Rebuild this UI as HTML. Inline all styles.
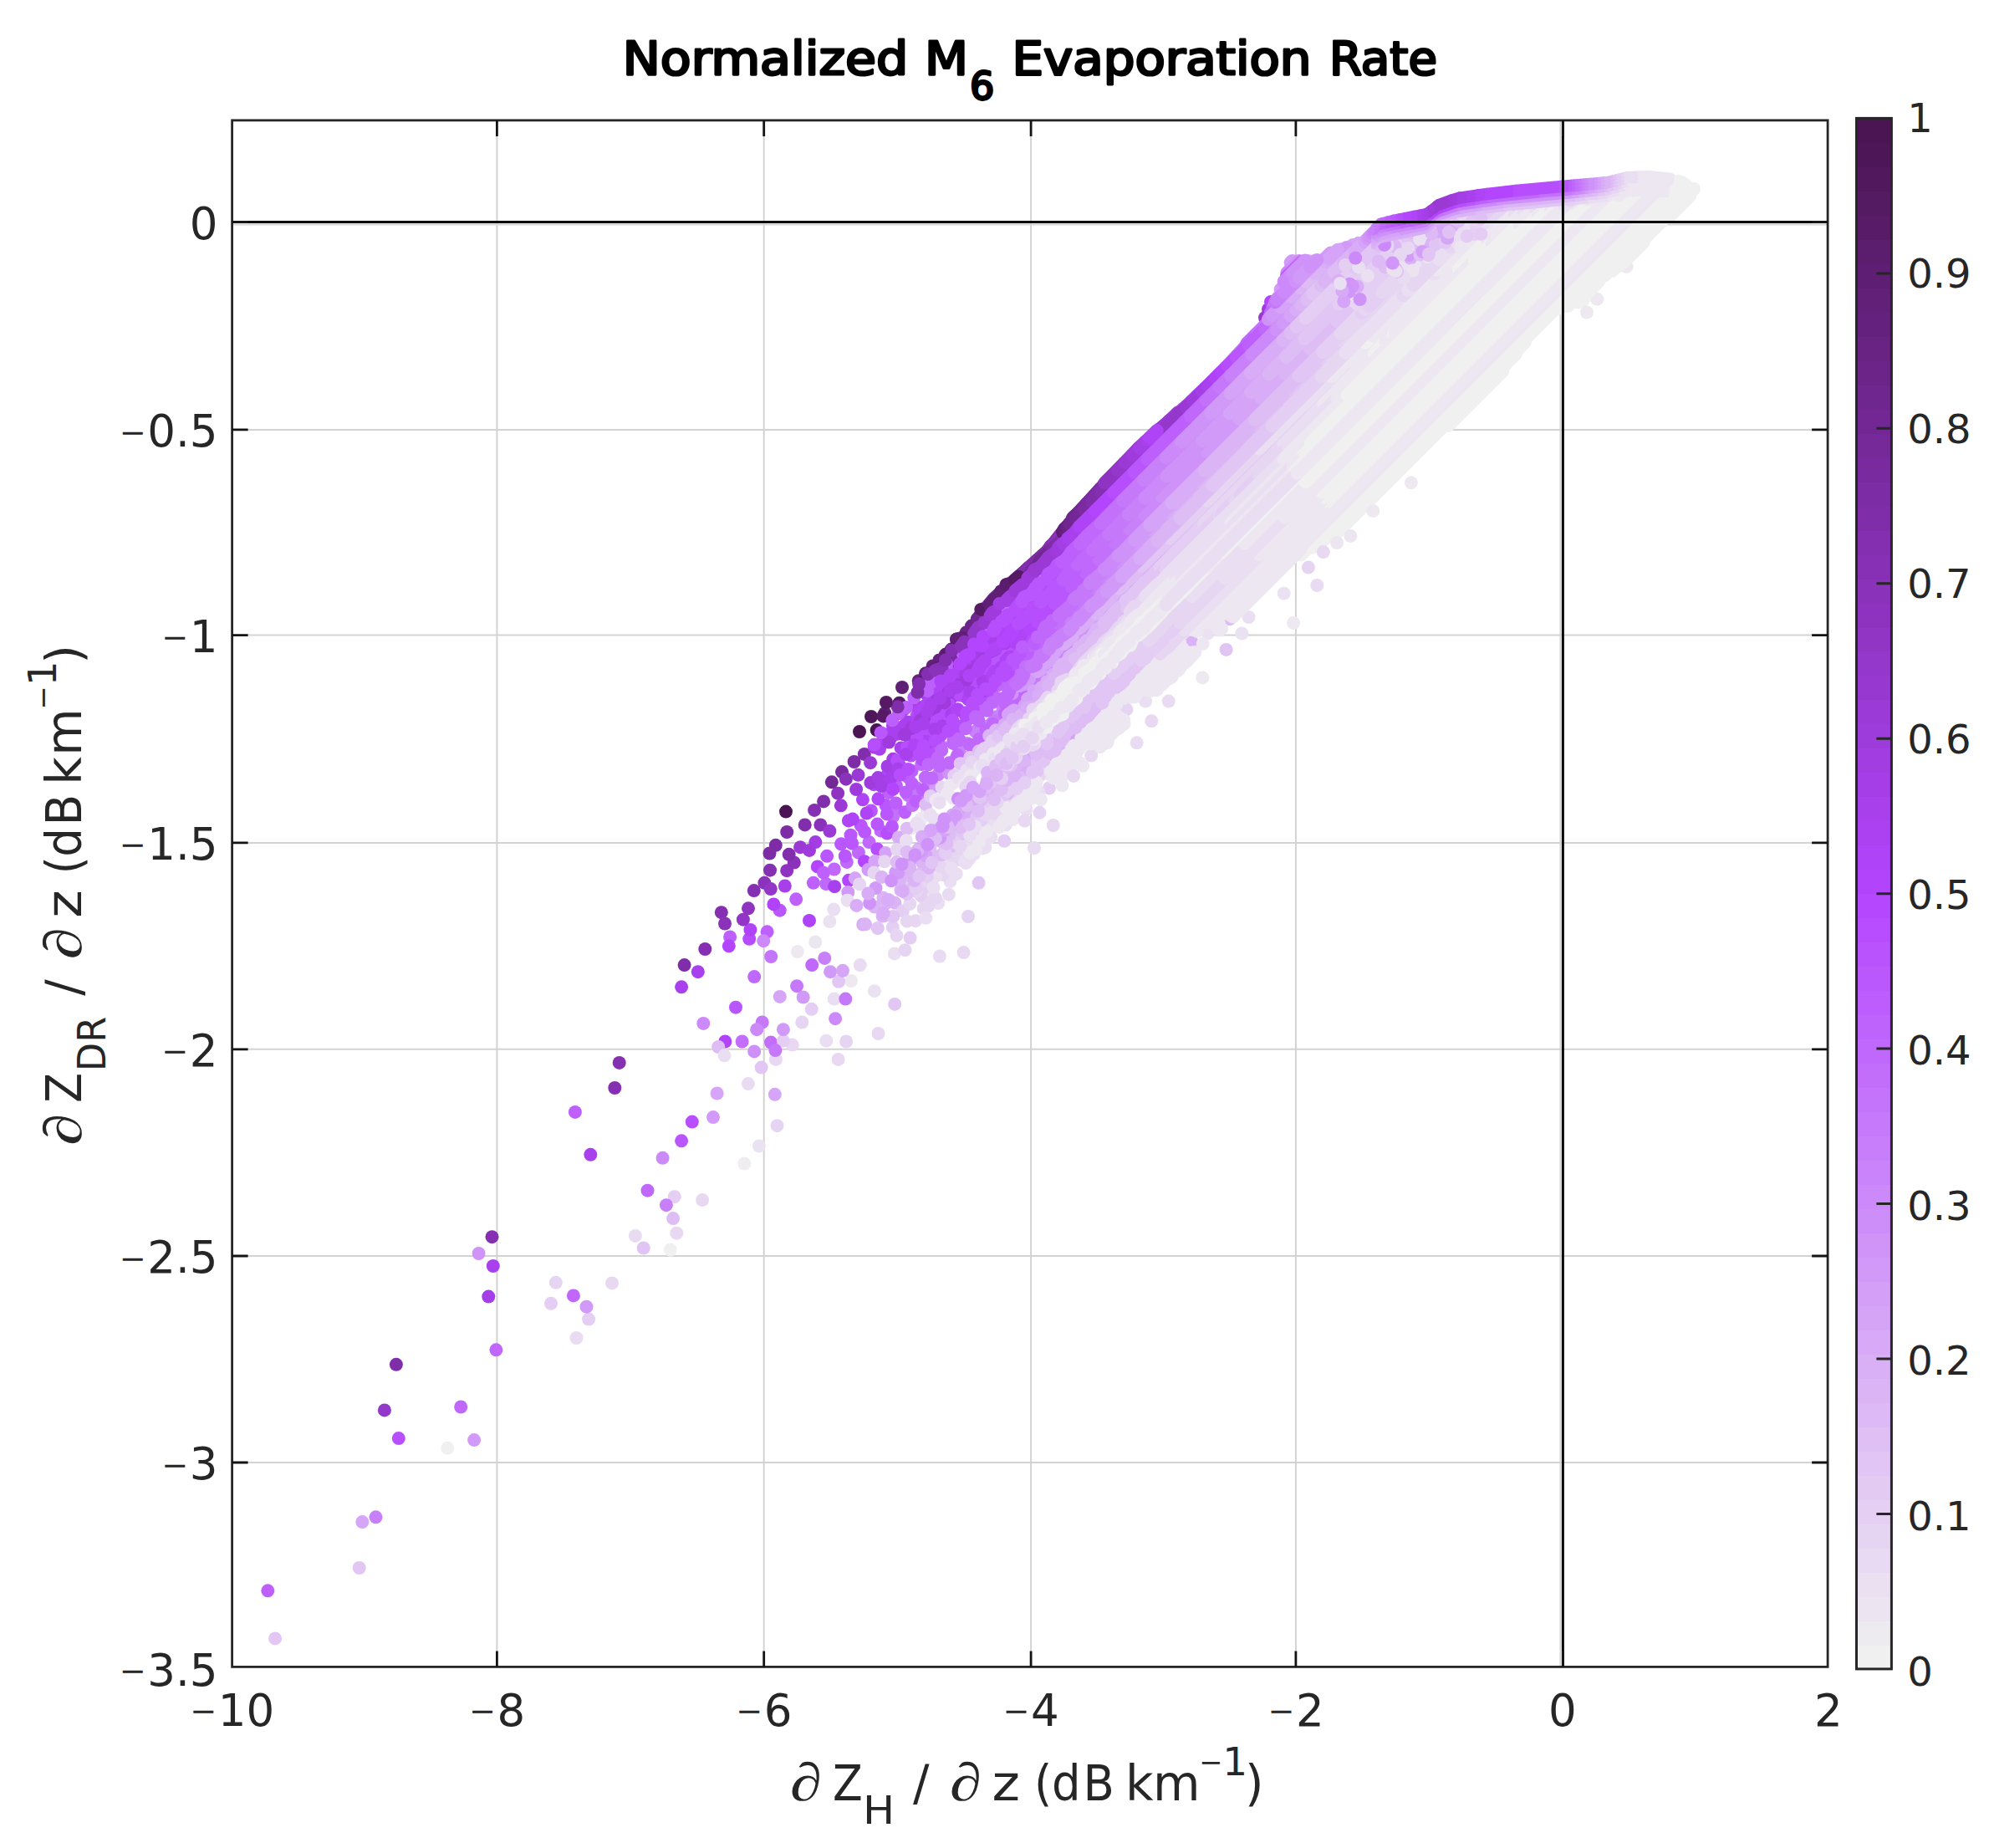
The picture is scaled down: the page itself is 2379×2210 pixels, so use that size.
<!DOCTYPE html>
<html lang="en"><head><meta charset="utf-8"><title>Normalized M6 Evaporation Rate</title>
<style>
html,body{margin:0;padding:0;background:#fff;overflow:hidden;width:2379px;height:2210px}
svg{display:block}
#pts circle{r:8px;stroke:none}
text{font-family:"DejaVu Sans","Liberation Sans",sans-serif;fill:#262626}
.tk{font-size:53px}
.ck{font-size:48px}
.tt{font-size:55px;fill:#000;stroke:#000;stroke-width:2.8px;stroke-linejoin:round}
.lb{font-size:58px}
.sb{font-size:47px}
.sbm{font-size:47px}
.pd{font-family:"Liberation Serif","DejaVu Serif",serif;font-style:italic;font-size:64px}
</style></head>
<body>
<svg width="2379" height="2210" viewBox="0 0 2379 2210">
<rect width="2379" height="2210" fill="#fff"/>
<path d="M594.4 143.9V1993.4M913.7 143.9V1993.4M1233.1 143.9V1993.4M1549.9 143.9V1993.4M1866.5 143.9V1993.4M277.6 268.4H2186.1M277.6 513.9H2186.1M277.6 759.6H2186.1M277.6 1007.9H2186.1M277.6 1254.8H2186.1M277.6 1502H2186.1M277.6 1749H2186.1" stroke="#d3d3d3" stroke-width="2" fill="none"/>
<g id="pts" fill="none" stroke-width="16" stroke-linecap="round" stroke-linejoin="round">
<circle r="8" cx="1517" cy="370" fill="#9f3bdc"/><circle r="8" cx="1513" cy="380" fill="#9b39d5"/><circle r="8" cx="1520" cy="361" fill="#b445ff"/><path stroke="#5f1f75" d="M1058.3 853h0"/><path stroke="#64217d" d="M1098.7 814.2h0M1107 805.3h0M1115.6 796.4h0M1123.4 789.4h0"/><path stroke="#6a2386" d="M1130.8 782.8h0M1137.8 776.6h0M1144.3 770.1h0M1150.1 763h0M1155.6 756.3h0M1162 748.6h0"/><path stroke="#6f268f" d="M1168.6 740.6L1173.6 734.4M1179.2 727.6L1188.5 716.3L1240.5 669.9"/><path stroke="#742897" d="M1240.5 669.9L1253.8 657.9L1285 618.6L1316.1 584.4"/><path stroke="#7a2ba0" d="M1316.1 584.4L1344.6 554.1"/><path stroke="#7f2da8" d="M1344.6 554.1L1354.1 544.2"/><path stroke="#842fb1" d="M1354.1 544.2L1361.7 536.2"/><path stroke="#8a32ba" d="M1361.7 536.2L1369.4 529"/><path stroke="#8f34c2" d="M1369.4 529L1379.4 520.1"/><path stroke="#9437cb" d="M1379.4 520.1L1387.3 513.1"/><path stroke="#9a39d4" d="M1387.3 513.1L1398.1 503.7"/><path stroke="#9f3bdc" d="M1398.1 503.7L1405.3 497.6"/><path stroke="#a43ee5" d="M1405.3 497.6L1415.8 488.6"/><path stroke="#a940ee" d="M1415.8 488.6L1425.6 479.5"/><path stroke="#af43f6" d="M1425.6 479.5L1432.6 472.7"/><path stroke="#b445ff" d="M1432.6 472.7L1441.5 464.1"/><path stroke="#b74efe" d="M1441.5 464.1L1449.9 455.9"/><path stroke="#ba56fe" d="M1449.9 455.9L1458.3 447.5"/><path stroke="#bd5ffd" d="M1458.3 447.5L1466.8 439"/><path stroke="#c067fc" d="M1466.8 439L1483.2 421.4"/><path stroke="#c370fb" d="M1483.2 421.4L1504.2 398.5"/><path stroke="#c678fa" d="M1504.2 398.5L1516 386L1521.9 370.7"/><path stroke="#c981fa" d="M1521.9 370.7L1524.4 364.7"/><circle r="8" cx="971.2" cy="1154.1" fill="#c067fc"/><circle r="8" cx="977.8" cy="1036.4" fill="#b445ff"/><circle r="8" cx="992.4" cy="1102.1" fill="#ebe2f1"/><circle r="8" cx="896.2" cy="1122.8" fill="#b64cfe"/><circle r="8" cx="1370.1" cy="838.6" fill="#eadff2"/><circle r="8" cx="986.3" cy="1145.9" fill="#c87ffa"/><circle r="8" cx="941.2" cy="995" fill="#7d2ca5"/><circle r="8" cx="927.8" cy="1010.8" fill="#7d2ca5"/><circle r="8" cx="740.7" cy="1270.9" fill="#8530b3"/><circle r="8" cx="1079" cy="822" fill="#5f1f75"/><circle r="8" cx="1359.7" cy="888.3" fill="#e9dbf2"/><circle r="8" cx="972.9" cy="1055.8" fill="#be60fd"/><circle r="8" cx="1493.5" cy="738" fill="#eadff2"/><circle r="8" cx="922" cy="1246.6" fill="#c26efb"/><circle r="8" cx="1012.1" cy="1245.5" fill="#e6d5f2"/><circle r="8" cx="867.3" cy="1245.5" fill="#b043f8"/><circle r="8" cx="981.4" cy="986.4" fill="#8a32ba"/><circle r="8" cx="1945.5" cy="318.9" fill="#eee9f1"/><circle r="8" cx="1237" cy="1014" fill="#e9dbf2"/><circle r="8" cx="459.9" cy="1686.4" fill="#9437cb"/><circle r="8" cx="567.1" cy="1722.1" fill="#d29af8"/><circle r="8" cx="947.7" cy="1249.6" fill="#e8d8f2"/><circle r="8" cx="815.1" cy="1364.3" fill="#ba56fe"/><circle r="8" cx="902.2" cy="1168.1" fill="#c067fc"/><circle r="8" cx="917.6" cy="1114.3" fill="#be60fd"/><circle r="8" cx="1045.9" cy="1185.2" fill="#ebe2f1"/><circle r="8" cx="1018" cy="1173" fill="#eee9f1"/><circle r="8" cx="1444.8" cy="757.3" fill="#ebe2f1"/><circle r="8" cx="732" cy="1534.4" fill="#e8d8f2"/><circle r="8" cx="1521.1" cy="686" fill="#debdf4"/><circle r="8" cx="1026.5" cy="926.8" fill="#9b39d5"/><circle r="8" cx="938.8" cy="1059.5" fill="#a73fea"/><circle r="8" cx="1397.7" cy="838.6" fill="#e9dbf2"/><circle r="8" cx="827.8" cy="1341.6" fill="#b84ffe"/><circle r="8" cx="880" cy="1204.7" fill="#ba56fe"/><circle r="8" cx="1158" cy="1096" fill="#e6d5f2"/><circle r="8" cx="320.3" cy="1902.3" fill="#be60fd"/><circle r="8" cx="897.4" cy="1111.9" fill="#b043f8"/><circle r="8" cx="932.7" cy="1088.7" fill="#ba56fe"/><circle r="8" cx="1002.6" cy="1266.9" fill="#e8d8f2"/><circle r="8" cx="914.4" cy="1055.8" fill="#8a32ba"/><circle r="8" cx="975.3" cy="1007.1" fill="#a33de3"/><circle r="8" cx="1033.8" cy="901.9" fill="#812eac"/><circle r="8" cx="774.5" cy="1423.7" fill="#c067fc"/><circle r="8" cx="887.6" cy="1245.5" fill="#c26efb"/><circle r="8" cx="894.9" cy="1296.1" fill="#e9dbf2"/><circle r="8" cx="1028.8" cy="1154.1" fill="#e9dbf2"/><circle r="8" cx="985.1" cy="958.4" fill="#812eac"/><circle r="8" cx="929.5" cy="1346.2" fill="#e6d5f2"/><circle r="8" cx="1607.1" cy="608.4" fill="#ece6f1"/><circle r="8" cx="921.8" cy="1063.1" fill="#9236c8"/><circle r="8" cx="809.3" cy="1474.7" fill="#e8d8f2"/><circle r="8" cx="1347.4" cy="848.4" fill="#e6d5f2"/><circle r="8" cx="1425.3" cy="767.2" fill="#dab2f5"/><circle r="8" cx="962.7" cy="986.4" fill="#812eac"/><circle r="8" cx="968" cy="1100.9" fill="#b043f8"/><circle r="8" cx="1547.1" cy="745.1" fill="#eee9f1"/><circle r="8" cx="1910.3" cy="357.6" fill="#eee9f1"/><circle r="8" cx="1259.7" cy="987" fill="#e8d8f2"/><circle r="8" cx="901.8" cy="1065.1" fill="#8530b3"/><circle r="8" cx="862.8" cy="1091.2" fill="#8530b3"/><circle r="8" cx="769.7" cy="1492.5" fill="#e0c4f4"/><circle r="8" cx="888.9" cy="1099.7" fill="#9236c8"/><circle r="8" cx="584.3" cy="1550.6" fill="#a53ee7"/><circle r="8" cx="704.1" cy="1577.6" fill="#e4cef3"/><circle r="8" cx="957.1" cy="1013.2" fill="#9b39d5"/><circle r="8" cx="433.3" cy="1820.1" fill="#d6a5f7"/><circle r="8" cx="895" cy="1086.3" fill="#8e34c1"/><circle r="8" cx="535.3" cy="1731.8" fill="#f0f0f0"/><circle r="8" cx="907.9" cy="1370.5" fill="#ebe2f1"/><circle r="8" cx="818.6" cy="1154.1" fill="#7f2da8"/><circle r="8" cx="1123.9" cy="1143.5" fill="#e9dbf2"/><circle r="8" cx="806.7" cy="1431.2" fill="#e4cef3"/><circle r="8" cx="1007" cy="923.1" fill="#792a9e"/><circle r="8" cx="873.1" cy="1120.4" fill="#be60fd"/><circle r="8" cx="913.2" cy="1125.2" fill="#cc89f9"/><circle r="8" cx="689.5" cy="1600" fill="#e9dbf2"/><circle r="8" cx="970.7" cy="1206.8" fill="#e4cef3"/><circle r="8" cx="1470.8" cy="740.3" fill="#debdf4"/><circle r="8" cx="551.2" cy="1682.5" fill="#c067fc"/><circle r="8" cx="988.3" cy="1244.7" fill="#eadff2"/><circle r="8" cx="1438.3" cy="810.4" fill="#eee9f1"/><circle r="8" cx="1305.2" cy="903.6" fill="#e8d8f2"/><circle r="8" cx="659" cy="1558.8" fill="#e4cef3"/><circle r="8" cx="926.8" cy="1308.8" fill="#d6a5f7"/><circle r="8" cx="911.7" cy="1222.5" fill="#c678fa"/><circle r="8" cx="1042" cy="857" fill="#4e1759"/><circle r="8" cx="589.8" cy="1514" fill="#a940ee"/><circle r="8" cx="941.2" cy="1041.2" fill="#8e34c1"/><circle r="8" cx="329.1" cy="1959.4" fill="#e2c7f4"/><circle r="8" cx="949.8" cy="1031.5" fill="#8a32ba"/><circle r="8" cx="1254.9" cy="942.5" fill="#e4cef3"/>
<path stroke="#d29af8" d="M1543.6 314.1L1545.7 312"/>
<path stroke="#eadff2" d="M1122.2 1080h0"/><path stroke="#ede7f1" d="M1270.5 939.3h0M1269.2 926h0M1290.8 911.8h0M1317.8 883.9L1322.4 876.2M1337.5 871.2L1340 865.1M1377.2 824.7L1379 822L1388.8 814.6L1396.4 806.6L1405.8 799.7L1421.7 780.6M1455.9 746.9h0M1471.1 731.9L1596.1 606.9"/><path stroke="#f0f0f0" d="M1596.1 606.9L1987.5 215.5"/>
<path stroke="#e7d6f2" d="M1103.8 1072.9h0M1118.1 1046.6h0"/><path stroke="#eadff2" d="M1132.5 1040.9h0M1153.7 1019h0M1162.3 1012.9h0M1183.6 992.7h0M1194.5 980.1h0M1203.7 970.8h0M1214.8 959.7h0M1225.4 946.5h0M1238.8 938.5h0M1243.4 924h0"/><path stroke="#e7d6f2" d="M1257.2 912.8L1261.3 914.1"/><path stroke="#e4cef3" d="M1270.2 898.7h0M1281.6 888.8h0M1289.9 881.8h0M1296.9 869.8L1302 864.1M1312 857h0M1323.5 849.5h0"/><path stroke="#e7d6f2" d="M1331.4 843.2L1336.7 837.3M1343.3 829.1L1346.1 825.3M1353.4 818.7h0M1358.9 811.6L1367.4 802L1374.4 798.2L1382.3 788.3M1388.5 782.2L1392.1 779.2M1398.7 772.9L1402.2 769.7"/><path stroke="#eadff2" d="M1402.2 769.7L1501.1 670.4"/><path stroke="#ede7f1" d="M1501.1 670.4L1506.9 664.5"/><path stroke="#eadff2" d="M1506.9 664.5L1510 661.4"/><path stroke="#ede7f1" d="M1510 661.4L1579.4 592.1"/><path stroke="#f0f0f0" d="M1579.4 592.1L1950.9 220.5"/><path stroke="#ede7f1" d="M1950.9 220.5L1955.5 216"/><path stroke="#f0f0f0" d="M1955.5 216L1957.2 214.2"/>
<path stroke="#ba56fe" d="M1223.1 796.8L1229.8 793.3"/><path stroke="#bd5ffd" d="M1235.8 786.1h0M1243.7 779.1h0"/><path stroke="#c067fc" d="M1254.1 771.6L1253.9 765.1M1264.1 760.3h0"/><path stroke="#c370fb" d="M1271 751.8L1274.7 746.6M1281 740.2h0M1289.7 735.7h0"/><path stroke="#c678fa" d="M1289.7 735.7L1291.3 731L1298.1 727.9L1302.5 720.8L1310.8 712.4"/><path stroke="#c981fa" d="M1310.8 712.4L1325.4 697"/><path stroke="#cc89f9" d="M1325.4 697L1339.1 683.9"/><path stroke="#cf92f8" d="M1339.1 683.9L1359.2 663.5"/><path stroke="#d29af8" d="M1359.2 663.5L1375.8 647.1"/><path stroke="#d5a3f7" d="M1375.8 647.1L1395.9 627"/><path stroke="#d8acf6" d="M1395.9 627L1426.1 596.8"/><path stroke="#dbb4f5" d="M1426.1 596.8L1434.5 588.4"/><path stroke="#d8acf6" d="M1434.5 588.4L1437.1 585.7"/><path stroke="#dbb4f5" d="M1437.1 585.7L1503.2 519.6"/><path stroke="#debdf4" d="M1503.2 519.6L1539.3 483.5"/><path stroke="#e1c5f4" d="M1539.3 483.5L1583.6 439.3"/><path stroke="#e4cef3" d="M1583.6 439.3L1602.9 419.9"/><path stroke="#e7d6f2" d="M1602.9 419.9L1622.2 400.6"/><path stroke="#eadff2" d="M1622.2 400.6L1632.9 390"/><path stroke="#e7d6f2" d="M1632.9 390L1760.4 262.4"/><path stroke="#e4cef3" d="M1760.4 262.4L1771.8 251"/><path stroke="#e1c5f4" d="M1771.8 251L1776.3 246.6"/><path stroke="#debdf4" d="M1776.3 246.6L1778.1 244.8"/><path stroke="#d8acf6" d="M1778.1 244.8L1779.8 243"/><path stroke="#d5a3f7" d="M1779.8 243L1781.9 241"/><path stroke="#cf92f8" d="M1781.9 241L1783.7 239.2"/><path stroke="#c981fa" d="M1783.7 239.2L1785.7 237.1"/><path stroke="#c067fc" d="M1785.7 237.1L1788 234.8"/><path stroke="#b74efe" d="M1788 234.8L1790.1 232.8"/>
<path stroke="#b445ff" d="M1210.9 822.7h0"/><path stroke="#b74efe" d="M1221.1 814.7L1227.2 810.4"/><path stroke="#ba56fe" d="M1231.9 801.8L1238.3 797.9M1241.7 789.8h0"/><path stroke="#bd5ffd" d="M1249.9 784.5L1256.2 779.8"/><path stroke="#c067fc" d="M1264.2 770.7L1268.8 765.3M1274.2 758.3L1280.2 756L1285.6 751.8"/><path stroke="#c370fb" d="M1285.6 751.8L1289.4 745.5L1294.7 742.6L1296.7 735.2L1301.4 731"/><path stroke="#c678fa" d="M1301.4 731L1320.1 715.8"/><path stroke="#c981fa" d="M1320.1 715.8L1323.5 710.9L1336.6 698.3"/><path stroke="#cc89f9" d="M1336.6 698.3L1338.9 695L1343.5 692.8L1345.7 687.5L1348.8 685.5"/><path stroke="#cf92f8" d="M1348.8 685.5L1366.5 668.6"/><path stroke="#d29af8" d="M1366.5 668.6L1384.1 650.5"/><path stroke="#d5a3f7" d="M1384.1 650.5L1403.1 631.4"/><path stroke="#d8acf6" d="M1403.1 631.4L1432.6 602"/><path stroke="#dbb4f5" d="M1432.6 602L1440.8 593.8"/><path stroke="#d8acf6" d="M1440.8 593.8L1457.6 576.9"/><path stroke="#dbb4f5" d="M1457.6 576.9L1514.8 519.8"/><path stroke="#debdf4" d="M1514.8 519.8L1548.9 485.7"/><path stroke="#e1c5f4" d="M1548.9 485.7L1588.7 445.8"/><path stroke="#e4cef3" d="M1588.7 445.8L1608.6 426"/><path stroke="#e7d6f2" d="M1608.6 426L1625.4 409.2"/><path stroke="#eadff2" d="M1625.4 409.2L1641.7 392.9"/><path stroke="#e7d6f2" d="M1641.7 392.9L1652.4 382.1"/><path stroke="#eadff2" d="M1652.4 382.1L1672.4 362.2"/><path stroke="#e7d6f2" d="M1672.4 362.2L1728.4 306.1"/><path stroke="#eadff2" d="M1728.4 306.1L1732.4 302.2"/><path stroke="#e7d6f2" d="M1732.4 302.2L1747.6 287"/><path stroke="#eadff2" d="M1747.6 287L1764.2 270.4"/><path stroke="#e7d6f2" d="M1764.2 270.4L1774 260.6"/><path stroke="#e4cef3" d="M1774 260.6L1785 249.5"/><path stroke="#e1c5f4" d="M1785 249.5L1789.1 245.4"/><path stroke="#debdf4" d="M1789.1 245.4L1791.1 243.5"/><path stroke="#dbb4f5" d="M1791.1 243.5L1793.2 241.4"/><path stroke="#d5a3f7" d="M1793.2 241.4L1795.1 239.4"/><path stroke="#cf92f8" d="M1795.1 239.4L1797 237.6"/><path stroke="#c981fa" d="M1797 237.6L1799 235.6"/><path stroke="#c067fc" d="M1799 235.6L1800.8 233.8"/><path stroke="#b74efe" d="M1800.8 233.8L1802.8 231.7"/>
<path stroke="#af43f6" d="M1248.7 704.6L1253.4 699.5L1258.8 696L1268.2 684.4L1274.4 679.5"/><path stroke="#b445ff" d="M1274.4 679.5L1280.9 674.3L1288.4 665.3"/><path stroke="#b74efe" d="M1288.4 665.3L1293.5 659.8L1299.6 655.7L1307.6 646.2"/><path stroke="#ba56fe" d="M1307.6 646.2L1327.7 626.3"/><path stroke="#bd5ffd" d="M1327.7 626.3L1347.3 606.7"/><path stroke="#c067fc" d="M1347.3 606.7L1366.9 587.1"/><path stroke="#c370fb" d="M1366.9 587.1L1389.2 564.8"/><path stroke="#c678fa" d="M1389.2 564.8L1398.1 555.9"/><path stroke="#c370fb" d="M1398.1 555.9L1412.1 541.9"/><path stroke="#c678fa" d="M1412.1 541.9L1446.2 507.8"/><path stroke="#c981fa" d="M1446.2 507.8L1468.4 485.6"/><path stroke="#cc89f9" d="M1468.4 485.6L1488.5 465.5"/><path stroke="#cf92f8" d="M1488.5 465.5L1507.1 447"/><path stroke="#d29af8" d="M1507.1 447L1525.6 428.4"/><path stroke="#d5a3f7" d="M1525.6 428.4L1541.9 412.1"/><path stroke="#d8acf6" d="M1541.9 412.1L1548.2 405.8"/><path stroke="#dbb4f5" d="M1548.2 405.8L1565.5 388.5"/><path stroke="#debdf4" d="M1565.5 388.5L1597.8 356.3"/><path stroke="#e1c5f4" d="M1597.8 356.3L1669.4 284.6"/><path stroke="#debdf4" d="M1669.4 284.6L1673.7 280.4"/><path stroke="#dbb4f5" d="M1673.7 280.4L1678 276"/><path stroke="#d5a3f7" d="M1678 276L1680.4 273.6"/><path stroke="#d29af8" d="M1680.4 273.6L1682.7 271.3"/><path stroke="#cc89f9" d="M1682.7 271.3L1684.9 269.1"/><path stroke="#c981fa" d="M1684.9 269.1L1686.7 267.3"/><path stroke="#c067fc" d="M1686.7 267.3L1688.9 265.1"/><path stroke="#ba56fe" d="M1688.9 265.1L1690.8 263.2"/><path stroke="#af43f6" d="M1690.8 263.2L1693.3 260.7"/>
<path stroke="#e7d6f2" d="M1087.6 1059.9h0M1099.4 1053.4h0M1111.1 1043.6h0M1129.4 1026.8h0"/><path stroke="#eadff2" d="M1139.5 1016.6h0M1151.3 1002.9h0M1169.4 987.3h0M1179.3 980.9h0"/><path stroke="#e7d6f2" d="M1192.7 963.9h0M1203.4 951.2L1205.6 945.1"/><path stroke="#e4cef3" d="M1220.5 932.9h0M1228.1 923.3h0M1235.1 913.5h0M1243.8 914.4h0"/><path stroke="#e1c5f4" d="M1244.6 898.9h0M1257.3 893.2h0M1269.4 884.9L1269.7 878.7M1279.8 870.5h0M1287.8 863.8h0M1294.9 855.8h0M1303.2 849L1303.3 844.4M1311.6 840.8h0"/><path stroke="#e4cef3" d="M1311.6 840.8L1317.8 838.7L1319.9 831.6L1326.8 827.6M1334.2 821h0M1339.4 814L1343.6 805.2M1351 798.3L1359.8 793.4L1364.5 787.6L1371.5 784.3"/><path stroke="#e7d6f2" d="M1371.5 784.3L1373.3 778.1L1376.3 773.7L1393.9 759.1L1404.3 746.9L1428.9 723"/><path stroke="#eadff2" d="M1428.9 723L1499.4 652.4"/><path stroke="#ede7f1" d="M1499.4 652.4L1569.4 582.4"/><path stroke="#f0f0f0" d="M1569.4 582.4L1915.4 236.5"/><path stroke="#ede7f1" d="M1915.4 236.5L1919.8 232.1"/><path stroke="#eadff2" d="M1919.8 232.1L1924.5 227.4"/><path stroke="#e7d6f2" d="M1924.5 227.4L1926.8 225.1"/><path stroke="#e4cef3" d="M1926.8 225.1L1929 222.9"/><path stroke="#e1c5f4" d="M1929 222.9L1933.9 218"/>
<path stroke="#b74efe" d="M1249.9 748.4h0M1255.5 740.6h0M1264.5 736h0"/><path stroke="#ba56fe" d="M1264.5 736L1267 728.2M1274.5 723.1L1279.2 718.6"/><path stroke="#bd5ffd" d="M1279.2 718.6L1283.7 714.4M1290.3 707.9L1301.7 699.8"/><path stroke="#c067fc" d="M1306.8 692.2L1313.9 684.4"/><path stroke="#c370fb" d="M1313.9 684.4L1326.3 671.5"/><path stroke="#c678fa" d="M1326.3 671.5L1331.3 668L1340 658.3"/><path stroke="#c981fa" d="M1340 658.3L1356.5 641.9"/><path stroke="#cc89f9" d="M1356.5 641.9L1373.4 624.9"/><path stroke="#cf92f8" d="M1373.4 624.9L1394 604.2"/><path stroke="#d29af8" d="M1394 604.2L1461.9 536.3"/><path stroke="#d5a3f7" d="M1461.9 536.3L1497.1 501.2"/><path stroke="#d8acf6" d="M1497.1 501.2L1528.2 470"/><path stroke="#dbb4f5" d="M1528.2 470L1571.9 426.3"/><path stroke="#debdf4" d="M1571.9 426.3L1587.9 410.3"/><path stroke="#e1c5f4" d="M1587.9 410.3L1605.7 392.5"/><path stroke="#e4cef3" d="M1605.7 392.5L1624.9 373.3"/><path stroke="#e1c5f4" d="M1624.9 373.3L1633.7 364.6"/><path stroke="#e4cef3" d="M1633.7 364.6L1667.9 330.3"/><path stroke="#e7d6f2" d="M1667.9 330.3L1674.2 324.1"/><path stroke="#e4cef3" d="M1674.2 324.1L1737.2 261"/><path stroke="#e1c5f4" d="M1737.2 261L1743.3 254.9"/><path stroke="#debdf4" d="M1743.3 254.9L1745.2 253"/><path stroke="#dbb4f5" d="M1745.2 253L1747 251.3"/><path stroke="#d8acf6" d="M1747 251.3L1749.4 248.8"/><path stroke="#d5a3f7" d="M1749.4 248.8L1751.3 246.9"/><path stroke="#d29af8" d="M1751.3 246.9L1753.1 245.2"/><path stroke="#c981fa" d="M1753.1 245.2L1755.5 242.7"/><path stroke="#c370fb" d="M1755.5 242.7L1757.3 240.9"/><path stroke="#ba56fe" d="M1757.3 240.9L1759.1 239.1"/><path stroke="#af43f6" d="M1759.1 239.1L1761.1 237.1"/>
<path stroke="#6f268f" d="M1283 619.3L1290.8 612"/><path stroke="#742897" d="M1290.8 612L1299.9 602.5"/><path stroke="#7a2ba0" d="M1299.9 602.5L1310.2 592.2"/><path stroke="#7f2da8" d="M1310.2 592.2L1323 579.3"/><path stroke="#842fb1" d="M1323 579.3L1338.1 564.2"/><path stroke="#8a32ba" d="M1338.1 564.2L1347.4 554.9"/><path stroke="#8f34c2" d="M1347.4 554.9L1357.2 545.1"/><path stroke="#9437cb" d="M1357.2 545.1L1362.6 539.7"/><path stroke="#9a39d4" d="M1362.6 539.7L1408.9 493.5"/><path stroke="#c067fc" d="M1491.3 411L1502.9 399.4"/><path stroke="#c370fb" d="M1502.9 399.4L1516.4 386"/><path stroke="#c678fa" d="M1516.4 386L1524.9 377.5"/><path stroke="#c981fa" d="M1524.9 377.5L1533.7 368.6"/><path stroke="#cc89f9" d="M1533.7 368.6L1543.3 359"/><path stroke="#cf92f8" d="M1543.3 359L1551.6 350.8"/><path stroke="#d29af8" d="M1551.6 350.8L1559.3 343"/><path stroke="#d5a3f7" d="M1559.3 343L1563.9 338.5"/><path stroke="#d8acf6" d="M1563.9 338.5L1570.1 332.3"/><path stroke="#d5a3f7" d="M1570.1 332.3L1577 325.4"/><path stroke="#d29af8" d="M1577 325.4L1585.3 317.1"/><path stroke="#d5a3f7" d="M1585.3 317.1L1593.9 308.4"/><path stroke="#d29af8" d="M1593.9 308.4L1604 298.3"/>
<path stroke="#dbb4f5" d="M1060.7 1079.6h0M1077.4 1064.5h0"/><path stroke="#debdf4" d="M1089.1 1048.2h0M1103.3 1032h0M1117.5 1024.5h0"/><path stroke="#e1c5f4" d="M1130.6 1013.1h0M1140.9 1000.3h0M1152.2 986.3h0M1169.5 975.8L1172.5 967.9M1183.5 958.6h0M1190.4 947.4h0"/><path stroke="#debdf4" d="M1205.3 935.1h0M1213.1 925.3h0M1226.9 917.3h0M1230 908.6h0M1240.3 899.3h0"/><path stroke="#e1c5f4" d="M1248.6 894.1h0M1255.8 885.2L1257.4 877M1269.3 873.5h0M1273.4 864.4L1278.7 859.6M1284.8 849.8L1290.4 849.1M1296.8 841.4L1300.1 834.8M1310.8 829.5L1315.5 823.8"/><path stroke="#e4cef3" d="M1315.5 823.8L1319.4 817.2L1325.7 815.7M1332.9 808.3L1337.8 802.7M1344.2 795.9L1345.8 792.3L1351.4 786.4L1354.6 784.7L1358.5 779.8"/><path stroke="#e7d6f2" d="M1358.5 779.8L1362.7 775.8L1365.9 774.5L1372.3 765.8L1376.6 763.1L1380.2 758.5L1384.2 756.2L1390.9 747.2L1423.6 715.4"/><path stroke="#eadff2" d="M1423.6 715.4L1493.1 645.7"/><path stroke="#ede7f1" d="M1493.1 645.7L1562.1 576.7"/><path stroke="#f0f0f0" d="M1562.1 576.7L1893.5 245.3"/><path stroke="#ede7f1" d="M1893.5 245.3L1902.8 236"/><path stroke="#eadff2" d="M1902.8 236L1906.4 232.4"/><path stroke="#e7d6f2" d="M1906.4 232.4L1908.7 230.1"/><path stroke="#e4cef3" d="M1908.7 230.1L1911 227.8"/><path stroke="#e1c5f4" d="M1911 227.8L1913.2 225.6"/><path stroke="#dbb4f5" d="M1913.2 225.6L1915.4 223.4"/><path stroke="#d8acf6" d="M1915.4 223.4L1917.7 221.1"/>
<path stroke="#e7d6f2" d="M1095.1 1101.2h0M1110.3 1083.5h0"/><path stroke="#eadff2" d="M1115.1 1066h0M1136.4 1054.1h0M1153.9 1030.2h0M1164.8 1021.4h0M1178.5 1013.3h0M1202.8 986.5h0M1227.4 968.2h0M1230.8 955.7h0M1242.6 947.7h0M1260.8 921.2h0M1275.3 918.2h0M1284.4 909.7h0M1287.6 899.6h0"/><path stroke="#ede7f1" d="M1287.6 899.6L1290.9 895.7M1300 886.4L1305.6 883.1L1311.3 881.7M1320.2 872.3h0M1327 865.6L1326 860.4M1357 833.4L1361.1 826.1L1366.4 821.2L1372.9 818.2L1378.7 813.5L1386.3 802.5L1395.4 795.8L1397.3 791.6L1402.3 789L1409.3 780.6L1412.8 778.5"/><path stroke="#eadff2" d="M1446.3 743.3L1506.9 682.7"/><path stroke="#ede7f1" d="M1506.9 682.7L1976.2 213.5"/>
<path stroke="#bd5ffd" d="M1519.8 374.3h0"/><path stroke="#c067fc" d="M1519.8 374.3L1526.1 368"/><path stroke="#c370fb" d="M1526.1 368L1533.2 360.9"/><path stroke="#c678fa" d="M1533.2 360.9L1542 352.1"/><path stroke="#c981fa" d="M1542 352.1L1550 344.1"/><path stroke="#cc89f9" d="M1550 344.1L1556 338.1"/><path stroke="#cf92f8" d="M1556 338.1L1559.7 334.4"/><path stroke="#d29af8" d="M1559.7 334.4L1569.9 324.2"/><path stroke="#cf92f8" d="M1569.9 324.2L1574.1 320"/><path stroke="#cc89f9" d="M1574.1 320L1583.4 310.7"/><path stroke="#d29af8" d="M1583.4 310.7L1591.6 302.6"/>
<path stroke="#c067fc" d="M988.1 1057h0M997.8 1039.5h0M1012.8 1030.9h0M1026.9 1019.5h0M1039.5 1007.1h0M1053.5 993.4h0"/><path stroke="#c370fb" d="M1068.1 976.4h0M1071.9 967h0"/><path stroke="#c678fa" d="M1086.2 951.2h0M1096.8 942.6h0"/><path stroke="#c981fa" d="M1114.2 937.6h0M1121.8 926.6h0M1132.5 915.7h0M1143.8 906.3h0M1147.3 898.1h0M1157.2 889.1h0M1166.6 874.8h0M1174.1 867.8h0M1185.7 865.4h0M1192.8 857h0M1199.6 848.2h0M1204.4 839.9L1215.2 827.7M1222 820.2h0"/><path stroke="#cc89f9" d="M1222 820.2L1225.1 812.6M1235.9 809.9h0M1242.2 803.3h0"/><path stroke="#cf92f8" d="M1242.2 803.3L1246.4 798L1251.8 795M1258.3 787.4h0M1264.2 779.9h0"/><path stroke="#d29af8" d="M1264.2 779.9L1268.6 777.5M1275.4 769.9L1275.6 769.4M1282.3 763.3L1293.9 752.2L1297.3 745.8"/><path stroke="#d5a3f7" d="M1297.3 745.8L1302.7 740.4L1308.4 739.2L1318.8 725.8L1329.4 715.9"/><path stroke="#d8acf6" d="M1329.4 715.9L1342.3 702.7L1345.1 697.6L1348.7 695"/><path stroke="#dbb4f5" d="M1348.7 695L1376.9 668"/><path stroke="#debdf4" d="M1376.9 668L1406.5 638.3"/><path stroke="#e1c5f4" d="M1406.5 638.3L1444.4 600.3"/><path stroke="#e4cef3" d="M1444.4 600.3L1524.9 519.8"/><path stroke="#e7d6f2" d="M1524.9 519.8L1595.1 449.6"/><path stroke="#eadff2" d="M1595.1 449.6L1624 420.7"/><path stroke="#ede7f1" d="M1624 420.7L1657.8 386.9"/><path stroke="#eadff2" d="M1657.8 386.9L1757.1 287.6"/><path stroke="#ede7f1" d="M1757.1 287.6L1763.5 281.2"/><path stroke="#eadff2" d="M1763.5 281.2L1783.6 261.2"/><path stroke="#e7d6f2" d="M1783.6 261.2L1792.7 252"/><path stroke="#e4cef3" d="M1792.7 252L1801.6 243.1"/><path stroke="#e1c5f4" d="M1801.6 243.1L1803.5 241.2"/><path stroke="#dbb4f5" d="M1803.5 241.2L1805.7 239.1"/><path stroke="#d5a3f7" d="M1805.7 239.1L1807.7 237"/><path stroke="#cf92f8" d="M1807.7 237L1809.9 234.9"/><path stroke="#c678fa" d="M1809.9 234.9L1812.1 232.6"/><path stroke="#bd5ffd" d="M1812.1 232.6L1814 230.7"/><path stroke="#b74efe" d="M1814 230.7L1815.8 229"/>
<path stroke="#a940ee" d="M998.2 1060.2h0"/><path stroke="#b445ff" d="M1015.1 1052.8h0M1033.9 1030.2h0"/><path stroke="#b74efe" d="M1049.3 1015.4h0M1061.1 996.6h0"/><path stroke="#ba56fe" d="M1066.9 988.4h0"/><path stroke="#bd5ffd" d="M1082.3 971.3h0"/><path stroke="#c370fb" d="M1091.5 963h0"/><path stroke="#c981fa" d="M1106.9 950.8h0"/><path stroke="#d29af8" d="M1119.1 942.8h0"/><path stroke="#cf92f8" d="M1134.9 924.5h0M1144.5 919.6h0"/><path stroke="#cc89f9" d="M1150.5 910.5h0M1160.7 904.4h0"/><path stroke="#c981fa" d="M1172.3 888.1h0M1179.1 882.9h0M1186.6 869.2h0"/><path stroke="#c678fa" d="M1186.6 869.2L1189.1 862.5M1201.1 857.5h0"/><path stroke="#c370fb" d="M1212.7 849.4h0M1218.2 840h0"/><path stroke="#c678fa" d="M1218.2 840L1221.8 834.5M1230.7 830.6h0M1238.6 821.4h0"/><path stroke="#c981fa" d="M1238.6 821.4L1243.2 815"/><path stroke="#cc89f9" d="M1253.6 806.3L1257.9 803.5M1264.7 798.1h0"/><path stroke="#cf92f8" d="M1270.6 789.9h0M1279 784.6L1284.7 775.6M1292 768.4L1296 762.1L1304 756.3"/><path stroke="#d29af8" d="M1311.9 748.1L1315.3 748L1318.1 741L1325 736.5L1332.1 727.9"/><path stroke="#d5a3f7" d="M1332.1 727.9L1346.4 712.6"/><path stroke="#d8acf6" d="M1346.4 712.6L1351 709.8L1357.7 701.5L1367 692.9"/><path stroke="#dbb4f5" d="M1367 692.9L1395.2 665.3"/><path stroke="#debdf4" d="M1395.2 665.3L1423 637.5"/><path stroke="#e1c5f4" d="M1423 637.5L1524.3 536.1"/><path stroke="#e4cef3" d="M1524.3 536.1L1553.8 506.6"/><path stroke="#e7d6f2" d="M1553.8 506.6L1594.8 465.6"/><path stroke="#eadff2" d="M1594.8 465.6L1615.1 445.4"/><path stroke="#ede7f1" d="M1615.1 445.4L1739.4 321"/><path stroke="#f0f0f0" d="M1739.4 321L1750.8 309.7"/><path stroke="#ede7f1" d="M1750.8 309.7L1759.2 301.2"/><path stroke="#f0f0f0" d="M1759.2 301.2L1777.1 283.3"/><path stroke="#ede7f1" d="M1777.1 283.3L1803.7 256.8"/><path stroke="#eadff2" d="M1803.7 256.8L1808.3 252.1"/><path stroke="#e7d6f2" d="M1808.3 252.1L1813.8 246.6"/><path stroke="#e4cef3" d="M1813.8 246.6L1818.3 242.1"/><path stroke="#e1c5f4" d="M1818.3 242.1L1820.3 240.1"/><path stroke="#debdf4" d="M1820.3 240.1L1822.2 238.3"/><path stroke="#dbb4f5" d="M1822.2 238.3L1824 236.5"/><path stroke="#d29af8" d="M1824 236.5L1826.4 234.1"/><path stroke="#c678fa" d="M1826.4 234.1L1828.7 231.8"/><path stroke="#bd5ffd" d="M1828.7 231.8L1830.9 229.5"/><path stroke="#b445ff" d="M1830.9 229.5L1832.8 227.6"/>
<path stroke="#af43f6" d="M1225.1 802.3L1230.9 796.3"/><path stroke="#b445ff" d="M1235.3 788.4L1241.8 784.4M1247 777.7h0"/><path stroke="#b74efe" d="M1255.4 770.8L1260.1 764.6L1268.1 763.4"/><path stroke="#ba56fe" d="M1268.1 763.4L1270.2 755.3M1276.9 749.5L1279.4 745.2L1285.4 742"/><path stroke="#bd5ffd" d="M1285.4 742L1289 737.4M1294.8 731L1303.7 723.6"/><path stroke="#c067fc" d="M1303.7 723.6L1312.2 712.6L1316.5 708.9"/><path stroke="#c370fb" d="M1316.5 708.9L1320.5 706L1326.8 697.8L1331.4 694.5"/><path stroke="#c678fa" d="M1331.4 694.5L1342.8 683.3"/><path stroke="#c981fa" d="M1342.8 683.3L1359.4 666.7"/><path stroke="#cc89f9" d="M1359.4 666.7L1375 650.8"/><path stroke="#cf92f8" d="M1375 650.8L1390.3 635.4"/><path stroke="#d29af8" d="M1390.3 635.4L1407 618.8"/><path stroke="#d5a3f7" d="M1407 618.8L1434.7 591.1"/><path stroke="#d29af8" d="M1434.7 591.1L1437.3 588.5"/><path stroke="#d5a3f7" d="M1437.3 588.5L1496.4 529.4"/><path stroke="#d8acf6" d="M1496.4 529.4L1522.6 503.2"/><path stroke="#dbb4f5" d="M1522.6 503.2L1559 466.8"/><path stroke="#debdf4" d="M1559 466.8L1584.6 441.2"/><path stroke="#e1c5f4" d="M1584.6 441.2L1602 423.7"/><path stroke="#e4cef3" d="M1602 423.7L1618.6 407.2"/><path stroke="#e7d6f2" d="M1618.6 407.2L1637.9 387.8"/><path stroke="#e4cef3" d="M1637.9 387.8L1648.3 377.4"/><path stroke="#e7d6f2" d="M1648.3 377.4L1762.4 263.4"/><path stroke="#e4cef3" d="M1762.4 263.4L1772.7 253"/><path stroke="#e1c5f4" d="M1772.7 253L1778.7 247"/><path stroke="#debdf4" d="M1778.7 247L1781 244.7"/><path stroke="#d8acf6" d="M1781 244.7L1783.5 242.2"/><path stroke="#d29af8" d="M1783.5 242.2L1785.7 240.1"/><path stroke="#cc89f9" d="M1785.7 240.1L1787.6 238.1"/><path stroke="#c370fb" d="M1787.6 238.1L1789.7 236"/><path stroke="#ba56fe" d="M1789.7 236L1792.2 233.6"/><path stroke="#af43f6" d="M1792.2 233.6L1794.1 231.6"/>
<path stroke="#cf92f8" d="M1527.7 357.1L1530.4 354.3"/><path stroke="#d29af8" d="M1530.4 354.3L1545.3 339.5"/><path stroke="#d5a3f7" d="M1545.3 339.5L1554.4 330.3"/><path stroke="#d8acf6" d="M1554.4 330.3L1568.2 316.6"/><path stroke="#d5a3f7" d="M1568.2 316.6L1572.7 312.1"/>
<path stroke="#e1c5f4" d="M1058.6 1095h0M1063.5 1076.2h0M1081.7 1066.5h0M1100.8 1057.3h0M1114.7 1034.7h0"/><path stroke="#e4cef3" d="M1126.6 1024.7h0M1142.2 1010.5h0"/><path stroke="#e7d6f2" d="M1150.8 1002.8h0M1162.8 991.3h0M1168.6 978.1h0"/><path stroke="#e4cef3" d="M1188.7 965.8L1193.1 959.8M1199.8 950.6h0"/><path stroke="#e1c5f4" d="M1213.1 941h0M1221.1 932.6h0"/><path stroke="#debdf4" d="M1228.8 927.8h0M1234.3 912.5h0M1243.7 905.2h0"/><path stroke="#dbb4f5" d="M1243.7 905.2L1250.7 900.6L1253.3 894.2M1263.4 881.5L1269.2 881.1L1275.1 878.7M1280.6 869.4L1285.8 865.9M1295.3 852.3L1307 849.3L1311 843.5"/><path stroke="#debdf4" d="M1316.1 834.1L1320.8 828M1328.5 824.2h0M1333.4 816.6h0M1341.6 812.5L1346.8 805.9L1351.1 802.9L1352.6 798.5"/><path stroke="#e1c5f4" d="M1352.6 798.5L1361.8 790.3L1364.5 786L1369.9 783.3L1373.2 777.8L1384.8 768.4L1393.3 758.1"/><path stroke="#e4cef3" d="M1393.3 758.1L1398 754.3L1400.8 750.3L1404.4 748.7L1407.6 744.1L1411.2 742.3L1419.7 732.1L1438.1 714"/><path stroke="#e7d6f2" d="M1438.1 714L1486.1 665.9"/><path stroke="#eadff2" d="M1486.1 665.9L1538.2 613.8"/><path stroke="#ede7f1" d="M1538.2 613.8L1569.6 582.5"/><path stroke="#f0f0f0" d="M1569.6 582.5L1909.9 242.1"/><path stroke="#ede7f1" d="M1909.9 242.1L1919 233"/><path stroke="#eadff2" d="M1919 233L1923.8 228.3"/><path stroke="#e7d6f2" d="M1923.8 228.3L1925.7 226.3"/><path stroke="#e4cef3" d="M1925.7 226.3L1928.2 223.8"/><path stroke="#e1c5f4" d="M1928.2 223.8L1934.4 217.7"/>
<path stroke="#debdf4" d="M1358 795.8L1364.4 793.9L1366.7 787.3L1372.6 784.3"/><path stroke="#e1c5f4" d="M1372.6 784.3L1392.2 763.7L1396 762.7L1399.7 755.7L1403.8 753.4L1407.1 749.6"/><path stroke="#e4cef3" d="M1407.1 749.6L1447.8 709"/><path stroke="#e7d6f2" d="M1447.8 709L1506.8 650"/><path stroke="#eadff2" d="M1506.8 650L1561 595.8"/><path stroke="#ede7f1" d="M1561 595.8L1595 561.7"/><path stroke="#f0f0f0" d="M1595 561.7L1914.4 242.4"/><path stroke="#ede7f1" d="M1914.4 242.4L1926.1 230.7"/><path stroke="#eadff2" d="M1926.1 230.7L1927.9 228.9"/><path stroke="#e7d6f2" d="M1927.9 228.9L1932.5 224.3"/><path stroke="#e4cef3" d="M1932.5 224.3L1941.2 215.6"/>
<path stroke="#ede7f1" d="M1276.1 917.2h0M1283.8 907.9h0M1308.1 885.3h0M1316.9 880.1h0M1322.7 870.8h0M1330.4 863.9h0M1338.7 858.1h0M1370.2 824L1373.9 820.8M1381.2 815.3L1385.6 809.1L1396 800L1400.2 794.3L1415.1 781.2M1449.7 744.8L1457.6 737.5M1465.3 729.7L1592.4 602.6"/><path stroke="#f0f0f0" d="M1592.4 602.6L1980.3 214.8"/>
<path stroke="#b445ff" d="M1054.2 888.4h0M1066.1 879.3h0"/><path stroke="#b74efe" d="M1066.1 879.3L1070.8 874.3M1084 865.5h0M1096.6 856.1h0M1105.9 844.5h0M1111.6 836.3h0M1122 821.6L1127.8 816.3L1134.8 814.5M1141.5 803.4h0"/><path stroke="#ba56fe" d="M1150 798.4h0M1154.6 789h0M1163.3 785.7h0M1168.5 777.6L1168.3 775.9M1176.9 772.7h0M1181.5 764.4L1184.6 758.9"/><path stroke="#bd5ffd" d="M1191.5 752L1197.5 748.6M1205.6 741.5L1208.6 736.9L1213.5 735.5M1218.5 725.7L1221.5 722.7M1227.8 716.7h0"/><path stroke="#c067fc" d="M1227.8 716.7L1231.8 715.7L1234.1 709.7L1239.2 704.7M1247.8 700.7L1251.8 694.9L1256.3 691.3L1258.2 686.8L1266.9 681.1L1268.3 676.9L1273 671.1"/><path stroke="#c370fb" d="M1273 671.1L1297.1 649"/><path stroke="#c678fa" d="M1297.1 649L1320.7 625.7"/><path stroke="#c981fa" d="M1320.7 625.7L1349.3 596.7"/><path stroke="#cc89f9" d="M1349.3 596.7L1376.6 569.4"/><path stroke="#cf92f8" d="M1376.6 569.4L1396.3 549.7"/><path stroke="#d29af8" d="M1396.3 549.7L1413.2 532.8"/><path stroke="#d5a3f7" d="M1413.2 532.8L1454.5 491.5"/><path stroke="#d8acf6" d="M1454.5 491.5L1482.1 463.9"/><path stroke="#dbb4f5" d="M1482.1 463.9L1515.8 430.2"/><path stroke="#debdf4" d="M1515.8 430.2L1540.3 405.7"/><path stroke="#e1c5f4" d="M1540.3 405.7L1550.7 395.3"/><path stroke="#e4cef3" d="M1550.7 395.3L1571 375"/><path stroke="#e7d6f2" d="M1571 375L1609.1 336.9"/><path stroke="#e4cef3" d="M1609.1 336.9L1645.8 300.2"/><path stroke="#e1c5f4" d="M1645.8 300.2L1664.7 281.3"/><path stroke="#debdf4" d="M1664.7 281.3L1666.9 279.1"/><path stroke="#dbb4f5" d="M1666.9 279.1L1669.2 276.8"/><path stroke="#d8acf6" d="M1669.2 276.8L1671.5 274.5"/><path stroke="#d5a3f7" d="M1671.5 274.5L1673.3 272.7"/><path stroke="#cf92f8" d="M1673.3 272.7L1675.7 270.3"/><path stroke="#c981fa" d="M1675.7 270.3L1678.2 267.8"/><path stroke="#c678fa" d="M1678.2 267.8L1680.3 265.7"/><path stroke="#c067fc" d="M1680.3 265.7L1682.2 263.8"/><path stroke="#ba56fe" d="M1682.2 263.8L1684.3 261.7"/>
<path stroke="#8a32ba" d="M1177 728h0"/><path stroke="#8f34c2" d="M1188.2 722.6h0M1197 715.3L1202.1 709.8M1207.1 702.4h0"/><path stroke="#8a32ba" d="M1214.5 694.8L1218.1 691.9"/><path stroke="#842fb1" d="M1224.5 684.9L1229.9 679.2L1236.5 674.8"/><path stroke="#7f2da8" d="M1236.5 674.8L1246.5 665.4"/><path stroke="#7a2ba0" d="M1246.5 665.4L1252.2 660.1"/><path stroke="#7f2da8" d="M1252.2 660.1L1256.6 653.2"/><path stroke="#842fb1" d="M1256.6 653.2L1261 650.6"/><path stroke="#8a32ba" d="M1261 650.6L1268.6 641.1"/><path stroke="#8f34c2" d="M1268.6 641.1L1273.2 638.9"/><path stroke="#9437cb" d="M1273.2 638.9L1277.8 633.8"/><path stroke="#9a39d4" d="M1277.8 633.8L1284.8 626.4"/><path stroke="#9f3bdc" d="M1284.8 626.4L1300.5 610"/><path stroke="#a43ee5" d="M1300.5 610L1308.7 603.1L1318.8 592.3"/><path stroke="#a940ee" d="M1318.8 592.3L1340.3 570.9"/><path stroke="#af43f6" d="M1340.3 570.9L1356.5 554.7"/><path stroke="#b445ff" d="M1356.5 554.7L1366.1 545.1"/><path stroke="#b74efe" d="M1366.1 545.1L1391.4 519.8"/><path stroke="#ba56fe" d="M1391.4 519.8L1425.4 485.8"/><path stroke="#bd5ffd" d="M1425.4 485.8L1439.9 471.3"/><path stroke="#c067fc" d="M1439.9 471.3L1452.5 458.7"/><path stroke="#c370fb" d="M1452.5 458.7L1462.6 448.6"/><path stroke="#c678fa" d="M1462.6 448.6L1474.3 436.9"/><path stroke="#c981fa" d="M1474.3 436.9L1497.2 414"/><path stroke="#cc89f9" d="M1497.2 414L1522.4 388.8"/><path stroke="#cf92f8" d="M1522.4 388.8L1530.5 380.7"/><path stroke="#d29af8" d="M1530.5 380.7L1539.5 371.7"/><path stroke="#d5a3f7" d="M1539.5 371.7L1548.6 362.6"/><path stroke="#d8acf6" d="M1548.6 362.6L1555.6 355.5"/><path stroke="#dbb4f5" d="M1555.6 355.5L1563.3 347.9"/><path stroke="#debdf4" d="M1563.3 347.9L1567.5 343.7"/><path stroke="#e1c5f4" d="M1567.5 343.7L1574.1 337"/><path stroke="#debdf4" d="M1574.1 337L1581.2 330"/><path stroke="#dbb4f5" d="M1581.2 330L1607.4 303.8"/><path stroke="#d8acf6" d="M1607.4 303.8L1616.3 294.9"/><path stroke="#d5a3f7" d="M1616.3 294.9L1618.2 293"/>
<path stroke="#e4cef3" d="M1101.5 1057.7h0M1118.9 1043.2h0"/><path stroke="#e7d6f2" d="M1130.1 1031.1h0M1146.9 1011.5h0M1163.8 1000.5h0M1175.3 986.3h0M1192.2 973.5h0M1195.9 959.1h0"/><path stroke="#e4cef3" d="M1215.3 946.3h0M1223.3 934.4h0"/><path stroke="#e1c5f4" d="M1240.2 925.8h0M1247.4 914.6h0"/><path stroke="#debdf4" d="M1247.4 914.6L1250.4 909.7M1260.3 896.1h0"/><path stroke="#dbb4f5" d="M1271.9 889.3h0M1277.1 882.1h0M1284.5 871.7L1291.8 867.6M1299.9 859.9h0"/><path stroke="#debdf4" d="M1307.6 855L1312.2 847.9M1321.3 842.3h0M1329.5 832.6h0M1335 825.2L1339.5 820"/><path stroke="#e1c5f4" d="M1339.5 820L1344.6 815.7M1352 809.6L1361.9 801.1M1366.9 793.5L1371.2 789M1378.7 782.9L1381.4 779.2L1388.4 775"/><path stroke="#e4cef3" d="M1388.4 775L1390.8 769.9M1396.2 763.1L1399.7 761.8L1433.2 727.6"/><path stroke="#e7d6f2" d="M1433.2 727.6L1490.3 670.9"/><path stroke="#eadff2" d="M1490.3 670.9L1575.3 585.9"/><path stroke="#ede7f1" d="M1575.3 585.9L1932 229.3"/><path stroke="#eadff2" d="M1932 229.3L1936.1 225.1"/><path stroke="#e7d6f2" d="M1936.1 225.1L1942.5 218.7"/><path stroke="#e4cef3" d="M1942.5 218.7L1944.7 216.5"/><path stroke="#e7d6f2" d="M1944.7 216.5L1947.1 214.1"/>
<path stroke="#f0f0f0" d="M1599.9 636.2L1813.1 423M1869.2 366.9L2015.4 220.7"/>
<path stroke="#f0f0f0" d="M1892.5 359.6L1894.8 357.2M1928 324L2022.3 229.7M2026 226h0"/>
<path stroke="#cc89f9" d="M1539.3 326.4L1545.9 319.8"/><path stroke="#cf92f8" d="M1545.9 319.8L1553.7 312"/>
<path stroke="#f0f0f0" d="M1591.2 641.7L1824 409M1864.2 368.7L2013 220"/>
<path stroke="#a43ee5" d="M1045.8 893.7h0"/><path stroke="#a940ee" d="M1058.7 878.5h0M1068 868h0M1085.8 863.5h0M1081.1 848.4h0M1095.7 844.5h0M1107.8 829.7h0"/><path stroke="#af43f6" d="M1120 822.2h0M1125.7 812.6h0M1130.5 804.2h0M1143.9 798L1149.7 791.9M1154.7 781h0M1161.3 774L1167.7 771.4"/><path stroke="#b445ff" d="M1174.1 763.2L1175.7 758.5M1185 752.7L1189.2 746.7M1197.6 737.9L1202.7 735.5"/><path stroke="#b74efe" d="M1202.7 735.5L1206.1 729.3M1215.4 722.4L1222.8 714.1L1227.6 711.1M1232.7 703.5L1239.1 700.8M1245.4 693.3L1252.8 683.9"/><path stroke="#ba56fe" d="M1252.8 683.9L1259 680L1270.6 665.9L1275.1 663.2L1283.5 654.6"/><path stroke="#bd5ffd" d="M1283.5 654.6L1307.1 631"/><path stroke="#c067fc" d="M1307.1 631L1333.1 604.8"/><path stroke="#c370fb" d="M1333.1 604.8L1361.4 576.5"/><path stroke="#c678fa" d="M1361.4 576.5L1382.4 555.5"/><path stroke="#c981fa" d="M1382.4 555.5L1404.5 533.3"/><path stroke="#cc89f9" d="M1404.5 533.3L1435.3 502.5"/><path stroke="#cf92f8" d="M1435.3 502.5L1459.4 478.5"/><path stroke="#d29af8" d="M1459.4 478.5L1479 458.8"/><path stroke="#d5a3f7" d="M1479 458.8L1512.9 425"/><path stroke="#d8acf6" d="M1512.9 425L1538.2 399.6"/><path stroke="#dbb4f5" d="M1538.2 399.6L1544.6 393.3"/><path stroke="#debdf4" d="M1544.6 393.3L1553.4 384.5"/><path stroke="#e1c5f4" d="M1553.4 384.5L1561.7 376.2"/><path stroke="#e4cef3" d="M1561.7 376.2L1588.7 349.2"/><path stroke="#e7d6f2" d="M1588.7 349.2L1593.1 344.7"/><path stroke="#e4cef3" d="M1593.1 344.7L1626.1 311.7"/><path stroke="#e1c5f4" d="M1626.1 311.7L1644.1 293.8"/><path stroke="#debdf4" d="M1644.1 293.8L1652.1 285.8"/><path stroke="#dbb4f5" d="M1652.1 285.8L1658.3 279.6"/><path stroke="#d8acf6" d="M1658.3 279.6L1660.8 277.1"/><path stroke="#d5a3f7" d="M1660.8 277.1L1662.8 275.1"/><path stroke="#d29af8" d="M1662.8 275.1L1664.7 273.2"/><path stroke="#cc89f9" d="M1664.7 273.2L1666.9 270.9"/><path stroke="#c981fa" d="M1666.9 270.9L1669.5 268.4"/><path stroke="#c370fb" d="M1669.5 268.4L1671.7 266.2"/><path stroke="#bd5ffd" d="M1671.7 266.2L1674 263.9"/>
<path stroke="#c678fa" d="M1303.9 706L1313.7 697.9"/><path stroke="#c981fa" d="M1313.7 697.9L1316.1 694.4M1322.1 688.3L1324.2 685.5"/><path stroke="#cc89f9" d="M1324.2 685.5L1338.6 672.8L1342.3 668.1"/><path stroke="#cf92f8" d="M1342.3 668.1L1361.9 648.8"/><path stroke="#d29af8" d="M1361.9 648.8L1379.5 631.1"/><path stroke="#d5a3f7" d="M1379.5 631.1L1403.3 607.4"/><path stroke="#d8acf6" d="M1403.3 607.4L1457.4 553.3"/><path stroke="#dbb4f5" d="M1457.4 553.3L1510.8 499.9"/><path stroke="#debdf4" d="M1510.8 499.9L1559.6 451.1"/><path stroke="#e1c5f4" d="M1559.6 451.1L1584.5 426.2"/><path stroke="#e4cef3" d="M1584.5 426.2L1604.2 406.5"/><path stroke="#e7d6f2" d="M1604.2 406.5L1728.2 282.5"/><path stroke="#e4cef3" d="M1728.2 282.5L1739 271.6"/><path stroke="#e7d6f2" d="M1739 271.6L1743.2 267.5"/><path stroke="#e4cef3" d="M1743.2 267.5L1759.8 250.8"/><path stroke="#e1c5f4" d="M1759.8 250.8L1761.6 249.1"/><path stroke="#debdf4" d="M1761.6 249.1L1763.9 246.7"/><path stroke="#d8acf6" d="M1763.9 246.7L1765.9 244.8"/><path stroke="#d29af8" d="M1765.9 244.8L1767.7 243"/><path stroke="#cc89f9" d="M1767.7 243L1770.2 240.5"/><path stroke="#c370fb" d="M1770.2 240.5L1772.4 238.3"/><path stroke="#ba56fe" d="M1772.4 238.3L1774.8 235.9"/><path stroke="#af43f6" d="M1774.8 235.9L1777.2 233.5"/>
<path stroke="#a940ee" d="M1052 895.8h0M1065.9 881.8h0M1073.6 877.7h0M1080.9 868.5h0"/><path stroke="#af43f6" d="M1097.9 860.9h0M1100.2 850.3h0M1108.6 842.3h0M1118.6 836.8L1123.8 835.7M1127.7 819.6h0M1138 819.3h0M1146.4 804.6L1151.9 800.9M1159.8 792.7L1165.6 791.6"/><path stroke="#b445ff" d="M1170.4 783.2L1175 777.3L1181.3 773.1M1191 767.4h0M1189.5 758.5h0M1199.4 755.3h0"/><path stroke="#b74efe" d="M1199.4 755.3L1203.3 748.9L1205.3 747.7M1211.7 737.2L1216.8 739.9L1217.9 732M1224.7 724.8h0"/><path stroke="#ba56fe" d="M1224.7 724.8L1229.5 723.9L1231.9 718L1242.9 711.2L1245.7 708L1247.7 701.4L1254.8 696.8M1261.5 690.5L1263.4 689.4"/><path stroke="#bd5ffd" d="M1263.4 689.4L1272.5 677.4L1277.7 676.1L1280.4 672L1284.4 670L1285.6 665.7"/><path stroke="#c067fc" d="M1285.6 665.7L1290.1 663L1299.4 651.7L1306.1 646.6"/><path stroke="#c370fb" d="M1306.1 646.6L1329.4 622.5"/><path stroke="#c678fa" d="M1329.4 622.5L1355.2 597"/><path stroke="#c981fa" d="M1355.2 597L1379.7 572.5"/><path stroke="#cc89f9" d="M1379.7 572.5L1399.9 552.3"/><path stroke="#cf92f8" d="M1399.9 552.3L1441.7 510.5"/><path stroke="#d29af8" d="M1441.7 510.5L1470.3 481.9"/><path stroke="#d5a3f7" d="M1470.3 481.9L1494.7 457.5"/><path stroke="#d8acf6" d="M1494.7 457.5L1520.2 432"/><path stroke="#dbb4f5" d="M1520.2 432L1540.6 411.6"/><path stroke="#debdf4" d="M1540.6 411.6L1549.4 402.7"/><path stroke="#e1c5f4" d="M1549.4 402.7L1576.5 375.7"/><path stroke="#e4cef3" d="M1576.5 375.7L1656.2 296"/><path stroke="#e1c5f4" d="M1656.2 296L1670.3 281.9"/><path stroke="#debdf4" d="M1670.3 281.9L1674.3 277.9"/><path stroke="#dbb4f5" d="M1674.3 277.9L1676.4 275.8"/><path stroke="#d8acf6" d="M1676.4 275.8L1678.2 274"/><path stroke="#d5a3f7" d="M1678.2 274L1680.1 272.1"/><path stroke="#d29af8" d="M1680.1 272.1L1682 270.2"/><path stroke="#cc89f9" d="M1682 270.2L1684.2 268"/><path stroke="#c678fa" d="M1684.2 268L1686.4 265.8"/><path stroke="#c067fc" d="M1686.4 265.8L1688.3 263.8"/><path stroke="#b74efe" d="M1688.3 263.8L1690.8 261.4"/>
<path stroke="#ba56fe" d="M1538.7 331.3L1540.6 329.4"/><path stroke="#bd5ffd" d="M1540.6 329.4L1549.1 321"/><path stroke="#c067fc" d="M1549.1 321L1557.1 313"/>
<path stroke="#f0f0f0" d="M1556 663.6L1571 648.6"/><path stroke="#ede7f1" d="M1571 648.6L1601.8 617.8"/><path stroke="#f0f0f0" d="M1601.8 617.8L2002.2 217.4"/>
<path stroke="#ede7f1" d="M1270.9 928.1h0M1291.7 912.7h0M1310.1 888.8L1318.1 889.9M1322.4 879.6h0M1327.3 870.4L1331.7 868.3M1337.6 862L1344.3 861.1M1376.5 826L1383.4 817.8L1388.4 813.8L1389.1 811L1395.3 808.4L1400.6 801.2L1405.3 798.4L1406 794L1418.3 785.9L1419.8 781.6M1454.5 747.9L1457.4 744.8M1470.7 731.6L1595.9 606.4"/><path stroke="#f0f0f0" d="M1595.9 606.4L1985.8 216.4"/><path stroke="#ede7f1" d="M1985.8 216.4L1988.3 213.9"/>
<path stroke="#7a2ba0" d="M1115.5 805.7L1120.2 799.3M1133.7 793.9h0"/><path stroke="#742897" d="M1144.7 783.6h0"/><path stroke="#7a2ba0" d="M1144.7 783.6L1149.3 777.5"/><path stroke="#7f2da8" d="M1159.7 769.1h0"/><path stroke="#842fb1" d="M1168.5 757h0M1174.6 749.9h0"/><path stroke="#8a32ba" d="M1174.6 749.9L1181.4 745.3M1188.8 737.8h0"/><path stroke="#8f34c2" d="M1188.8 737.8L1194.9 733.7M1200.4 722.4L1207 721.6L1211.5 714.8M1217.5 707.3h0M1224.3 701.6L1229 695.6M1238 689.8L1240.5 687.4M1247.2 681.2h0"/><path stroke="#8a32ba" d="M1247.2 681.2L1249.7 676.7L1263.4 663.9"/><path stroke="#8f34c2" d="M1263.4 663.9L1272.7 653.3"/><path stroke="#9437cb" d="M1272.7 653.3L1281.1 644.7"/><path stroke="#9a39d4" d="M1281.1 644.7L1286.6 640.1L1288.9 636"/><path stroke="#9f3bdc" d="M1288.9 636L1295.1 631.9L1314.7 612"/><path stroke="#a43ee5" d="M1314.7 612L1339.6 586.8"/><path stroke="#a940ee" d="M1339.6 586.8L1358.3 568.1"/><path stroke="#af43f6" d="M1358.3 568.1L1374.6 551.8"/><path stroke="#b445ff" d="M1374.6 551.8L1385.4 541"/><path stroke="#a940ee" d="M1385.4 541L1388.4 538"/><path stroke="#af43f6" d="M1388.4 538L1410.4 516"/><path stroke="#b445ff" d="M1410.4 516L1437.6 488.8"/><path stroke="#b74efe" d="M1437.6 488.8L1453.2 473.2"/><path stroke="#ba56fe" d="M1453.2 473.2L1465.1 461.3"/><path stroke="#bd5ffd" d="M1465.1 461.3L1479.1 447.3"/><path stroke="#c067fc" d="M1479.1 447.3L1503.5 422.9"/><path stroke="#c370fb" d="M1503.5 422.9L1529 397.4"/><path stroke="#c678fa" d="M1529 397.4L1535.3 391.1"/><path stroke="#c981fa" d="M1535.3 391.1L1542.3 384.1"/><path stroke="#cc89f9" d="M1542.3 384.1L1546.8 379.6"/><path stroke="#cf92f8" d="M1546.8 379.6L1552.5 373.9"/><path stroke="#d29af8" d="M1552.5 373.9L1556.9 369.5"/><path stroke="#d5a3f7" d="M1556.9 369.5L1562.9 363.5"/><path stroke="#d8acf6" d="M1562.9 363.5L1567.4 359"/><path stroke="#dbb4f5" d="M1567.4 359L1573.1 353.3"/><path stroke="#debdf4" d="M1573.1 353.3L1581.9 344.5"/><path stroke="#dbb4f5" d="M1581.9 344.5L1586.6 339.8"/><path stroke="#d8acf6" d="M1586.6 339.8L1591 335.4"/><path stroke="#d5a3f7" d="M1591 335.4L1593.5 332.9"/><path stroke="#d8acf6" d="M1593.5 332.9L1597.9 328.6"/><path stroke="#debdf4" d="M1597.9 328.6L1607.8 318.6"/><path stroke="#dbb4f5" d="M1607.8 318.6L1621.4 305"/><path stroke="#d8acf6" d="M1621.4 305L1634.8 291.7"/><path stroke="#d5a3f7" d="M1634.8 291.7L1638.4 288"/><path stroke="#d29af8" d="M1638.4 288L1642.5 283.9"/><path stroke="#cf92f8" d="M1642.5 283.9L1645 281.4"/><path stroke="#cc89f9" d="M1645 281.4L1649 277.4"/><path stroke="#c981fa" d="M1649 277.4L1653.2 273.2"/><path stroke="#c678fa" d="M1653.2 273.2L1655.1 271.3"/><path stroke="#c067fc" d="M1655.1 271.3L1657 269.4"/><path stroke="#bd5ffd" d="M1657 269.4L1658.8 267.7"/>
<path stroke="#af43f6" d="M1014.9 981.4h0M1031.9 956.3h0M1045.2 938.2h0"/><path stroke="#b445ff" d="M1061.8 926h0M1075.4 914.2h0"/><path stroke="#b74efe" d="M1089.8 903.6h0M1097.9 892.7h0M1109.4 878h0M1125.1 867.5h0M1133.8 858.8h0M1145.6 848.2h0M1152.9 832.4h0M1163 823.6h0M1174.4 816.3h0M1182.5 811.6h0M1192.4 798.2h0M1196.8 790.5h0M1203.5 785h0"/><path stroke="#ba56fe" d="M1214.4 777.9L1218.5 771.4L1225.2 767.7"/><path stroke="#bd5ffd" d="M1234.4 756.1L1236.4 752.8L1243.5 749.3M1248.5 740.6h0"/><path stroke="#c067fc" d="M1248.5 740.6L1256.2 737.5M1261.3 729.7L1270.2 720.2"/><path stroke="#c370fb" d="M1270.2 720.2L1275.4 714.6M1280.5 706.4L1287.3 704.2L1291.7 699.4"/><path stroke="#c678fa" d="M1291.7 699.4L1295 694.1L1300.8 690.5L1307.5 681.7"/><path stroke="#c981fa" d="M1307.5 681.7L1313.9 678.4L1317.5 673.3L1327.4 664.6L1329.2 660"/><path stroke="#cc89f9" d="M1329.2 660L1333.8 657.3L1344.5 645.3"/><path stroke="#cf92f8" d="M1344.5 645.3L1366 624.2"/><path stroke="#d29af8" d="M1366 624.2L1389.1 601.1"/><path stroke="#d5a3f7" d="M1389.1 601.1L1417.4 572.9"/><path stroke="#d8acf6" d="M1417.4 572.9L1475.5 514.7"/><path stroke="#dbb4f5" d="M1475.5 514.7L1509.7 480.5"/><path stroke="#debdf4" d="M1509.7 480.5L1551.5 438.7"/><path stroke="#e1c5f4" d="M1551.5 438.7L1589.8 400.4"/><path stroke="#e4cef3" d="M1589.8 400.4L1717.8 272.4"/><path stroke="#e1c5f4" d="M1717.8 272.4L1727.3 262.9"/><path stroke="#debdf4" d="M1727.3 262.9L1734 256.2"/><path stroke="#dbb4f5" d="M1734 256.2L1736.4 253.8"/><path stroke="#d8acf6" d="M1736.4 253.8L1738.6 251.6"/><path stroke="#d5a3f7" d="M1738.6 251.6L1740.6 249.6"/><path stroke="#cf92f8" d="M1740.6 249.6L1742.8 247.4"/><path stroke="#cc89f9" d="M1742.8 247.4L1744.5 245.7"/><path stroke="#c678fa" d="M1744.5 245.7L1746.2 244"/><path stroke="#c067fc" d="M1746.2 244L1748.2 242"/><path stroke="#ba56fe" d="M1748.2 242L1750 240.2"/><path stroke="#af43f6" d="M1750 240.2L1752 238.2"/>
<path stroke="#e4cef3" d="M1108.7 1059.9h0"/><path stroke="#e7d6f2" d="M1126.8 1042.9h0M1139.2 1030.1h0M1147.1 1021.1h0M1158.9 1010.5h0"/><path stroke="#eadff2" d="M1168.1 1005.7h0M1180.9 989.2h0M1189.5 980h0M1200.3 976.9h0M1204.9 962.3h0M1216.2 956.6h0"/><path stroke="#e7d6f2" d="M1225.8 944.2h0M1236.5 938.8L1239.1 934.5"/><path stroke="#e4cef3" d="M1245.1 926.4h0M1250.4 916.2h0M1259.2 911.1h0"/><path stroke="#e1c5f4" d="M1259.2 911.1L1261.9 906.1M1270.8 896.4h0M1279.7 895h0"/><path stroke="#debdf4" d="M1288 888.8h0"/><path stroke="#e1c5f4" d="M1288 888.8L1292 883.5M1293.8 874.3h0M1303.3 869L1306 861.8L1310.3 856.6M1318.8 853.8L1322.7 847L1327.2 843.6L1331.3 837.4"/><path stroke="#e4cef3" d="M1331.3 837.4L1337.2 832.5L1339.1 828.1L1343.9 825.4L1348.2 819.4L1354.6 815.9L1365 804L1368.8 802.5L1373.1 796.8L1384.7 786.5L1387.5 782.3L1388.4 777.7L1393.8 775.4L1397.2 771.6"/><path stroke="#e7d6f2" d="M1397.2 771.6L1410.1 760.3L1412.6 756.7L1470.1 699.2"/><path stroke="#eadff2" d="M1470.1 699.2L1579.6 589.7"/><path stroke="#ede7f1" d="M1579.6 589.7L1954.6 214.6"/>
<path stroke="#bd5ffd" d="M1095.7 957.9h0M1103.8 944.5h0"/><path stroke="#c067fc" d="M1114.3 930.5h0M1123.6 916.3h0M1135.4 912.3h0M1145.3 903.1h0M1159.8 890.6h0M1171.2 884.1h0M1179.4 873.2h0M1187.6 866.1h0M1201.8 853.7h0M1203 843.2h0M1211.7 840.7h0M1217.2 829.6h0M1227.1 823.8h0"/><path stroke="#c370fb" d="M1234.1 814.1L1240.3 811.2"/><path stroke="#c678fa" d="M1240.3 811.2L1246.7 806.8M1251.5 796.5h0"/><path stroke="#c981fa" d="M1251.5 796.5L1256.2 791M1265.8 784.5L1268.3 777.9L1274.8 774"/><path stroke="#cc89f9" d="M1274.8 774L1281.4 769.1L1285.6 761.8M1291.6 755.4h0M1300 751.1L1302.7 748.4"/><path stroke="#cf92f8" d="M1302.7 748.4L1305.3 742.3L1317.5 733.5L1324.2 724.8"/><path stroke="#d29af8" d="M1324.2 724.8L1329.9 720.6L1338.3 712"/><path stroke="#d5a3f7" d="M1338.3 712L1346.6 705L1349.4 699.2L1354.6 695.9L1358.2 691.4"/><path stroke="#d8acf6" d="M1358.2 691.4L1377.1 672.3"/><path stroke="#dbb4f5" d="M1377.1 672.3L1400.9 649.1"/><path stroke="#debdf4" d="M1400.9 649.1L1426.6 623.3"/><path stroke="#e1c5f4" d="M1426.6 623.3L1448.6 601.3"/><path stroke="#debdf4" d="M1448.6 601.3L1451.6 598.3"/><path stroke="#e1c5f4" d="M1451.6 598.3L1520.7 529.2"/><path stroke="#e4cef3" d="M1520.7 529.2L1553.9 496"/><path stroke="#e7d6f2" d="M1553.9 496L1596 454"/><path stroke="#eadff2" d="M1596 454L1611.8 438.1"/><path stroke="#ede7f1" d="M1611.8 438.1L1632.9 417"/><path stroke="#f0f0f0" d="M1632.9 417L1649.5 400.4"/><path stroke="#ede7f1" d="M1649.5 400.4L1659.5 390.4"/><path stroke="#f0f0f0" d="M1659.5 390.4L1680.4 369.5"/><path stroke="#ede7f1" d="M1680.4 369.5L1727.1 322.8"/><path stroke="#f0f0f0" d="M1727.1 322.8L1777.6 272.3"/><path stroke="#ede7f1" d="M1777.6 272.3L1790.8 259.1"/><path stroke="#eadff2" d="M1790.8 259.1L1799.6 250.4"/><path stroke="#e7d6f2" d="M1799.6 250.4L1805.9 244"/><path stroke="#e4cef3" d="M1805.9 244L1807.8 242.1"/><path stroke="#e1c5f4" d="M1807.8 242.1L1810.2 239.7"/><path stroke="#dbb4f5" d="M1810.2 239.7L1812.6 237.3"/><path stroke="#d29af8" d="M1812.6 237.3L1814.8 235.1"/><path stroke="#c981fa" d="M1814.8 235.1L1816.8 233.1"/><path stroke="#bd5ffd" d="M1816.8 233.1L1819.3 230.6"/><path stroke="#b445ff" d="M1819.3 230.6L1821.5 228.5"/>
<path stroke="#ba56fe" d="M989.1 1023.8h0M1006 1009.3h0M1017.5 998.7h0M1029.8 987.3h0M1041.9 969.5h0M1059.6 963.1h0"/><path stroke="#bd5ffd" d="M1063 947.9h0M1072 939.9h0M1086.4 929.6h0M1090.6 921.9h0"/><path stroke="#c067fc" d="M1102.3 914h0M1109 903h0M1124 897.5L1125.3 892.2M1140.5 883.9L1144.5 877.5M1150.2 869.5h0M1156.3 861.3L1160.8 857.7M1170.8 845.4L1177.2 841.5M1182.3 834.3L1186.4 827.3M1193.9 819.2L1205.5 814.2M1209.6 804.4h0M1218.1 797.8h0"/><path stroke="#c370fb" d="M1218.1 797.8L1224.6 794.1L1226.4 788.8M1234.7 783.9L1237.9 777.4"/><path stroke="#c678fa" d="M1237.9 777.4L1242.3 774.3L1246.1 768L1255.6 759.4M1261.1 752.5h0"/><path stroke="#c981fa" d="M1261.1 752.5L1264.4 752.3L1270.2 747.8M1276.6 740.9L1286.1 729.7"/><path stroke="#cc89f9" d="M1286.1 729.7L1294.7 722.2L1311.3 703.8"/><path stroke="#cf92f8" d="M1311.3 703.8L1327.6 688.8"/><path stroke="#d29af8" d="M1327.6 688.8L1347.2 669.2"/><path stroke="#d5a3f7" d="M1347.2 669.2L1371.5 644.7"/><path stroke="#d8acf6" d="M1371.5 644.7L1393.5 622.6"/><path stroke="#dbb4f5" d="M1393.5 622.6L1431.2 584.9"/><path stroke="#debdf4" d="M1431.2 584.9L1487.7 528.4"/><path stroke="#e1c5f4" d="M1487.7 528.4L1538.6 477.5"/><path stroke="#e4cef3" d="M1538.6 477.5L1585.9 430.2"/><path stroke="#e7d6f2" d="M1585.9 430.2L1611.4 404.8"/><path stroke="#eadff2" d="M1611.4 404.8L1631.8 384.3"/><path stroke="#e7d6f2" d="M1631.8 384.3L1751.7 264.4"/><path stroke="#e4cef3" d="M1751.7 264.4L1764.9 251.2"/><path stroke="#e1c5f4" d="M1764.9 251.2L1767.3 248.9"/><path stroke="#debdf4" d="M1767.3 248.9L1769.4 246.8"/><path stroke="#dbb4f5" d="M1769.4 246.8L1771.9 244.2"/><path stroke="#d5a3f7" d="M1771.9 244.2L1773.7 242.4"/><path stroke="#cf92f8" d="M1773.7 242.4L1775.9 240.2"/><path stroke="#c981fa" d="M1775.9 240.2L1777.9 238.2"/><path stroke="#c370fb" d="M1777.9 238.2L1779.8 236.4"/><path stroke="#ba56fe" d="M1779.8 236.4L1781.7 234.5"/><path stroke="#b74efe" d="M1781.7 234.5L1783.5 232.7"/>
<path stroke="#b74efe" d="M1103.5 908.4h0M1112.5 901.4h0M1117 886.5h0M1125.2 879.3h0M1138.8 870h0M1148.8 868.5h0M1154.6 855.2h0M1163.7 847.7h0M1170 835.8h0M1180.3 830.8h0M1184.9 822L1188.8 814.5M1200.5 807.8L1206.2 803"/><path stroke="#ba56fe" d="M1210.7 794.3L1216.7 791.3"/><path stroke="#bd5ffd" d="M1225.3 784.4L1229.1 780M1233.8 771.5h0"/><path stroke="#c067fc" d="M1233.8 771.5L1241.1 768.4L1244.3 765.9L1250.2 754.9L1257.1 750.4"/><path stroke="#c370fb" d="M1266.3 745.8L1264.8 741.7L1269.4 735.1M1277.1 730.4L1280.1 726.2"/><path stroke="#c678fa" d="M1280.1 726.2L1286.3 723.1L1291.1 718.4L1292.7 713.4L1301.1 707.2L1303.6 703.3"/><path stroke="#c981fa" d="M1303.6 703.3L1318 687.8"/><path stroke="#cc89f9" d="M1318 687.8L1320.9 686.3L1334.7 672.4"/><path stroke="#cf92f8" d="M1334.7 672.4L1355.3 651.6"/><path stroke="#d29af8" d="M1355.3 651.6L1373.4 633.4"/><path stroke="#d5a3f7" d="M1373.4 633.4L1393.9 612.8"/><path stroke="#d8acf6" d="M1393.9 612.8L1430.2 576.5"/><path stroke="#dbb4f5" d="M1430.2 576.5L1498 508.8"/><path stroke="#debdf4" d="M1498 508.8L1541.2 465.6"/><path stroke="#e1c5f4" d="M1541.2 465.6L1578.8 428"/><path stroke="#e4cef3" d="M1578.8 428L1600.8 406"/><path stroke="#e7d6f2" d="M1600.8 406L1721.7 285.1"/><path stroke="#e4cef3" d="M1721.7 285.1L1754.9 251.9"/><path stroke="#e1c5f4" d="M1754.9 251.9L1756.7 250"/><path stroke="#debdf4" d="M1756.7 250L1758.8 248"/><path stroke="#d8acf6" d="M1758.8 248L1761 245.8"/><path stroke="#d29af8" d="M1761 245.8L1763.2 243.6"/><path stroke="#cc89f9" d="M1763.2 243.6L1765.3 241.5"/><path stroke="#c370fb" d="M1765.3 241.5L1767.5 239.3"/><path stroke="#bd5ffd" d="M1767.5 239.3L1769.6 237.2"/><path stroke="#b445ff" d="M1769.6 237.2L1771.6 235.1"/>
<path stroke="#9f3bdc" d="M1024.1 944h0M1041.4 936.1h0"/><path stroke="#a43ee5" d="M1050.1 930.1h0M1061.5 916.4h0M1068.2 907.8h0"/><path stroke="#a940ee" d="M1077.7 894.5h0M1089.6 882.7h0M1103.9 874.8h0M1115.5 862.7L1120.6 857.1M1128 842.7h0M1136.9 835.7h0M1144.5 830.9h0M1148.8 819.7L1155.2 817.1M1162.2 811.9h0M1174.3 805.7h0M1177.1 791.9L1182.4 788.5"/><path stroke="#af43f6" d="M1182.4 788.5L1188.3 785.1M1193.3 775.9h0M1202.6 771.6h0"/><path stroke="#b445ff" d="M1207 762.4L1213.2 759.8M1220.7 755.1L1223.1 748"/><path stroke="#b74efe" d="M1223.1 748L1228.7 744.6L1233 738.6M1240.4 732.9L1243.6 728.1L1249.5 724.1"/><path stroke="#ba56fe" d="M1249.5 724.1L1253.8 721.1L1254.9 715.8L1262.4 712.6L1264 707.6L1270.8 699.7"/><path stroke="#bd5ffd" d="M1270.8 699.7L1278.3 696.6L1279.7 692.9L1284.7 688.1L1287.3 683.6L1293.3 680.5"/><path stroke="#c067fc" d="M1293.3 680.5L1294.2 677.5L1298.3 674.9L1300.7 671L1308.5 665"/><path stroke="#c370fb" d="M1308.5 665L1327.9 644.3"/><path stroke="#c678fa" d="M1327.9 644.3L1346.5 626"/><path stroke="#c981fa" d="M1346.5 626L1366.2 606.3"/><path stroke="#cc89f9" d="M1366.2 606.3L1386.7 585.7"/><path stroke="#cf92f8" d="M1386.7 585.7L1433.7 538.8"/><path stroke="#d29af8" d="M1433.7 538.8L1470 502.5"/><path stroke="#d5a3f7" d="M1470 502.5L1495.5 477"/><path stroke="#d8acf6" d="M1495.5 477L1517 455.4"/><path stroke="#dbb4f5" d="M1517 455.4L1539.7 432.8"/><path stroke="#debdf4" d="M1539.7 432.8L1563.9 408.6"/><path stroke="#e1c5f4" d="M1563.9 408.6L1607.5 365"/><path stroke="#e4cef3" d="M1607.5 365L1620.6 351.9"/><path stroke="#e7d6f2" d="M1620.6 351.9L1646.5 326"/><path stroke="#e4cef3" d="M1646.5 326L1695.7 276.8"/><path stroke="#e1c5f4" d="M1695.7 276.8L1698.2 274.3"/><path stroke="#debdf4" d="M1698.2 274.3L1700.1 272.3"/><path stroke="#dbb4f5" d="M1700.1 272.3L1702.3 270.1"/><path stroke="#d8acf6" d="M1702.3 270.1L1704.4 268.1"/><path stroke="#d29af8" d="M1704.4 268.1L1706.7 265.8"/><path stroke="#cc89f9" d="M1706.7 265.8L1709.2 263.2"/><path stroke="#c678fa" d="M1709.2 263.2L1711.1 261.4"/><path stroke="#c067fc" d="M1711.1 261.4L1715.3 257.2"/><path stroke="#bd5ffd" d="M1715.3 257.2L1717.6 254.9"/><path stroke="#ba56fe" d="M1717.6 254.9L1719.7 252.8"/><path stroke="#b74efe" d="M1719.7 252.8L1723.9 248.6"/><path stroke="#af43f6" d="M1723.9 248.6L1725.7 246.8"/><path stroke="#9f3bdc" d="M1725.7 246.8L1728 244.4"/>
<path stroke="#cf92f8" d="M1288 769.8L1292.1 768.5L1295.3 761.4L1311.4 746.6"/><path stroke="#d29af8" d="M1311.4 746.6L1314.3 742.2M1321.3 735.7L1325.6 729.8L1330 727.8L1333.6 724.6L1335.4 720"/><path stroke="#d5a3f7" d="M1335.4 720L1339.2 718.5L1347.8 709.4L1351.5 707.7L1352.2 703.3"/><path stroke="#d8acf6" d="M1352.2 703.3L1374.5 683"/><path stroke="#dbb4f5" d="M1374.5 683L1377 679.4L1400.9 656.1"/><path stroke="#debdf4" d="M1400.9 656.1L1431.6 625.5"/><path stroke="#e1c5f4" d="M1431.6 625.5L1527.5 529.5"/><path stroke="#e4cef3" d="M1527.5 529.5L1569.3 487.7"/><path stroke="#e7d6f2" d="M1569.3 487.7L1598.7 458.4"/><path stroke="#eadff2" d="M1598.7 458.4L1621.3 435.8"/><path stroke="#ede7f1" d="M1621.3 435.8L1790.5 266.6"/><path stroke="#eadff2" d="M1790.5 266.6L1802.9 254.2"/><path stroke="#e7d6f2" d="M1802.9 254.2L1809.7 247.4"/><path stroke="#e4cef3" d="M1809.7 247.4L1814.7 242.4"/><path stroke="#e1c5f4" d="M1814.7 242.4L1816.9 240.2"/><path stroke="#debdf4" d="M1816.9 240.2L1818.7 238.4"/><path stroke="#d8acf6" d="M1818.7 238.4L1821 236"/><path stroke="#cf92f8" d="M1821 236L1823.1 234"/><path stroke="#c678fa" d="M1823.1 234L1825.2 231.9"/><path stroke="#bd5ffd" d="M1825.2 231.9L1827.5 229.6"/><path stroke="#b445ff" d="M1827.5 229.6L1829.4 227.7"/>
<path stroke="#d29af8" d="M1531.6 346.2L1542.7 335.1"/><path stroke="#d5a3f7" d="M1542.7 335.1L1554.5 323.3"/><path stroke="#d8acf6" d="M1554.5 323.3L1558.8 319"/><path stroke="#d5a3f7" d="M1558.8 319L1565.5 312.3"/>
<path stroke="#d8acf6" d="M1032.2 1105.5h0"/><path stroke="#dbb4f5" d="M1046 1084.5h0M1056.5 1073.7h0M1076 1053.2h0M1090 1045.1h0M1102.4 1029.8h0"/><path stroke="#debdf4" d="M1112.5 1014.5h0M1124.1 1005.5h0M1133.7 998.3h0M1142.6 985.8h0M1156.7 976.7h0M1163.4 966.1h0M1177.1 963.7h0M1181 951.8h0M1185.7 941.7h0M1200.3 932.6h0"/><path stroke="#e1c5f4" d="M1212.4 928.1h0M1220.1 915.5L1221.7 908.4"/><path stroke="#e4cef3" d="M1231.3 896.8h0M1239.7 893.4h0"/><path stroke="#e7d6f2" d="M1249.6 881.6L1254.1 876"/><path stroke="#eadff2" d="M1254.1 876L1256.4 874.1M1269.7 862.3h0"/><path stroke="#e7d6f2" d="M1269.7 862.3L1275.7 859M1278.8 849.7h0M1285.9 842.6L1296.9 832L1303.5 828.1L1306.8 822.4L1324 810.2"/><path stroke="#eadff2" d="M1324 810.2L1329 806L1331.7 799L1336.6 795.7L1343.8 788.4L1346.3 781.7L1351.3 779.8L1354.4 776.1L1363.9 768.6L1374.3 757.1L1382.1 751.1L1385.4 746.2L1388.9 743.6L1390.5 739.9L1400.7 731.8L1409.2 721.7L1412.3 719.7L1489.8 641.9"/><path stroke="#ede7f1" d="M1489.8 641.9L1892.8 238.9"/><path stroke="#eadff2" d="M1892.8 238.9L1895.3 236.4"/><path stroke="#e7d6f2" d="M1895.3 236.4L1899.4 232.4"/><path stroke="#e4cef3" d="M1899.4 232.4L1901.4 230.3"/><path stroke="#e1c5f4" d="M1901.4 230.3L1903.5 228.2"/><path stroke="#dbb4f5" d="M1903.5 228.2L1906 225.7"/><path stroke="#d8acf6" d="M1906 225.7L1908 223.7"/><path stroke="#d29af8" d="M1908 223.7L1910 221.7"/>
<path stroke="#4a1552" d="M1048.6 873.1h0"/><path stroke="#551a63" d="M1056.4 856.4h0M1075.6 840.7h0M1104.3 815.3h0"/><path stroke="#5a1c6c" d="M1110.8 804.8h0"/><path stroke="#5f1f75" d="M1118.5 798.6h0"/><path stroke="#5a1c6c" d="M1129.6 791.5h0M1132.3 782.2h0"/><path stroke="#551a63" d="M1142.9 776.4h0"/><path stroke="#5a1c6c" d="M1144.1 764.5h0"/><path stroke="#5f1f75" d="M1144.1 764.5L1152.1 762.9"/><path stroke="#6a2386" d="M1165 752h0"/><path stroke="#6f268f" d="M1172.6 745.3h0"/><path stroke="#742897" d="M1178 734.9h0"/><path stroke="#7a2ba0" d="M1178 734.9L1181.7 731.1"/><path stroke="#7f2da8" d="M1190.8 723.4h0"/><path stroke="#842fb1" d="M1190.8 723.4L1195.2 718.2"/><path stroke="#7f2da8" d="M1205.1 713.4h0M1212.3 706.7L1212.5 702.1"/><path stroke="#7a2ba0" d="M1212.5 702.1L1219.2 698.7M1225 692.1L1236 681.1"/><path stroke="#742897" d="M1236 681.1L1240.9 676.2L1243.5 671.4"/><path stroke="#6f268f" d="M1243.5 671.4L1249 666.9L1254 661.1"/><path stroke="#742897" d="M1254 661.1L1258.7 656.7"/><path stroke="#7a2ba0" d="M1258.7 656.7L1262.9 652.5"/><path stroke="#7f2da8" d="M1262.9 652.5L1272.1 643.6"/><path stroke="#842fb1" d="M1272.1 643.6L1280.3 635.7"/><path stroke="#8a32ba" d="M1280.3 635.7L1283.9 631.4"/><path stroke="#8f34c2" d="M1283.9 631.4L1295.4 621"/><path stroke="#9437cb" d="M1295.4 621L1309.9 605.7"/><path stroke="#9a39d4" d="M1309.9 605.7L1334.4 581.5"/><path stroke="#9f3bdc" d="M1334.4 581.5L1352.9 563"/><path stroke="#a43ee5" d="M1352.9 563L1361.4 554.5"/><path stroke="#a940ee" d="M1361.4 554.5L1378.4 537.5"/><path stroke="#af43f6" d="M1378.4 537.5L1381.3 534.6"/><path stroke="#a43ee5" d="M1381.3 534.6L1397 518.9"/><path stroke="#a940ee" d="M1397 518.9L1427.3 488.6"/><path stroke="#af43f6" d="M1427.3 488.6L1441 474.9"/><path stroke="#b445ff" d="M1441 474.9L1450.7 465.2"/><path stroke="#b74efe" d="M1450.7 465.2L1460.4 455.5"/><path stroke="#ba56fe" d="M1460.4 455.5L1471.5 444.4"/><path stroke="#bd5ffd" d="M1471.5 444.4L1485.6 430.3"/><path stroke="#c067fc" d="M1485.6 430.3L1513.3 402.6"/><path stroke="#c370fb" d="M1513.3 402.6L1526.5 389.3"/><path stroke="#c678fa" d="M1526.5 389.3L1532.5 383.4"/><path stroke="#c981fa" d="M1532.5 383.4L1540.6 375.3"/><path stroke="#cc89f9" d="M1540.6 375.3L1547 368.9"/><path stroke="#cf92f8" d="M1547 368.9L1553.5 362.4"/><path stroke="#d29af8" d="M1553.5 362.4L1557.4 358.5"/><path stroke="#d5a3f7" d="M1557.4 358.5L1562.1 353.8"/><path stroke="#d8acf6" d="M1562.1 353.8L1566.2 349.6"/><path stroke="#dbb4f5" d="M1566.2 349.6L1570 345.8"/><path stroke="#debdf4" d="M1570 345.8L1574.7 341.2"/><path stroke="#dbb4f5" d="M1574.7 341.2L1579 336.9"/><path stroke="#d8acf6" d="M1579 336.9L1583.1 332.8"/><path stroke="#d5a3f7" d="M1583.1 332.8L1593.4 322.5"/><path stroke="#dbb4f5" d="M1593.4 322.5L1609.7 306.2"/><path stroke="#d8acf6" d="M1609.7 306.2L1618.8 297.1"/><path stroke="#d5a3f7" d="M1618.8 297.1L1625 290.8"/>
<path stroke="#dbb4f5" d="M1035.1 1105.3h0M1055.6 1095.6h0M1070.4 1079.8h0"/><path stroke="#debdf4" d="M1086.6 1064.5h0M1099.7 1045.7h0M1116.3 1037.5h0"/><path stroke="#e1c5f4" d="M1126.7 1022.4h0M1139.6 1003.9h0"/><path stroke="#e4cef3" d="M1153.5 997.1h0M1163.7 982.5h0"/><path stroke="#e1c5f4" d="M1173.6 975.2h0M1186 962.1h0"/><path stroke="#debdf4" d="M1196.6 950.2h0M1208.7 941L1212.1 934.1"/><path stroke="#dbb4f5" d="M1218.6 922h0M1228.3 914.2h0M1241.4 909.6h0"/><path stroke="#d8acf6" d="M1246.6 899h0M1256.8 893.8h0M1265.6 879.8L1272.6 875M1280.9 867.1h0M1288.8 858L1295.5 854.9"/><path stroke="#dbb4f5" d="M1299.1 847h0M1304.9 838.4L1311.1 836.5M1316.1 827L1322.7 823.8L1327.6 818.5"/><path stroke="#debdf4" d="M1327.6 818.5L1332.5 816.7M1335.7 808.4L1341.9 803.5M1350.7 797.1L1352.2 792.4L1358.4 789.7L1363.8 784.8"/><path stroke="#e1c5f4" d="M1363.8 784.8L1369.2 779.3L1372.8 771.6L1377.1 770.7L1384.4 761.9L1406.3 739.8"/><path stroke="#e4cef3" d="M1406.3 739.8L1414.6 732.7L1440.8 706.1"/><path stroke="#e7d6f2" d="M1440.8 706.1L1485.4 661.5"/><path stroke="#eadff2" d="M1485.4 661.5L1541.2 605.8"/><path stroke="#ede7f1" d="M1541.2 605.8L1581.9 565"/><path stroke="#f0f0f0" d="M1581.9 565L1849.3 297.6"/><path stroke="#ede7f1" d="M1849.3 297.6L1851.8 295.1"/><path stroke="#f0f0f0" d="M1851.8 295.1L1901.4 245.5"/><path stroke="#ede7f1" d="M1901.4 245.5L1913.8 233.1"/><path stroke="#eadff2" d="M1913.8 233.1L1916.1 230.8"/><path stroke="#e7d6f2" d="M1916.1 230.8L1918.5 228.4"/><path stroke="#e4cef3" d="M1918.5 228.4L1920.3 226.6"/><path stroke="#e1c5f4" d="M1920.3 226.6L1922.7 224.3"/><path stroke="#debdf4" d="M1922.7 224.3L1925.2 221.8"/><path stroke="#dbb4f5" d="M1925.2 221.8L1927.7 219.3"/>
<path stroke="#551a63" d="M1173.3 728.9h0"/><path stroke="#5a1c6c" d="M1184 723.7h0"/><path stroke="#5f1f75" d="M1184 723.7L1188.4 718.1L1195 712.8L1197.2 707.2"/><path stroke="#5a1c6c" d="M1203.5 699.1L1210.1 697.6L1214.5 693.2"/><path stroke="#551a63" d="M1214.5 693.2L1218.4 689.8"/><path stroke="#5f1f75" d="M1271.1 636.4L1273.2 632.5"/><path stroke="#64217d" d="M1273.2 632.5L1276.7 629.3"/><path stroke="#6a2386" d="M1276.7 629.3L1279.5 626.5"/><path stroke="#6f268f" d="M1279.5 626.5L1286.8 619.7"/><path stroke="#742897" d="M1286.8 619.7L1296.9 609.6"/><path stroke="#7a2ba0" d="M1296.9 609.6L1306 600.5"/><path stroke="#7f2da8" d="M1306 600.5L1317 589.4"/><path stroke="#842fb1" d="M1317 589.4L1332.4 574"/><path stroke="#8a32ba" d="M1332.4 574L1346.3 560.2"/><path stroke="#8f34c2" d="M1346.3 560.2L1355.8 550.7"/><path stroke="#9437cb" d="M1355.8 550.7L1364.8 541.7"/><path stroke="#9a39d4" d="M1364.8 541.7L1376.5 530"/><path stroke="#9437cb" d="M1376.5 530L1419.1 487.4"/><path stroke="#9a39d4" d="M1419.1 487.4L1427.4 479.1"/><path stroke="#9f3bdc" d="M1427.4 479.1L1437.9 468.6"/><path stroke="#a43ee5" d="M1437.9 468.6L1445.1 461.4"/><path stroke="#a940ee" d="M1445.1 461.4L1453.8 452.7"/><path stroke="#af43f6" d="M1453.8 452.7L1461 445.5"/><path stroke="#b445ff" d="M1461 445.5L1468.6 437.9"/><path stroke="#b74efe" d="M1468.6 437.9L1478.9 427.6"/><path stroke="#ba56fe" d="M1478.9 427.6L1493.8 412.7"/><path stroke="#bd5ffd" d="M1493.8 412.7L1513.1 393.4"/><path stroke="#c067fc" d="M1513.1 393.4L1521.7 384.8"/><path stroke="#c370fb" d="M1521.7 384.8L1529.3 377.2"/><path stroke="#c678fa" d="M1529.3 377.2L1535.8 370.7"/><path stroke="#c981fa" d="M1535.8 370.7L1544.4 362.1"/><path stroke="#cc89f9" d="M1544.4 362.1L1550.4 356.1"/><path stroke="#cf92f8" d="M1550.4 356.1L1558.3 348.2"/><path stroke="#d29af8" d="M1558.3 348.2L1562.9 343.6"/><path stroke="#d5a3f7" d="M1562.9 343.6L1565.3 341.2"/><path stroke="#d8acf6" d="M1565.3 341.2L1569.9 336.6"/><path stroke="#d5a3f7" d="M1569.9 336.6L1576.7 329.8"/><path stroke="#d29af8" d="M1576.7 329.8L1587.9 318.6"/><path stroke="#d5a3f7" d="M1587.9 318.6L1590.3 316.2"/><path stroke="#d8acf6" d="M1590.3 316.2L1592.5 314"/><path stroke="#d5a3f7" d="M1592.5 314L1606 300.5"/><path stroke="#d29af8" d="M1606 300.5L1610.6 295.9"/>
<path stroke="#b74efe" d="M1073.1 909.3h0M1084.8 893.6h0M1096.8 881.6h0M1108.2 871.6h0M1118.7 860.8h0M1128.2 852.3h0M1134.9 842.5h0M1148.5 831.3h0M1161.9 820.2h0M1168.2 811.9h0M1176.7 802.6h0M1183.9 794.2h0"/><path stroke="#ba56fe" d="M1191.2 788.5h0M1196.5 778.9h0M1204.3 774.6h0M1209.6 766.7h0"/><path stroke="#bd5ffd" d="M1209.6 766.7L1215.9 764.5M1223.6 756.6L1233.2 743.9"/><path stroke="#c067fc" d="M1233.2 743.9L1240.5 740.4M1246.4 732.4L1251.7 729.3L1256.4 723.9"/><path stroke="#c370fb" d="M1263.9 718.3L1266.8 712.2L1275.6 704.3L1282.2 695.1L1286.7 692.6"/><path stroke="#c678fa" d="M1286.7 692.6L1306 674.4"/><path stroke="#c981fa" d="M1306 674.4L1326.2 652.7"/><path stroke="#cc89f9" d="M1326.2 652.7L1348.4 630.5"/><path stroke="#cf92f8" d="M1348.4 630.5L1373 606.1"/><path stroke="#d29af8" d="M1373 606.1L1401.5 577.6"/><path stroke="#d5a3f7" d="M1401.5 577.6L1420.3 558.8"/><path stroke="#d8acf6" d="M1420.3 558.8L1476.4 502.6"/><path stroke="#dbb4f5" d="M1476.4 502.6L1510 469.1"/><path stroke="#debdf4" d="M1510 469.1L1544.5 434.6"/><path stroke="#e1c5f4" d="M1544.5 434.6L1596.9 382.2"/><path stroke="#e4cef3" d="M1596.9 382.2L1692.8 286.3"/><path stroke="#e1c5f4" d="M1692.8 286.3L1705.3 273.8"/><path stroke="#debdf4" d="M1705.3 273.8L1709.2 269.9"/><path stroke="#d8acf6" d="M1709.2 269.9L1711.4 267.7"/><path stroke="#d5a3f7" d="M1711.4 267.7L1713.8 265.3"/><path stroke="#d29af8" d="M1713.8 265.3L1718.1 261"/><path stroke="#cf92f8" d="M1718.1 261L1722 257.1"/><path stroke="#cc89f9" d="M1722 257.1L1726.2 252.9"/><path stroke="#c981fa" d="M1726.2 252.9L1727.9 251.1"/><path stroke="#c067fc" d="M1727.9 251.1L1730.3 248.8"/><path stroke="#ba56fe" d="M1730.3 248.8L1732.8 246.3"/><path stroke="#b445ff" d="M1732.8 246.3L1734.7 244.4"/><path stroke="#a940ee" d="M1734.7 244.4L1737.1 242"/><path stroke="#a43ee5" d="M1737.1 242L1738.8 240.3"/>
<path stroke="#e4cef3" d="M1067.8 1108.9h0M1079.8 1089.4h0M1101 1070.3h0"/><path stroke="#e7d6f2" d="M1114.1 1057.1h0M1127.7 1046.1h0M1148.4 1028.1h0"/><path stroke="#eadff2" d="M1157.7 1015.6h0M1173.7 997.1h0M1182.1 990.2h0M1193.8 976.4h0M1214.1 966.2h0M1221.2 956.7h0M1231.7 946.1h0M1237 935.5h0M1248.4 924.7L1255.5 921"/><path stroke="#e7d6f2" d="M1263.8 912.1h0M1274.4 903.2h0"/><path stroke="#e4cef3" d="M1282.9 897.6h0M1288 885.9h0"/><path stroke="#e7d6f2" d="M1288 885.9L1292.2 881.1M1299.9 875.1h0M1308.5 865.6h0M1313.9 859h0M1320.6 853.2h0M1326.8 847.2h0M1334.8 839.6h0M1344.2 829L1350 826.2M1354.9 818.9L1360 816.2M1366.1 807.6L1370.4 802.8L1375.6 800.2L1379.7 793.5L1383.6 789.6L1397.4 779L1399.9 772.6L1408.9 767.7M1419.6 753.9L1424.5 751L1427.6 746.5L1440.8 733.9"/><path stroke="#eadff2" d="M1440.8 733.9L1581.4 593.4"/><path stroke="#ede7f1" d="M1581.4 593.4L1960.5 214.4"/>
<path stroke="#9f3bdc" d="M1063.2 887.6h0M1081.7 878.5h0M1090.2 870.9h0M1100.8 861.6h0M1112.5 849h0M1120.7 837.7h0"/><path stroke="#a43ee5" d="M1134.5 828.1h0M1142 818.6h0M1154.8 806.5h0M1161.9 801.2h0M1168 787.3h0M1178.2 782.6h0"/><path stroke="#a940ee" d="M1185.9 770.5h0M1195.1 765.8L1198.5 759.3"/><path stroke="#af43f6" d="M1198.5 759.3L1205.6 754.8M1212.5 742.1L1216.7 741.4M1224 732.6h0"/><path stroke="#b445ff" d="M1224 732.6L1230.4 728.5L1234 724.5M1242.6 716.4L1245.5 708.8M1254.1 708.4h0"/><path stroke="#b74efe" d="M1254.1 708.4L1257.4 701.9L1266.9 692.5L1270.5 685.6L1275 681.2M1282.9 675.7h0"/><path stroke="#ba56fe" d="M1282.9 675.7L1290.3 667.4L1298.2 661.4"/><path stroke="#bd5ffd" d="M1298.2 661.4L1314.3 643.9"/><path stroke="#c067fc" d="M1314.3 643.9L1321 638.2L1336.5 622"/><path stroke="#c370fb" d="M1336.5 622L1357.4 601.2"/><path stroke="#c678fa" d="M1357.4 601.2L1379.1 579.5"/><path stroke="#c981fa" d="M1379.1 579.5L1421.4 537.2"/><path stroke="#cc89f9" d="M1421.4 537.2L1454.7 503.9"/><path stroke="#cf92f8" d="M1454.7 503.9L1478.3 480.3"/><path stroke="#d29af8" d="M1478.3 480.3L1500.7 457.8"/><path stroke="#d5a3f7" d="M1500.7 457.8L1518.7 439.9"/><path stroke="#d8acf6" d="M1518.7 439.9L1534.4 424.2"/><path stroke="#dbb4f5" d="M1534.4 424.2L1549.8 408.8"/><path stroke="#debdf4" d="M1549.8 408.8L1573.4 385.2"/><path stroke="#e1c5f4" d="M1573.4 385.2L1606.2 352.4"/><path stroke="#e4cef3" d="M1606.2 352.4L1670.1 288.5"/><path stroke="#e1c5f4" d="M1670.1 288.5L1679.9 278.7"/><path stroke="#debdf4" d="M1679.9 278.7L1682.3 276.3"/><path stroke="#dbb4f5" d="M1682.3 276.3L1684.2 274.4"/><path stroke="#d8acf6" d="M1684.2 274.4L1686.1 272.5"/><path stroke="#d5a3f7" d="M1686.1 272.5L1688.2 270.4"/><path stroke="#d29af8" d="M1688.2 270.4L1690 268.6"/><path stroke="#c981fa" d="M1690 268.6L1692.5 266.1"/><path stroke="#c370fb" d="M1692.5 266.1L1694.7 263.9"/><path stroke="#bd5ffd" d="M1694.7 263.9L1696.5 262.1"/><path stroke="#b445ff" d="M1696.5 262.1L1698.5 260"/>
<path stroke="#e7d6f2" d="M1088.3 1080.9h0M1095.9 1066.1h0M1106.2 1052.5h0"/><path stroke="#eadff2" d="M1119.4 1047.7h0M1133.5 1035.2h0M1140.4 1019.5h0M1152.5 1011h0M1162.7 1003.2h0M1173.7 991L1178.8 986.5M1185.6 980.4h0M1195.8 971.5h0M1203 960.1h0M1212.8 949.4h0M1222.1 950.1h0"/><path stroke="#e7d6f2" d="M1236.2 930.3L1241.9 928.5M1240 919.7h0"/><path stroke="#e4cef3" d="M1255 913.8L1251.3 909.4"/><path stroke="#e1c5f4" d="M1259.7 903.6L1264.6 902.4M1273.9 897.9h0"/><path stroke="#debdf4" d="M1273.9 897.9L1275.5 891.4M1285.2 883.3h0"/><path stroke="#e1c5f4" d="M1288.6 874.8L1294.4 869.5L1298.2 868.9L1303.3 862.7M1307.7 853h0M1317.6 850.5L1320.7 844.7L1325.3 841.9"/><path stroke="#e4cef3" d="M1325.3 841.9L1331.8 838.8L1332.6 834.4L1336.7 827.3L1343.6 819.4M1349.9 812.9L1362.9 802.9L1378.1 785.9"/><path stroke="#e7d6f2" d="M1378.1 785.9L1397.2 769.6L1398.9 766.1L1405.4 760.5L1414.2 749.3L1418.4 747.6L1429.6 736.3"/><path stroke="#eadff2" d="M1429.6 736.3L1485.2 680.3"/><path stroke="#ede7f1" d="M1485.2 680.3L1576.5 588.9"/><path stroke="#f0f0f0" d="M1576.5 588.9L1938 227.5"/><path stroke="#ede7f1" d="M1938 227.5L1952.3 213.2"/>
<path stroke="#cf92f8" d="M1210.5 829.4h0M1219 820h0"/><path stroke="#d29af8" d="M1219 820L1224.3 818.4M1231.2 811.8h0M1240.4 803.1h0"/><path stroke="#d5a3f7" d="M1240.4 803.1L1244.7 800.6M1251.9 792.4L1257 788.4L1259.9 782L1264.4 776.5M1272 770h0"/><path stroke="#d8acf6" d="M1272 770L1282.9 760.3M1287.7 752.8L1292.1 750.3L1307.3 735.6L1311.3 733.8"/><path stroke="#dbb4f5" d="M1311.3 733.8L1315.6 726.7L1327.8 715.6L1331.5 709.6L1338.4 703.5"/><path stroke="#debdf4" d="M1338.4 703.5L1342.8 700.6L1344.6 697.2L1359.1 684L1365.2 676.7"/><path stroke="#e1c5f4" d="M1365.2 676.7L1398.8 643.7"/><path stroke="#e4cef3" d="M1398.8 643.7L1443.8 598.7"/><path stroke="#e7d6f2" d="M1443.8 598.7L1506.2 536.3"/><path stroke="#eadff2" d="M1506.2 536.3L1592.4 450.1"/><path stroke="#ede7f1" d="M1592.4 450.1L1632.9 409.6"/><path stroke="#f0f0f0" d="M1632.9 409.6L1641.1 401.4"/><path stroke="#ede7f1" d="M1641.1 401.4L1715 327.5"/><path stroke="#eadff2" d="M1715 327.5L1719.5 323"/><path stroke="#ede7f1" d="M1719.5 323L1776.1 266.4"/><path stroke="#eadff2" d="M1776.1 266.4L1784.8 257.7"/><path stroke="#e7d6f2" d="M1784.8 257.7L1798.9 243.6"/><path stroke="#e4cef3" d="M1798.9 243.6L1800.7 241.8"/><path stroke="#debdf4" d="M1800.7 241.8L1802.9 239.6"/><path stroke="#d8acf6" d="M1802.9 239.6L1805.3 237.2"/><path stroke="#d29af8" d="M1805.3 237.2L1807.2 235.3"/><path stroke="#c981fa" d="M1807.2 235.3L1809.5 233"/><path stroke="#c370fb" d="M1809.5 233L1811.4 231.1"/><path stroke="#ba56fe" d="M1811.4 231.1L1813.4 229.1"/>
<path stroke="#f0f0f0" d="M1887.1 361.6L1912.5 336.1M1919.4 329.3L2020.9 227.7"/>
<path stroke="#ede7f1" d="M1245 956.3h0M1268.6 926.8h0M1273.1 919.3h0M1280.3 913.6L1288.4 911.4M1305.2 889.6h0M1312.9 882.9L1319.7 881.2M1321.9 871.8h0M1328.1 865.8h0M1337.2 863.6h0M1371.5 825.4L1383.3 817L1385.1 812.4L1388.2 811.8L1392 805.7L1398.1 803.4L1399.3 798.9L1402.2 794.4L1419.2 780.6M1452.9 746L1457.4 741.1M1469.3 729.1L1983.6 214.8"/>
<path stroke="#e1c5f4" d="M1049.8 1110h0M1068.3 1096h0M1084.9 1068.8h0"/><path stroke="#e4cef3" d="M1095.7 1062.1h0M1109.1 1048.2h0"/><path stroke="#e7d6f2" d="M1124.7 1036.1h0M1138.3 1023.4h0M1144.2 1015.1h0M1160 1000.3h0M1170.2 990h0M1176.4 974.7h0M1189.3 972.5h0M1201 955.4h0"/><path stroke="#e4cef3" d="M1215.1 952.8h0M1221 939.5h0"/><path stroke="#e1c5f4" d="M1229.3 934.1h0M1240.5 922.6h0"/><path stroke="#debdf4" d="M1248.6 908.9h0M1256.2 903.8h0"/><path stroke="#dbb4f5" d="M1267.5 896.4L1269.6 888.9L1273.5 883.6M1285.5 876.8L1287.5 869.3M1299.9 861.9L1303.9 858.1L1308.1 851"/><path stroke="#debdf4" d="M1315.4 843.9L1320.9 842.4M1328.7 833L1341.1 818.4L1352.6 808.2"/><path stroke="#e1c5f4" d="M1357.4 801L1364.9 795.6M1373.1 788.4L1380.8 778L1388.6 770.5"/><path stroke="#e4cef3" d="M1388.6 770.5L1391.7 766.7L1397.7 763.8L1400.2 758.5L1417.1 741.6L1423.5 736.9L1432.5 726.7"/><path stroke="#e7d6f2" d="M1432.5 726.7L1484.7 674.8"/><path stroke="#eadff2" d="M1484.7 674.8L1559.6 600"/><path stroke="#ede7f1" d="M1559.6 600L1597.1 562.4"/><path stroke="#f0f0f0" d="M1597.1 562.4L1851.8 307.7"/><path stroke="#ede7f1" d="M1851.8 307.7L1869.6 290"/><path stroke="#f0f0f0" d="M1869.6 290L1915.4 244.2"/><path stroke="#ede7f1" d="M1915.4 244.2L1930 229.6"/><path stroke="#eadff2" d="M1930 229.6L1934.7 224.9"/><path stroke="#e7d6f2" d="M1934.7 224.9L1939.1 220.4"/><path stroke="#e4cef3" d="M1939.1 220.4L1945.5 214.1"/>
<path stroke="#e1c5f4" d="M1358.3 712.9h0"/><path stroke="#e4cef3" d="M1358.3 712.9L1373.9 696L1381.1 690L1411.9 658.6"/><path stroke="#e7d6f2" d="M1411.9 658.6L1475.7 594.8"/><path stroke="#eadff2" d="M1475.7 594.8L1553 517.5"/><path stroke="#ede7f1" d="M1553 517.5L1765.2 305.3"/><path stroke="#f0f0f0" d="M1765.2 305.3L1777.5 293"/><path stroke="#ede7f1" d="M1777.5 293L1815.4 255.1"/><path stroke="#eadff2" d="M1815.4 255.1L1822.2 248.3"/><path stroke="#e7d6f2" d="M1822.2 248.3L1827.7 242.8"/><path stroke="#e4cef3" d="M1827.7 242.8L1831.8 238.7"/><path stroke="#debdf4" d="M1831.8 238.7L1834.1 236.4"/><path stroke="#d8acf6" d="M1834.1 236.4L1836.3 234.2"/><path stroke="#cf92f8" d="M1836.3 234.2L1838.8 231.7"/><path stroke="#c981fa" d="M1838.8 231.7L1840.7 229.8"/><path stroke="#c067fc" d="M1840.7 229.8L1842.8 227.7"/>
<path stroke="#a43ee5" d="M1054.3 940h0"/><path stroke="#a940ee" d="M1065.3 931h0M1073.9 919.8h0M1084.1 902h0"/><path stroke="#af43f6" d="M1093.7 891.3h0M1110.5 887.7h0"/><path stroke="#a940ee" d="M1118.1 872.2h0M1127.2 868.4h0M1138.3 854.5h0"/><path stroke="#af43f6" d="M1145.1 848.9L1145.3 849.4M1158.2 836.4h0"/><path stroke="#a940ee" d="M1160.4 827.7h0M1176.3 826.1h0M1175.7 814.7h0M1187.4 807.9h0"/><path stroke="#af43f6" d="M1187.4 807.9L1190.4 803.1M1197.8 797.9h0M1203.6 789.7L1208.1 785.4"/><path stroke="#b445ff" d="M1219.4 779.3L1220.3 773M1228.4 765.3h0"/><path stroke="#b74efe" d="M1228.4 765.3L1238.6 754.1M1246.5 749L1246.2 744.3"/><path stroke="#ba56fe" d="M1254 739.6L1257 733.7L1262.9 729L1267 729.9"/><path stroke="#bd5ffd" d="M1267 729.9L1270.7 724.2M1277.6 717.8L1288.9 704.9"/><path stroke="#c067fc" d="M1288.9 704.9L1292.1 700.4L1296.6 698.7L1302.6 690.2L1305.9 688.1"/><path stroke="#c370fb" d="M1305.9 688.1L1308.5 683.9L1312.2 682.4L1316.2 676.3L1320.3 674"/><path stroke="#c678fa" d="M1320.3 674L1340.1 652.9"/><path stroke="#c981fa" d="M1340.1 652.9L1355 638.6"/><path stroke="#cc89f9" d="M1355 638.6L1375.8 618.1"/><path stroke="#cf92f8" d="M1375.8 618.1L1396.9 597"/><path stroke="#d29af8" d="M1396.9 597L1449.9 544"/><path stroke="#d5a3f7" d="M1449.9 544L1494 499.9"/><path stroke="#d8acf6" d="M1494 499.9L1526.4 467.5"/><path stroke="#dbb4f5" d="M1526.4 467.5L1570.9 423"/><path stroke="#debdf4" d="M1570.9 423L1592.9 400.9"/><path stroke="#e1c5f4" d="M1592.9 400.9L1609.5 384.4"/><path stroke="#e4cef3" d="M1609.5 384.4L1613.4 380.5"/><path stroke="#e1c5f4" d="M1613.4 380.5L1636.4 357.5"/><path stroke="#e4cef3" d="M1636.4 357.5L1704.7 289.2"/><path stroke="#e1c5f4" d="M1704.7 289.2L1734.4 259.4"/><path stroke="#debdf4" d="M1734.4 259.4L1736.9 257"/><path stroke="#dbb4f5" d="M1736.9 257L1740.6 253.3"/><path stroke="#d8acf6" d="M1740.6 253.3L1742.7 251.2"/><path stroke="#d5a3f7" d="M1742.7 251.2L1744.6 249.3"/><path stroke="#cf92f8" d="M1744.6 249.3L1747.1 246.8"/><path stroke="#cc89f9" d="M1747.1 246.8L1749.5 244.4"/><path stroke="#c370fb" d="M1749.5 244.4L1751.3 242.6"/><path stroke="#ba56fe" d="M1751.3 242.6L1753.7 240.2"/><path stroke="#af43f6" d="M1753.7 240.2L1756.1 237.8"/>
<path stroke="#e7d6f2" d="M1072.5 1118.8h0M1084.9 1101.7h0M1104.7 1086.7h0M1118.9 1074h0"/><path stroke="#eadff2" d="M1143.8 1045.2h0M1155 1032.1L1159.8 1026.2M1175.4 1014.5h0M1185.4 1001.1h0"/><path stroke="#ede7f1" d="M1195.1 988.9h0M1211.7 980h0M1224.6 962.6h0M1234.1 954.7h0M1259.6 930.4h0M1268.6 922.5L1271.3 914.5M1280.9 911h0M1286.2 902.8h0M1295.2 890.7h0M1307.2 885.8L1311.4 878.9L1317.1 872.8M1320.5 864.5L1324.6 862.8M1336.8 856.8h0M1359.2 829.8h0M1364.6 823.2L1374.5 816.2L1382.1 805.2L1397.1 789.6L1401.8 787.7L1408.8 779L1414.4 775.4M1444.6 743.9L1975.9 212.6"/>
<path stroke="#9f3bdc" d="M1105.4 858.2h0M1118.5 845.8h0M1129.6 840.4h0M1134.9 827.7h0M1145.3 819.8h0M1155.8 813.1h0M1162.6 803.5h0M1169.2 797.1h0M1176.5 789.1h0"/><path stroke="#a43ee5" d="M1184 779.2L1190.5 776.6M1201.9 769.1h0"/><path stroke="#a940ee" d="M1201.9 769.1L1208.4 764.3M1216.2 755.5h0M1220.4 745.9h0"/><path stroke="#af43f6" d="M1220.4 745.9L1225.4 742.5M1231.2 735h0M1237.2 728.1h0M1244.8 722.9h0"/><path stroke="#b445ff" d="M1250.5 716.1h0M1258.5 709.7L1261.1 705.6M1268.5 698.7h0"/><path stroke="#b74efe" d="M1268.5 698.7L1270.9 693.4L1277.5 691.5M1282.8 683.6L1287.8 680.8"/><path stroke="#ba56fe" d="M1287.8 680.8L1305.5 661.2"/><path stroke="#bd5ffd" d="M1305.5 661.2L1310.4 657.7L1318.6 648.4L1323.4 645"/><path stroke="#c067fc" d="M1323.4 645L1342.6 625.2"/><path stroke="#c370fb" d="M1342.6 625.2L1361.5 606.2"/><path stroke="#c678fa" d="M1361.5 606.2L1383.2 584.5"/><path stroke="#c981fa" d="M1383.2 584.5L1431.3 536.4"/><path stroke="#cc89f9" d="M1431.3 536.4L1464.8 502.9"/><path stroke="#cf92f8" d="M1464.8 502.9L1487.8 479.9"/><path stroke="#d29af8" d="M1487.8 479.9L1508.1 459.6"/><path stroke="#d5a3f7" d="M1508.1 459.6L1526.1 441.6"/><path stroke="#d8acf6" d="M1526.1 441.6L1546.6 421.1"/><path stroke="#dbb4f5" d="M1546.6 421.1L1569.4 398.3"/><path stroke="#debdf4" d="M1569.4 398.3L1606.2 361.5"/><path stroke="#e1c5f4" d="M1606.2 361.5L1619.8 347.9"/><path stroke="#e4cef3" d="M1619.8 347.9L1640.3 327.4"/><path stroke="#e1c5f4" d="M1640.3 327.4L1688.7 279"/><path stroke="#debdf4" d="M1688.7 279L1691.2 276.6"/><path stroke="#dbb4f5" d="M1691.2 276.6L1693.7 274.1"/><path stroke="#d8acf6" d="M1693.7 274.1L1696.2 271.5"/><path stroke="#d5a3f7" d="M1696.2 271.5L1698.2 269.6"/><path stroke="#d29af8" d="M1698.2 269.6L1700.1 267.6"/><path stroke="#cc89f9" d="M1700.1 267.6L1702.3 265.4"/><path stroke="#c678fa" d="M1702.3 265.4L1704.3 263.4"/><path stroke="#bd5ffd" d="M1704.3 263.4L1706.4 261.3"/><path stroke="#b74efe" d="M1706.4 261.3L1708.2 259.5"/><path stroke="#af43f6" d="M1708.2 259.5L1710.2 257.5"/><path stroke="#a940ee" d="M1710.2 257.5L1712.7 255"/><path stroke="#a43ee5" d="M1712.7 255L1714.7 253"/><path stroke="#9f3bdc" d="M1714.7 253L1718.7 249"/><path stroke="#9437cb" d="M1718.7 249L1721.2 246.5"/>
<path stroke="#ede7f1" d="M1352.6 833.8L1359.5 824.3L1365.5 824L1368 818.2L1376.1 810.5L1380.4 807.9L1385.2 799.2L1393.6 793.2L1395.6 789.4L1399.5 787.6L1412.2 773.5M1432 755.1h0M1442.8 743.7L1586.9 599.7"/><path stroke="#f0f0f0" d="M1586.9 599.7L1972.8 213.8"/>
<path stroke="#ede7f1" d="M1089.6 990.8h0M1101.7 978.8h0M1108.8 969.9h0"/><path stroke="#f0f0f0" d="M1122.8 954.9h0M1133 948.8h0"/><path stroke="#ede7f1" d="M1138.9 937.4h0M1147.3 922.8h0M1163.8 922h0"/><path stroke="#eadff2" d="M1162.6 910h0M1181 895.7L1183 892.3"/><path stroke="#e7d6f2" d="M1196.8 883.1h0M1204.8 872.4L1208.8 865.7"/><path stroke="#e4cef3" d="M1219.2 860.6h0M1224.7 851.4h0"/><path stroke="#e1c5f4" d="M1232.1 845.6h0M1239.9 838.3h0M1246.7 831h0"/><path stroke="#e4cef3" d="M1246.7 831L1257.2 821.7M1263.4 815.8h0M1270.7 808.3L1271.8 806.5M1282.2 798.5h0M1286.6 790.7L1295.5 784.9L1301.7 774.7L1308.4 769.8L1311.7 764.9L1318.8 761L1322.3 756L1327.6 752.7L1331.3 746.9L1334.6 744.3"/><path stroke="#e7d6f2" d="M1334.6 744.3L1346.9 731.2L1356 724.7L1359 719L1393.2 685"/><path stroke="#eadff2" d="M1393.2 685L1472.8 605.2"/><path stroke="#ede7f1" d="M1472.8 605.2L1578.6 499.3"/><path stroke="#f0f0f0" d="M1578.6 499.3L1814.3 263.7"/><path stroke="#ede7f1" d="M1814.3 263.7L1829.3 248.7"/><path stroke="#eadff2" d="M1829.3 248.7L1833.2 244.8"/><path stroke="#e7d6f2" d="M1833.2 244.8L1837.5 240.5"/><path stroke="#e4cef3" d="M1837.5 240.5L1839.7 238.3"/><path stroke="#e1c5f4" d="M1839.7 238.3L1841.8 236.2"/><path stroke="#dbb4f5" d="M1841.8 236.2L1844.2 233.8"/><path stroke="#d5a3f7" d="M1844.2 233.8L1845.9 232"/><path stroke="#cf92f8" d="M1845.9 232L1847.7 230.2"/><path stroke="#c678fa" d="M1847.7 230.2L1849.5 228.5"/><path stroke="#c067fc" d="M1849.5 228.5L1851.9 226.1"/>
<path stroke="#b74efe" d="M1045.7 890.6h0"/><path stroke="#ba56fe" d="M1053.6 876.2h0"/><path stroke="#bd5ffd" d="M1067.4 861.3h0M1074.9 853.3h0M1084.2 846h0M1093.2 834.3h0M1109.1 826.2h0M1112.7 816.9h0M1118.7 810.8L1122.7 807.3M1131.8 798.6L1132 793.6M1151.6 781.5L1151.9 776.6"/><path stroke="#c067fc" d="M1161.4 769.2h0M1169.7 763.2L1175.9 759.6"/><path stroke="#c370fb" d="M1181.1 749.3L1186.4 744M1196.4 734.3L1202.2 733L1204.4 725.5M1212 720.9h0M1218.1 714.5L1228.1 704.8L1236.2 694.4L1245 687.5M1249.8 680.2L1255.6 676.4L1265.8 666.9"/><path stroke="#c678fa" d="M1265.8 666.9L1267 662L1277 654.8L1294.3 635.8"/><path stroke="#c981fa" d="M1294.3 635.8L1299.4 632.4L1335.1 596.3"/><path stroke="#cc89f9" d="M1335.1 596.3L1369.2 562.2"/><path stroke="#cf92f8" d="M1369.2 562.2L1387.6 543.8"/><path stroke="#d5a3f7" d="M1387.6 543.8L1395.1 536.3"/><path stroke="#d8acf6" d="M1395.1 536.3L1446.5 484.9"/><path stroke="#dbb4f5" d="M1446.5 484.9L1481.6 449.8"/><path stroke="#debdf4" d="M1481.6 449.8L1534.6 396.7"/><path stroke="#e1c5f4" d="M1534.6 396.7L1548.5 382.9"/><path stroke="#e4cef3" d="M1548.5 382.9L1561.7 369.7"/><path stroke="#e7d6f2" d="M1561.7 369.7L1601.8 329.6"/><path stroke="#e1c5f4" d="M1601.8 329.6L1623.1 308.3"/><path stroke="#debdf4" d="M1623.1 308.3L1638.2 293.2"/><path stroke="#dbb4f5" d="M1638.2 293.2L1644.7 286.7"/><path stroke="#d8acf6" d="M1644.7 286.7L1648.8 282.6"/><path stroke="#d5a3f7" d="M1648.8 282.6L1655.4 275.9"/><path stroke="#d29af8" d="M1655.4 275.9L1657.9 273.5"/><path stroke="#cf92f8" d="M1657.9 273.5L1659.6 271.7"/><path stroke="#c981fa" d="M1659.6 271.7L1661.5 269.9"/><path stroke="#c678fa" d="M1661.5 269.9L1664 267.4"/><path stroke="#c067fc" d="M1664 267.4L1665.9 265.5"/>
<path stroke="#ede7f1" d="M1458.5 753.6L1461.1 751.8M1474.6 737.5L1997.5 214.6"/>
<path stroke="#c981fa" d="M1535.8 336.9h0"/><path stroke="#cc89f9" d="M1535.8 336.9L1546 326.7"/><path stroke="#cf92f8" d="M1546 326.7L1561.1 311.6"/>
<path stroke="#f0f0f0" d="M1583.7 645.7L2011.5 218"/>
<path stroke="#af43f6" d="M1214.2 768.6h0M1220.9 760.4h0"/><path stroke="#b445ff" d="M1231.3 752.6L1235.8 747.7L1241.6 744.1"/><path stroke="#b74efe" d="M1241.6 744.1L1242.3 735.8M1250.9 732.4L1261.4 721.2"/><path stroke="#ba56fe" d="M1261.4 721.2L1267.5 716.4L1270.1 710.3L1281.8 702.2"/><path stroke="#bd5ffd" d="M1281.8 702.2L1299.1 684.8"/><path stroke="#c067fc" d="M1299.1 684.8L1308.2 676.6L1310.1 672.9L1315 669.4"/><path stroke="#c370fb" d="M1315 669.4L1318 664.7L1327.1 657.1L1334.2 649.3"/><path stroke="#c678fa" d="M1334.2 649.3L1350.6 632.8"/><path stroke="#c981fa" d="M1350.6 632.8L1368.6 615.1"/><path stroke="#cc89f9" d="M1368.6 615.1L1390.1 593.6"/><path stroke="#cf92f8" d="M1390.1 593.6L1443.7 539.9"/><path stroke="#d29af8" d="M1443.7 539.9L1482.6 501"/><path stroke="#d5a3f7" d="M1482.6 501L1508.3 475.4"/><path stroke="#d8acf6" d="M1508.3 475.4L1537.3 446.4"/><path stroke="#dbb4f5" d="M1537.3 446.4L1566.6 417.1"/><path stroke="#debdf4" d="M1566.6 417.1L1599.4 384.3"/><path stroke="#e1c5f4" d="M1599.4 384.3L1626.6 357"/><path stroke="#e4cef3" d="M1626.6 357L1695.4 288.3"/><path stroke="#e1c5f4" d="M1695.4 288.3L1710.2 273.5"/><path stroke="#debdf4" d="M1710.2 273.5L1714.5 269.2"/><path stroke="#d8acf6" d="M1714.5 269.2L1720.9 262.7"/><path stroke="#d5a3f7" d="M1720.9 262.7L1727 256.7"/><path stroke="#d29af8" d="M1727 256.7L1729.2 254.5"/><path stroke="#cf92f8" d="M1729.2 254.5L1731.6 252.1"/><path stroke="#c981fa" d="M1731.6 252.1L1733.8 249.9"/><path stroke="#c370fb" d="M1733.8 249.9L1736.1 247.6"/><path stroke="#bd5ffd" d="M1736.1 247.6L1737.9 245.8"/><path stroke="#ba56fe" d="M1737.9 245.8L1739.7 244"/><path stroke="#b445ff" d="M1739.7 244L1741.6 242"/><path stroke="#a940ee" d="M1741.6 242L1743.7 240"/><path stroke="#9f3bdc" d="M1743.7 240L1745.6 238.1"/>
<path stroke="#f0f0f0" d="M1937.5 317.9L1965.8 289.6M1997.8 257.6L2021.2 234.2"/>
<path stroke="#debdf4" d="M1107.1 962.1h0"/><path stroke="#e4cef3" d="M1112.7 952.1h0"/><path stroke="#e7d6f2" d="M1126.6 941.7h0"/><path stroke="#e4cef3" d="M1141.3 927.7h0"/><path stroke="#e1c5f4" d="M1148.6 913.2h0M1160.2 906.1h0"/><path stroke="#debdf4" d="M1170.7 898.3h0"/><path stroke="#dbb4f5" d="M1183.2 879.8h0M1190.9 873.3h0"/><path stroke="#d8acf6" d="M1201.5 866.5h0M1206.2 854.6h0"/><path stroke="#d5a3f7" d="M1206.2 854.6L1212.7 849.4M1225.1 844.3h0M1229.1 835.8h0M1236.3 826.2h0"/><path stroke="#d8acf6" d="M1246 821.9h0M1252 815.2h0M1259.3 806.7h0"/><path stroke="#dbb4f5" d="M1266.7 799.2L1270.8 794.1M1278.5 786.4L1284.3 782.1M1290.9 774.1L1296.2 770.6L1300.3 766M1307.3 760.5L1311.4 753.3L1315.9 750.9L1320.7 745.4"/><path stroke="#debdf4" d="M1320.7 745.4L1324.1 742.9L1333.1 732.3L1344.7 721.9L1346.8 718.2"/><path stroke="#e1c5f4" d="M1346.8 718.2L1352.9 714L1368.7 696.6L1373.1 693.6L1388 678.6"/><path stroke="#e4cef3" d="M1388 678.6L1439.9 626.6"/><path stroke="#e7d6f2" d="M1439.9 626.6L1535.6 530.9"/><path stroke="#eadff2" d="M1535.6 530.9L1583.4 483.1"/><path stroke="#ede7f1" d="M1583.4 483.1L1643.9 422.6"/><path stroke="#f0f0f0" d="M1643.9 422.6L1657.9 408.6"/><path stroke="#ede7f1" d="M1657.9 408.6L1666.6 399.9"/><path stroke="#f0f0f0" d="M1666.6 399.9L1669.1 397.4"/><path stroke="#ede7f1" d="M1669.1 397.4L1744.7 321.8"/><path stroke="#f0f0f0" d="M1744.7 321.8L1779.1 287.4"/><path stroke="#ede7f1" d="M1779.1 287.4L1811.5 255.1"/><path stroke="#eadff2" d="M1811.5 255.1L1817.3 249.2"/><path stroke="#e7d6f2" d="M1817.3 249.2L1821.9 244.6"/><path stroke="#e4cef3" d="M1821.9 244.6L1826.3 240.2"/><path stroke="#e1c5f4" d="M1826.3 240.2L1828.8 237.7"/><path stroke="#dbb4f5" d="M1828.8 237.7L1830.5 236"/><path stroke="#d5a3f7" d="M1830.5 236L1833.1 233.4"/><path stroke="#c981fa" d="M1833.1 233.4L1835.5 231"/><path stroke="#c370fb" d="M1835.5 231L1837.3 229.2"/><path stroke="#ba56fe" d="M1837.3 229.2L1839.7 226.9"/>
<path stroke="#d29af8" d="M1014.3 1067h0"/><path stroke="#d5a3f7" d="M1022.7 1050.3h0"/><path stroke="#d29af8" d="M1038.4 1040.1h0"/><path stroke="#d5a3f7" d="M1046.4 1030.1h0M1059.2 1020.1h0"/><path stroke="#d8acf6" d="M1074.8 1001.4h0"/><path stroke="#debdf4" d="M1084.7 990.8h0"/><path stroke="#eadff2" d="M1096.3 984.6h0M1112.8 974.4h0"/><path stroke="#ede7f1" d="M1119.5 956.7h0M1132.5 949.3h0M1136.4 939.2h0"/><path stroke="#eadff2" d="M1146.8 930.7h0M1156.4 920.9h0"/><path stroke="#e7d6f2" d="M1162.7 911.5h0M1173.4 901.9h0"/><path stroke="#e4cef3" d="M1173.4 901.9L1177.2 895.1M1186.9 886h0"/><path stroke="#e1c5f4" d="M1194.2 880.5h0M1202 873.2h0"/><path stroke="#debdf4" d="M1202 873.2L1206.9 868.2"/><path stroke="#dbb4f5" d="M1211.7 860.2h0M1221.3 855.6h0"/><path stroke="#d8acf6" d="M1228.4 847L1235.4 845.5M1242 831.7L1245.5 827.5"/><path stroke="#dbb4f5" d="M1253.5 820L1259.6 817.5L1260.9 811.1M1270.6 806.7L1278.8 798.9L1285.8 787.9"/><path stroke="#debdf4" d="M1285.8 787.9L1292.6 787.1M1295.5 778.8L1299.5 777.3M1305.7 770.2L1313.6 760.3L1320.9 757.5L1329 744.4L1333.7 742.3L1337 738L1345.2 732.2L1348.2 726.6"/><path stroke="#e1c5f4" d="M1348.2 726.6L1354.8 721.5L1394.6 681.2"/><path stroke="#e4cef3" d="M1394.6 681.2L1458.8 616.8"/><path stroke="#e7d6f2" d="M1458.8 616.8L1461.3 614.3"/><path stroke="#e4cef3" d="M1461.3 614.3L1477.4 598.3"/><path stroke="#e7d6f2" d="M1477.4 598.3L1483.6 592.1"/><path stroke="#e4cef3" d="M1483.6 592.1L1506.2 569.5"/><path stroke="#e7d6f2" d="M1506.2 569.5L1541.3 534.4"/><path stroke="#eadff2" d="M1541.3 534.4L1599.6 476.1"/><path stroke="#ede7f1" d="M1599.6 476.1L1763.6 312.1"/><path stroke="#f0f0f0" d="M1763.6 312.1L1784.5 291.2"/><path stroke="#ede7f1" d="M1784.5 291.2L1822.5 253.2"/><path stroke="#eadff2" d="M1822.5 253.2L1826.9 248.8"/><path stroke="#e7d6f2" d="M1826.9 248.8L1831.7 244"/><path stroke="#e4cef3" d="M1831.7 244L1834.1 241.6"/><path stroke="#e1c5f4" d="M1834.1 241.6L1838.6 237.1"/><path stroke="#dbb4f5" d="M1838.6 237.1L1841 234.7"/><path stroke="#d5a3f7" d="M1841 234.7L1842.8 232.9"/><path stroke="#cc89f9" d="M1842.8 232.9L1844.5 231.2"/><path stroke="#c370fb" d="M1844.5 231.2L1846.7 229"/><path stroke="#ba56fe" d="M1846.7 229L1849.1 226.6"/>
<path stroke="#f0f0f0" d="M1570 654.8L2007.7 217.1"/>
<path stroke="#8f34c2" d="M1321.2 577.6L1336.7 562.1"/><path stroke="#9437cb" d="M1336.7 562.1L1345.4 553.4"/><path stroke="#9a39d4" d="M1345.4 553.4L1354.5 544.3"/><path stroke="#9f3bdc" d="M1354.5 544.3L1363.1 535.7"/><path stroke="#a43ee5" d="M1363.1 535.7L1372.5 526.3"/><path stroke="#a940ee" d="M1372.5 526.3L1375.3 523.5"/><path stroke="#af43f6" d="M1375.3 523.5L1383.9 515"/><path stroke="#cf92f8" d="M1517 381.8L1521.8 377"/><path stroke="#d29af8" d="M1521.8 377L1531.7 367.1"/><path stroke="#d5a3f7" d="M1531.7 367.1L1543.8 355"/><path stroke="#d8acf6" d="M1543.8 355L1554.5 344.3"/><path stroke="#dbb4f5" d="M1554.5 344.3L1562.3 336.5"/><path stroke="#debdf4" d="M1562.3 336.5L1572.4 326.4"/><path stroke="#dbb4f5" d="M1572.4 326.4L1585.4 313.4"/><path stroke="#d8acf6" d="M1585.4 313.4L1589.7 309.1"/><path stroke="#d5a3f7" d="M1589.7 309.1L1600.1 298.8"/>
<path stroke="#eadff2" d="M1116.6 1061.3h0M1137.9 1038.6h0M1153.8 1030.1h0"/><path stroke="#ede7f1" d="M1167.3 1016.1h0M1178.8 995.2h0M1199.8 982.1h0M1212.3 973.2h0M1216.2 961.1h0M1231.2 948.2h0M1239.7 935.6h0M1257.1 923h0M1263.4 913.5h0M1275.7 903.1h0M1281.3 891.5h0M1291.9 892.5h0M1296.4 878.5h0M1305.2 872.3L1309.1 868.2M1319.8 859.9L1323 853.8M1329.3 847.9L1335.5 842.3M1344.1 834.7L1350.1 830.3M1356.4 822.3L1360.9 820.3M1365 812.4h0M1372.1 806.6L1375.7 802L1382.5 797.6L1385.2 790.2L1392 787.8L1400.6 777.4L1405.6 774.2L1411.3 768.2M1426.2 753L1581.8 596.8"/><path stroke="#f0f0f0" d="M1581.8 596.8L1962.5 216.2"/><path stroke="#ede7f1" d="M1962.5 216.2L1966.4 212.2"/>
<path stroke="#eadff2" d="M1380.7 746.9L1397.6 731.9L1401.3 727L1510.5 618.1"/><path stroke="#ede7f1" d="M1510.5 618.1L1611.7 516.9"/><path stroke="#f0f0f0" d="M1611.7 516.9L1756.8 371.8"/><path stroke="#ede7f1" d="M1756.8 371.8L1766.5 362.1"/><path stroke="#f0f0f0" d="M1766.5 362.1L1834.6 294"/><path stroke="#ede7f1" d="M1834.6 294L1873.1 255.5"/><path stroke="#f0f0f0" d="M1873.1 255.5L1875.3 253.3"/><path stroke="#ede7f1" d="M1875.3 253.3L1889.6 239"/><path stroke="#eadff2" d="M1889.6 239L1891.5 237.1"/><path stroke="#e7d6f2" d="M1891.5 237.1L1894 234.6"/><path stroke="#e4cef3" d="M1894 234.6L1896.4 232.2"/><path stroke="#e1c5f4" d="M1896.4 232.2L1898.9 229.7"/><path stroke="#debdf4" d="M1898.9 229.7L1901 227.6"/><path stroke="#d8acf6" d="M1901 227.6L1903.4 225.2"/><path stroke="#d29af8" d="M1903.4 225.2L1905.4 223.2"/><path stroke="#cc89f9" d="M1905.4 223.2L1907.4 221.2"/>
<path stroke="#ede7f1" d="M1160 1019.4h0M1170.9 1006.6h0M1180.1 993.8h0M1201 981.8h0M1203.2 966.1h0M1219.8 963.3h0M1223.3 952.8h0M1236.8 942.6h0M1257.1 922.1h0M1267.7 909.1L1274.7 904.5M1287.3 892h0M1293.3 881h0M1301.6 877.9L1306.4 871.4M1315.8 863L1321.2 857.7M1324.9 848.4h0M1336.8 837.6h0M1348.1 832.4h0M1354.2 824.3L1369 811L1372.3 803.3L1378.5 800.6M1384.2 793.7L1389.3 788L1393.5 786.2L1395.7 781.1L1401.8 777.3L1410.3 768M1426.7 751.2L1583.6 594.9"/><path stroke="#f0f0f0" d="M1583.6 594.9L1965.3 213.2"/>
<path stroke="#e1c5f4" d="M1284.3 861.4h0M1292.4 848.2h0M1299.6 841.8L1305.4 837.9M1312.5 829.5h0"/><path stroke="#e4cef3" d="M1317.9 822.4h0M1327.2 816.2h0M1332.2 808.1h0M1339 802.9L1343.7 797.7M1349.3 789.9L1353.3 787.5M1360.4 782.7L1365.5 777.1"/><path stroke="#e7d6f2" d="M1365.5 777.1L1374.6 769.3L1381.1 758.8L1386.9 756.6L1396 744.4L1420.9 721.7"/><path stroke="#eadff2" d="M1420.9 721.7L1482.5 659.6"/><path stroke="#ede7f1" d="M1482.5 659.6L1563.9 578.2"/><path stroke="#f0f0f0" d="M1563.9 578.2L1898.7 243.4"/><path stroke="#ede7f1" d="M1898.7 243.4L1907.3 234.8"/><path stroke="#eadff2" d="M1907.3 234.8L1909.8 232.3"/><path stroke="#e7d6f2" d="M1909.8 232.3L1913.7 228.4"/><path stroke="#e4cef3" d="M1913.7 228.4L1916.1 226"/><path stroke="#debdf4" d="M1916.1 226L1918.4 223.7"/><path stroke="#dbb4f5" d="M1918.4 223.7L1922.1 220"/>
<path stroke="#d5a3f7" d="M1107.7 1023.3h0"/><path stroke="#d8acf6" d="M1121.7 1003.3h0M1139.8 991.3h0M1154.4 972.4h0"/><path stroke="#dbb4f5" d="M1167.2 954.8h0M1180.9 945.4h0"/><path stroke="#debdf4" d="M1193 925.9h0M1206.3 917.2h0"/><path stroke="#e1c5f4" d="M1215.4 916.5h0"/><path stroke="#e4cef3" d="M1219.9 908.3h0"/><path stroke="#e7d6f2" d="M1229.6 899.7h0"/><path stroke="#eadff2" d="M1243 889.6h0M1251.7 879.1h0"/><path stroke="#ede7f1" d="M1258.1 869h0M1266.4 861.5L1270.6 856.7M1281.2 847.4h0M1287.6 837.3L1290.8 832M1298.9 825.7h0M1309.9 821.8h0M1314.3 814L1318 806.5M1327.7 799.1L1331.8 796M1340.9 786.4L1345.4 783.2L1347.5 778.3M1354 772.8L1359.9 768.1M1365.3 761.4L1370.7 756.5L1374.8 750.8L1383.5 743.8L1386.4 739.7L1396.4 731.7L1400 726.2L1403.4 723.9L1406.7 719.1L1411.4 715.5L1558 568.6"/><path stroke="#f0f0f0" d="M1558 568.6L1876.8 249.8"/><path stroke="#ede7f1" d="M1876.8 249.8L1887.1 239.5"/><path stroke="#eadff2" d="M1887.1 239.5L1890.9 235.7"/><path stroke="#e7d6f2" d="M1890.9 235.7L1893.2 233.3"/><path stroke="#e4cef3" d="M1893.2 233.3L1895.4 231.2"/><path stroke="#e1c5f4" d="M1895.4 231.2L1897.8 228.8"/><path stroke="#dbb4f5" d="M1897.8 228.8L1900 226.6"/><path stroke="#d5a3f7" d="M1900 226.6L1902.1 224.5"/><path stroke="#cf92f8" d="M1902.1 224.5L1904.2 222.4"/>
<path stroke="#a940ee" d="M1094.9 869.3h0M1104.6 865.7h0M1109.1 851.4h0M1113 843.3h0M1124.5 835.1h0M1136.4 826.1h0M1144.8 821.8h0"/><path stroke="#af43f6" d="M1159.2 808h0M1169.5 802.1L1172.1 795.9L1178.1 790.1M1185.1 778L1191.1 775.2"/><path stroke="#b445ff" d="M1199.8 767.6h0M1206.1 760.8L1211 754.4"/><path stroke="#b74efe" d="M1218.2 745.8L1229.1 737.1M1234.3 728.6L1238.9 726.9"/><path stroke="#ba56fe" d="M1244.7 719.9L1250.3 714.2M1257.8 708.3L1262.8 704L1265.7 699.7"/><path stroke="#bd5ffd" d="M1271.5 693.4L1278.5 685L1285.2 681.1L1288.5 675.3"/><path stroke="#c067fc" d="M1288.5 675.3L1306.8 658"/><path stroke="#c370fb" d="M1306.8 658L1326.5 638.8"/><path stroke="#c678fa" d="M1326.5 638.8L1349.9 615.2"/><path stroke="#c981fa" d="M1349.9 615.2L1369.6 595.5"/><path stroke="#cc89f9" d="M1369.6 595.5L1395.5 569.6"/><path stroke="#cf92f8" d="M1395.5 569.6L1438.3 526.9"/><path stroke="#d29af8" d="M1438.3 526.9L1470.8 494.3"/><path stroke="#d5a3f7" d="M1470.8 494.3L1496.1 469"/><path stroke="#d8acf6" d="M1496.1 469L1517.8 447.3"/><path stroke="#dbb4f5" d="M1517.8 447.3L1538.3 426.9"/><path stroke="#debdf4" d="M1538.3 426.9L1560.1 405"/><path stroke="#e1c5f4" d="M1560.1 405L1601.6 363.6"/><path stroke="#e4cef3" d="M1601.6 363.6L1682.3 282.8"/><path stroke="#e1c5f4" d="M1682.3 282.8L1687 278.1"/><path stroke="#debdf4" d="M1687 278.1L1691.3 273.8"/><path stroke="#dbb4f5" d="M1691.3 273.8L1693.3 271.8"/><path stroke="#d8acf6" d="M1693.3 271.8L1695.1 270"/><path stroke="#d29af8" d="M1695.1 270L1697.1 268"/><path stroke="#cc89f9" d="M1697.1 268L1699.5 265.6"/><path stroke="#c678fa" d="M1699.5 265.6L1701.8 263.4"/><path stroke="#bd5ffd" d="M1701.8 263.4L1704.2 260.9"/><path stroke="#b445ff" d="M1704.2 260.9L1706.6 258.5"/><path stroke="#a940ee" d="M1706.6 258.5L1708.8 256.3"/>
<path stroke="#eadff2" d="M1069.8 1140.4h0M1107.3 1097.8h0"/><path stroke="#ede7f1" d="M1282.2 914.9h0M1313.9 889L1318 886.5M1325.9 880.1h0M1331.2 870h0M1339.7 869.6L1341.4 862.8M1380 824.8L1383.9 820.1L1392.1 814L1395.3 809.1L1400.4 806.2L1404.8 800.7L1414.6 792L1421.3 783L1425.4 780.5M1458.3 747.2h0M1470.5 734.9L1596.5 608.9"/><path stroke="#f0f0f0" d="M1596.5 608.9L1988.6 216.8"/><path stroke="#ede7f1" d="M1988.6 216.8L1990.4 215"/>
<path stroke="#7f2da8" d="M1073.7 845.3h0M1097.5 827.8h0"/><path stroke="#842fb1" d="M1099.1 818h0M1109.8 806.1h0"/><path stroke="#8a32ba" d="M1118.9 801.6L1126.5 799.3"/><path stroke="#842fb1" d="M1130.8 789.6h0M1138.4 777.9h0M1149.9 773h0"/><path stroke="#8a32ba" d="M1149.9 773L1153.6 767.7"/><path stroke="#8f34c2" d="M1165.3 757.3h0"/><path stroke="#9437cb" d="M1165.3 757.3L1170.2 750.4"/><path stroke="#9a39d4" d="M1177.4 744.7h0"/><path stroke="#9f3bdc" d="M1184.6 736L1187.8 732.1L1190.4 731.5"/><path stroke="#a43ee5" d="M1195.4 722.1h0M1203.9 718.1L1208.7 713.1"/><path stroke="#9f3bdc" d="M1214.3 706.7L1223.6 698.9M1229.3 691L1234 688.5L1237.3 681.7"/><path stroke="#9a39d4" d="M1237.3 681.7L1242.6 679.4L1247.8 674.7L1254 666.8L1264.2 659.4"/><path stroke="#9f3bdc" d="M1264.2 659.4L1266.3 654.4L1271.5 650"/><path stroke="#a43ee5" d="M1271.5 650L1275.9 647.2L1277.3 643.9"/><path stroke="#a940ee" d="M1277.3 643.9L1285.1 637.6L1291.3 629.7"/><path stroke="#af43f6" d="M1291.3 629.7L1309.9 611.4"/><path stroke="#b445ff" d="M1309.9 611.4L1332.2 589.1"/><path stroke="#b74efe" d="M1332.2 589.1L1356.7 564.7"/><path stroke="#ba56fe" d="M1356.7 564.7L1372.4 549"/><path stroke="#bd5ffd" d="M1372.4 549L1423.8 497.6"/><path stroke="#c067fc" d="M1423.8 497.6L1442.8 478.6"/><path stroke="#c370fb" d="M1442.8 478.6L1458.3 463.1"/><path stroke="#c678fa" d="M1458.3 463.1L1472.2 449.2"/><path stroke="#c981fa" d="M1472.2 449.2L1497.2 424.2"/><path stroke="#cc89f9" d="M1497.2 424.2L1526.9 394.5"/><path stroke="#cf92f8" d="M1526.9 394.5L1535.1 386.3"/><path stroke="#d29af8" d="M1535.1 386.3L1543.7 377.7"/><path stroke="#d5a3f7" d="M1543.7 377.7L1550.6 370.8"/><path stroke="#d8acf6" d="M1550.6 370.8L1557 364.4"/><path stroke="#dbb4f5" d="M1557 364.4L1563.1 358.3"/><path stroke="#debdf4" d="M1563.1 358.3L1570.1 351.3"/><path stroke="#e1c5f4" d="M1570.1 351.3L1580.1 341.3"/><path stroke="#debdf4" d="M1580.1 341.3L1584.5 336.9"/><path stroke="#dbb4f5" d="M1584.5 336.9L1595.7 325.7"/><path stroke="#debdf4" d="M1595.7 325.7L1607.2 314.2"/><path stroke="#dbb4f5" d="M1607.2 314.2L1620.4 301"/><path stroke="#d8acf6" d="M1620.4 301L1632.4 289"/><path stroke="#d5a3f7" d="M1632.4 289L1636 285.4"/><path stroke="#d29af8" d="M1636 285.4L1638.4 283"/><path stroke="#cf92f8" d="M1638.4 283L1642 279.4"/><path stroke="#cc89f9" d="M1642 279.4L1644.1 277.3"/><path stroke="#c981fa" d="M1644.1 277.3L1648.2 273.2"/><path stroke="#c678fa" d="M1648.2 273.2L1651.8 269.6"/>
<path stroke="#c678fa" d="M1525.1 361.2L1527.5 358.7"/><path stroke="#c981fa" d="M1527.5 358.7L1536.3 349.9"/><path stroke="#cc89f9" d="M1536.3 349.9L1549.7 336.5"/><path stroke="#cf92f8" d="M1549.7 336.5L1554.1 332.2"/><path stroke="#d29af8" d="M1554.1 332.2L1567 319.3"/><path stroke="#cf92f8" d="M1567 319.3L1575.3 310.9"/>
<path stroke="#f0f0f0" d="M1732 509.1L1797.3 443.7M1875.3 365.8L2018.1 222.9"/>
<path stroke="#d8acf6" d="M1056.6 1092.1h0M1062.4 1076.3h0M1079.7 1065.7h0"/><path stroke="#dbb4f5" d="M1093.8 1053h0M1110.9 1037.9h0"/><path stroke="#debdf4" d="M1125.9 1022.3h0M1137.3 1012h0"/><path stroke="#e1c5f4" d="M1149 998.4h0M1163.1 986.7h0M1168.6 976.7h0"/><path stroke="#debdf4" d="M1180.8 968.1h0M1191.9 957h0"/><path stroke="#dbb4f5" d="M1204.7 948.8h0M1208.3 938.3h0"/><path stroke="#d8acf6" d="M1217.6 928.1h0M1224.8 920.4h0"/><path stroke="#d5a3f7" d="M1234.5 907.5L1242.3 904.3M1255.5 898L1259.8 891.1M1267.6 883.7L1273.1 877.9M1277.2 865.7h0M1286 861.9h0M1294.3 849.9L1299 847.9"/><path stroke="#d8acf6" d="M1306.5 840.6L1309.5 839.8M1315.7 833.8h0M1322 825.8L1325.1 822L1330.3 819.9L1334.5 813.4"/><path stroke="#dbb4f5" d="M1334.5 813.4L1340.8 803.2L1351 795.6M1357.6 789.2L1360.3 785.5"/><path stroke="#debdf4" d="M1360.3 785.5L1366.8 781.7L1368.9 777.7L1376 769.8L1381.8 764L1389.8 758.9L1394.5 752.9"/><path stroke="#e1c5f4" d="M1394.5 752.9L1395.9 749.9L1423.8 722.9"/><path stroke="#e4cef3" d="M1423.8 722.9L1451.5 695.1"/><path stroke="#e7d6f2" d="M1451.5 695.1L1509.9 636.7"/><path stroke="#eadff2" d="M1509.9 636.7L1548.6 598"/><path stroke="#ede7f1" d="M1548.6 598L1567.2 579.4"/><path stroke="#f0f0f0" d="M1567.2 579.4L1905 241.6"/><path stroke="#ede7f1" d="M1905 241.6L1914 232.6"/><path stroke="#eadff2" d="M1914 232.6L1916.2 230.4"/><path stroke="#e7d6f2" d="M1916.2 230.4L1918.7 227.9"/><path stroke="#e4cef3" d="M1918.7 227.9L1920.5 226.1"/><path stroke="#e1c5f4" d="M1920.5 226.1L1922.2 224.4"/><path stroke="#debdf4" d="M1922.2 224.4L1924.4 222.2"/><path stroke="#dbb4f5" d="M1924.4 222.2L1926.6 220"/>
<path stroke="#e7d6f2" d="M1387.4 781.8L1391.4 777.2L1396.7 774L1416.4 752.9"/><path stroke="#eadff2" d="M1416.4 752.9L1506.2 663.2"/><path stroke="#ede7f1" d="M1506.2 663.2L1581.1 588.3"/><path stroke="#f0f0f0" d="M1581.1 588.3L1936.4 233.1"/><path stroke="#ede7f1" d="M1936.4 233.1L1956.5 212.9"/>
<path stroke="#af43f6" d="M1019.8 979.6h0M1036.6 972.5h0"/><path stroke="#b445ff" d="M1050.4 955.3h0M1068.1 943.8h0"/><path stroke="#b74efe" d="M1076.8 926.9h0M1086.3 919.9h0M1099.9 901.8h0M1104.3 892.1h0M1118.6 885.9h0M1134.5 874.1h0M1139.2 861.6h0M1156.3 852h0M1163.3 840.6h0M1169.3 831h0M1178.9 824h0M1190.5 814.4h0M1198 804.3h0M1203.2 797.4h0"/><path stroke="#ba56fe" d="M1211.2 789.2h0M1219.2 782.4h0"/><path stroke="#bd5ffd" d="M1222.8 773.8h0M1237 769.3h0"/><path stroke="#c067fc" d="M1241.1 761.7h0M1248.3 754.3L1250.9 749.1M1258.3 742.6h0"/><path stroke="#c370fb" d="M1266.2 736.6L1281.4 723.7L1285 716.5"/><path stroke="#c678fa" d="M1285 716.5L1289.6 712.7M1295.8 706.4L1299.6 704.1L1303.6 697.4"/><path stroke="#c981fa" d="M1303.6 697.4L1317.4 686L1321.1 681"/><path stroke="#cc89f9" d="M1321.1 681L1325.7 677.7L1337.6 664.6"/><path stroke="#cf92f8" d="M1337.6 664.6L1342.2 661.2L1356.9 645.9"/><path stroke="#d29af8" d="M1356.9 645.9L1375.3 627.7"/><path stroke="#d5a3f7" d="M1375.3 627.7L1401.4 601.5"/><path stroke="#d8acf6" d="M1401.4 601.5L1440.4 562.5"/><path stroke="#dbb4f5" d="M1440.4 562.5L1500.8 502.1"/><path stroke="#debdf4" d="M1500.8 502.1L1553.3 449.6"/><path stroke="#e1c5f4" d="M1553.3 449.6L1581.9 421"/><path stroke="#e4cef3" d="M1581.9 421L1603.8 399.1"/><path stroke="#e7d6f2" d="M1603.8 399.1L1628.7 374.2"/><path stroke="#e4cef3" d="M1628.7 374.2L1632.9 370"/><path stroke="#e7d6f2" d="M1632.9 370L1637.2 365.8"/><path stroke="#e4cef3" d="M1637.2 365.8L1653.5 349.5"/><path stroke="#e7d6f2" d="M1653.5 349.5L1712.2 290.7"/><path stroke="#e4cef3" d="M1712.2 290.7L1749.1 253.8"/><path stroke="#e1c5f4" d="M1749.1 253.8L1751.1 251.8"/><path stroke="#debdf4" d="M1751.1 251.8L1753 249.9"/><path stroke="#dbb4f5" d="M1753 249.9L1755.4 247.6"/><path stroke="#d5a3f7" d="M1755.4 247.6L1757.9 245.1"/><path stroke="#cf92f8" d="M1757.9 245.1L1759.9 243"/><path stroke="#c678fa" d="M1759.9 243L1762.2 240.7"/><path stroke="#bd5ffd" d="M1762.2 240.7L1764.4 238.6"/><path stroke="#b74efe" d="M1764.4 238.6L1766.4 236.6"/>
<path stroke="#e1c5f4" d="M1099.2 1048.1h0M1114.5 1031.4h0"/><path stroke="#e4cef3" d="M1130.8 1020.2h0M1142.5 1007.7h0M1153.1 990.7h0M1173.7 980.8h0M1184.2 964.3h0"/><path stroke="#e1c5f4" d="M1200.5 950.4h0"/><path stroke="#debdf4" d="M1212.8 934.1L1219.4 929.9"/><path stroke="#dbb4f5" d="M1234.9 914.7h0M1241.8 905.1h0"/><path stroke="#d8acf6" d="M1251.7 903.3h0M1263.6 887.2h0"/><path stroke="#d5a3f7" d="M1270.7 880.4L1278.4 877"/><path stroke="#d8acf6" d="M1286.2 867.3h0M1288.4 856.9h0M1298.9 854.5h0M1307.4 845.2h0"/><path stroke="#dbb4f5" d="M1314.2 834.2L1327 825.1L1331.1 819.2M1338.1 814.1L1341.1 809.2"/><path stroke="#debdf4" d="M1348.5 801L1353.6 797.5L1362.7 786.9L1369.2 782.7L1375.2 777L1376.5 773.5"/><path stroke="#e1c5f4" d="M1376.5 773.5L1389.9 762.3M1396 755.5L1399.4 751L1412.2 739.9"/><path stroke="#e4cef3" d="M1412.2 739.9L1451.4 700.2"/><path stroke="#e7d6f2" d="M1451.4 700.2L1494 657.7"/><path stroke="#eadff2" d="M1494 657.7L1499.8 651.8"/><path stroke="#e7d6f2" d="M1499.8 651.8L1502.2 649.4"/><path stroke="#eadff2" d="M1502.2 649.4L1541.7 609.9"/><path stroke="#ede7f1" d="M1541.7 609.9L1569.2 582.4"/><path stroke="#f0f0f0" d="M1569.2 582.4L1915.3 236.3"/><path stroke="#ede7f1" d="M1915.3 236.3L1920.3 231.4"/><path stroke="#eadff2" d="M1920.3 231.4L1922.7 229"/><path stroke="#e7d6f2" d="M1922.7 229L1926.8 224.9"/><path stroke="#e4cef3" d="M1926.8 224.9L1928.5 223.1"/><path stroke="#e1c5f4" d="M1928.5 223.1L1932.7 218.9"/>
<path stroke="#ba56fe" d="M1010.8 1023.7h0M1019.1 1008.5h0M1034.2 994.8h0M1049.4 985.6h0M1060.8 973.4h0"/><path stroke="#bd5ffd" d="M1071.6 960.4h0M1083.7 947.6h0M1090.7 937.1h0"/><path stroke="#c067fc" d="M1106.8 929.6h0M1110.3 914.3h0M1121.5 906.3h0M1126.3 897.3h0M1139.9 888.9h0M1147.9 885.1h0M1154.9 871.3h0M1170.6 861.9L1166.9 857.2M1180.5 849.8h0M1187.1 840h0M1194.9 835.4h0M1204.8 832.2L1207.8 824.4M1215 818h0"/><path stroke="#c370fb" d="M1215 818L1220.7 813.6L1224.3 807M1227 797.5L1233.3 797"/><path stroke="#c678fa" d="M1233.3 797L1239.1 795.2M1244.2 786.4L1249.1 782.4"/><path stroke="#c981fa" d="M1254.9 775.9L1257.1 770.3L1264.4 767.5M1270.4 760.2L1279.6 753.2"/><path stroke="#cc89f9" d="M1279.6 753.2L1283.6 748.1M1290.2 741.8L1305.1 724.9"/><path stroke="#cf92f8" d="M1305.1 724.9L1314.1 718.2L1323.8 707"/><path stroke="#d29af8" d="M1323.8 707L1330.3 702L1333.8 697L1339.5 692.8L1341.6 689.6"/><path stroke="#d5a3f7" d="M1341.6 689.6L1363.3 667.8"/><path stroke="#d8acf6" d="M1363.3 667.8L1384.5 646.7"/><path stroke="#dbb4f5" d="M1384.5 646.7L1411.5 619.7"/><path stroke="#debdf4" d="M1411.5 619.7L1450.6 580.6"/><path stroke="#e1c5f4" d="M1450.6 580.6L1521.8 509.4"/><path stroke="#e4cef3" d="M1521.8 509.4L1580.8 450.4"/><path stroke="#e7d6f2" d="M1580.8 450.4L1609.4 421.8"/><path stroke="#eadff2" d="M1609.4 421.8L1678 353.2"/><path stroke="#e7d6f2" d="M1678 353.2L1684.4 346.8"/><path stroke="#eadff2" d="M1684.4 346.8L1690.4 340.8"/><path stroke="#e7d6f2" d="M1690.4 340.8L1721.1 310.1"/><path stroke="#eadff2" d="M1721.1 310.1L1735.5 295.6"/><path stroke="#e7d6f2" d="M1735.5 295.6L1742.2 289"/><path stroke="#eadff2" d="M1742.2 289L1764.2 267"/><path stroke="#e7d6f2" d="M1764.2 267L1776.4 254.8"/><path stroke="#e4cef3" d="M1776.4 254.8L1784.6 246.6"/><path stroke="#e1c5f4" d="M1784.6 246.6L1786.8 244.4"/><path stroke="#debdf4" d="M1786.8 244.4L1788.8 242.4"/><path stroke="#d8acf6" d="M1788.8 242.4L1791.1 240.1"/><path stroke="#d29af8" d="M1791.1 240.1L1793.1 238"/><path stroke="#c981fa" d="M1793.1 238L1795.5 235.7"/><path stroke="#c067fc" d="M1795.5 235.7L1797.6 233.6"/><path stroke="#b74efe" d="M1797.6 233.6L1800 231.2"/>
<path stroke="#af43f6" d="M1125.3 814.5h0M1136.2 809L1136.9 807.7"/><path stroke="#b445ff" d="M1148 794.1h0M1155 784.4L1159.2 782.7M1164.9 770.4h0M1175 772.3h0M1175.8 761.2h0M1188.4 754.2h0"/><path stroke="#b74efe" d="M1188.4 754.2L1191 748.9M1198.3 742.9L1203.3 739.8L1205.3 735.3M1213.8 729.8L1222.2 719.3"/><path stroke="#ba56fe" d="M1222.2 719.3L1225.3 713.8L1233 711.3L1242.7 698.1M1252.3 692.7L1253.9 686.3L1258.1 684.3L1262 680.7L1264.8 675.7L1270.1 672.7"/><path stroke="#bd5ffd" d="M1270.1 672.7L1275.3 669.1L1281.3 660.4L1291.9 650.4"/><path stroke="#c067fc" d="M1291.9 650.4L1300.6 640.6L1316.5 626.1"/><path stroke="#c370fb" d="M1316.5 626.1L1343.2 598.7"/><path stroke="#c678fa" d="M1343.2 598.7L1367.8 574"/><path stroke="#c981fa" d="M1367.8 574L1394.7 547.2"/><path stroke="#cc89f9" d="M1394.7 547.2L1413.4 528.5"/><path stroke="#cf92f8" d="M1413.4 528.5L1448.2 493.7"/><path stroke="#d29af8" d="M1448.2 493.7L1471.6 470.3"/><path stroke="#d5a3f7" d="M1471.6 470.3L1495.6 446.2"/><path stroke="#d8acf6" d="M1495.6 446.2L1534.6 407.3"/><path stroke="#dbb4f5" d="M1534.6 407.3L1543.7 398.2"/><path stroke="#debdf4" d="M1543.7 398.2L1550.9 390.9"/><path stroke="#e1c5f4" d="M1550.9 390.9L1561.5 380.4"/><path stroke="#e4cef3" d="M1561.5 380.4L1606.6 335.3"/><path stroke="#e1c5f4" d="M1606.6 335.3L1608.8 333"/><path stroke="#e4cef3" d="M1608.8 333L1622 319.9"/><path stroke="#e1c5f4" d="M1622 319.9L1628.2 313.7"/><path stroke="#e4cef3" d="M1628.2 313.7L1630.4 311.5"/><path stroke="#e1c5f4" d="M1630.4 311.5L1648.9 292.9"/><path stroke="#debdf4" d="M1648.9 292.9L1661.4 280.5"/><path stroke="#dbb4f5" d="M1661.4 280.5L1663.6 278.3"/><path stroke="#d8acf6" d="M1663.6 278.3L1665.7 276.2"/><path stroke="#d5a3f7" d="M1665.7 276.2L1667.6 274.3"/><path stroke="#d29af8" d="M1667.6 274.3L1669.7 272.2"/><path stroke="#cf92f8" d="M1669.7 272.2L1671.4 270.5"/><path stroke="#c981fa" d="M1671.4 270.5L1673.2 268.6"/><path stroke="#c370fb" d="M1673.2 268.6L1675.8 266.1"/><path stroke="#bd5ffd" d="M1675.8 266.1L1677.8 264.1"/>
<path stroke="#e7d6f2" d="M1148.6 1012.3h0"/><path stroke="#eadff2" d="M1160.1 998.9h0M1166.3 988.4h0"/><path stroke="#e7d6f2" d="M1178.7 973.9h0M1187.5 970.7h0M1192.5 959.7h0"/><path stroke="#e4cef3" d="M1204.9 946.3h0M1216 943h0M1225.5 936.2h0"/><path stroke="#e1c5f4" d="M1234.7 923.5h0M1240.4 911.3L1248.3 909.5"/><path stroke="#debdf4" d="M1255 900.1L1261.8 897.3M1268.4 886.8L1272.8 881M1277.6 873.6h0M1286.5 870.2h0M1294.7 859.9L1301.4 856.1L1305.5 849.9L1309.9 846.3M1318.4 840.4h0"/><path stroke="#e1c5f4" d="M1318.4 840.4L1318.1 834.8L1325.9 828M1333.7 821.7L1338.6 817.2L1343.8 814.9L1344.5 808.5L1349.7 805.7L1352.7 801.5M1360 795.7L1365.3 789.9"/><path stroke="#e4cef3" d="M1365.3 789.9L1369.5 786.6L1377.6 777L1388.9 767.6L1394.2 758.9L1399.4 756L1410.9 744.1"/><path stroke="#e7d6f2" d="M1410.9 744.1L1464.7 690.9"/><path stroke="#eadff2" d="M1464.7 690.9L1536.8 618.7"/><path stroke="#ede7f1" d="M1536.8 618.7L1924.9 230.6"/><path stroke="#eadff2" d="M1924.9 230.6L1926.9 228.6"/><path stroke="#e7d6f2" d="M1926.9 228.6L1931.2 224.3"/><path stroke="#e4cef3" d="M1931.2 224.3L1937.1 218.4"/><path stroke="#e1c5f4" d="M1937.1 218.4L1939.2 216.3"/>
<path stroke="#ede7f1" d="M1295.1 915.8h0M1315.9 893.3h0M1324.3 888.4L1325.8 881L1333.7 873.2L1344.6 865.5M1383.5 825.2L1384.5 821.9L1389.4 818.8L1395.7 812.5L1401.5 809.8L1403.4 804.2L1409.3 801.5L1414.3 794.4L1418.2 791.7L1429.3 779.9M1438.7 769.8h0M1458.7 750.6h0M1473.8 735.5L1994.5 214.9"/>
<path stroke="#debdf4" d="M1131.9 1008.9h0M1135.4 998.6h0M1149.2 989.5h0"/><path stroke="#e1c5f4" d="M1159.2 985.9h0"/><path stroke="#debdf4" d="M1170.1 969.9h0M1173.4 956.9h0M1189.2 956.2h0M1197.7 944.1h0"/><path stroke="#dbb4f5" d="M1203.4 933h0M1213.5 927.1h0M1216 914.4h0M1224.9 909.5h0M1239.4 901.5h0"/><path stroke="#debdf4" d="M1239.4 901.5L1239.9 895.1M1252.4 889.3h0"/><path stroke="#e1c5f4" d="M1252.4 889.3L1252.5 884M1265.6 875.6L1271.5 866.7M1282.1 856.9L1290.6 846.7L1296.8 845.6L1298.9 837.6M1310.8 832.2L1311.7 828L1316.4 822.9L1319.9 815.4M1327.5 810.3L1331.9 805.2"/><path stroke="#e4cef3" d="M1331.9 805.2L1337.1 798.4L1343.7 795.2L1351.5 786.1L1358.1 783.5L1359.3 777.6L1363.2 775.1L1368.9 768.4L1373.2 765.8"/><path stroke="#e7d6f2" d="M1373.2 765.8L1377.4 762.3L1379.3 758L1384.9 754.4L1396.7 741.1L1425.4 712.9"/><path stroke="#eadff2" d="M1425.4 712.9L1488.8 649.5"/><path stroke="#ede7f1" d="M1488.8 649.5L1561.9 576.4"/><path stroke="#f0f0f0" d="M1561.9 576.4L1899.7 238.6"/><path stroke="#ede7f1" d="M1899.7 238.6L1904 234.3"/><path stroke="#eadff2" d="M1904 234.3L1905.8 232.5"/><path stroke="#e7d6f2" d="M1905.8 232.5L1907.8 230.5"/><path stroke="#e4cef3" d="M1907.8 230.5L1909.9 228.4"/><path stroke="#e1c5f4" d="M1909.9 228.4L1911.9 226.4"/><path stroke="#debdf4" d="M1911.9 226.4L1914 224.3"/><path stroke="#dbb4f5" d="M1914 224.3L1915.7 222.6"/><path stroke="#d8acf6" d="M1915.7 222.6L1917.6 220.7"/>
<path stroke="#eadff2" d="M1013.5 1076.7h0"/><path stroke="#e7d6f2" d="M1028.1 1057.4h0M1045.3 1043.5h0M1058 1030.3h0M1073 1016h0"/><path stroke="#eadff2" d="M1083.8 1005.2h0M1100.8 990.5h0M1116.7 978.9h0M1123.7 959.9h0"/><path stroke="#ede7f1" d="M1139.8 954.3h0M1153.4 937.9h0M1160.5 927.9h0M1171.9 917.5h0M1178.8 908.2h0M1188 901.3h0"/><path stroke="#eadff2" d="M1199.7 893.8h0M1207 884.1h0M1217.4 871.9h0"/><path stroke="#e7d6f2" d="M1217.4 871.9L1222.3 867.3M1230.9 859.5h0M1235.5 848.6h0M1243.7 845.3L1249.7 840.1L1253.1 834.3M1265.3 825.9L1269.4 821.8L1269.5 815.8L1276.2 813M1286.7 806.3L1296.2 793.3L1311.1 778.9L1317.1 774.7L1320.5 768.6L1330.5 760.8L1338.3 750.6M1344.2 743.7L1348.9 741.6L1355.9 732.2L1364.4 725.5L1367.5 721.5L1377.2 712.9L1386.4 702.3L1439 650.1"/><path stroke="#eadff2" d="M1439 650.1L1543.6 545.6"/><path stroke="#ede7f1" d="M1543.6 545.6L1839.1 250.1"/><path stroke="#eadff2" d="M1839.1 250.1L1845 244.1"/><path stroke="#e7d6f2" d="M1845 244.1L1846.9 242.3"/><path stroke="#e4cef3" d="M1846.9 242.3L1851.3 237.8"/><path stroke="#e1c5f4" d="M1851.3 237.8L1853.2 236"/><path stroke="#dbb4f5" d="M1853.2 236L1855.6 233.5"/><path stroke="#d5a3f7" d="M1855.6 233.5L1857.7 231.4"/><path stroke="#c981fa" d="M1857.7 231.4L1860.3 228.9"/><path stroke="#c067fc" d="M1860.3 228.9L1862.5 226.6"/><path stroke="#ba56fe" d="M1862.5 226.6L1864.2 224.9"/>
<path stroke="#cf92f8" d="M1088.2 1028.4h0"/><path stroke="#d29af8" d="M1098.4 1016h0M1108.2 1004.2h0M1124.2 1001.9h0M1126.8 987.7h0M1137.2 982.3h0"/><path stroke="#d5a3f7" d="M1144.6 972.7h0M1157.9 960h0"/><path stroke="#d8acf6" d="M1168 952.9h0M1177.9 942.7h0"/><path stroke="#dbb4f5" d="M1180.7 933.6h0"/><path stroke="#debdf4" d="M1188.2 927.6h0M1195.5 921.5h0"/><path stroke="#e1c5f4" d="M1203.1 917.5h0M1209.7 907.2h0"/><path stroke="#e4cef3" d="M1215.6 898.9h0"/><path stroke="#e7d6f2" d="M1224.2 889.9L1230 888"/><path stroke="#eadff2" d="M1230 888L1237.3 889.4M1241.3 876h0"/><path stroke="#ede7f1" d="M1249.6 868.7L1253.4 863.6"/><path stroke="#f0f0f0" d="M1253.4 863.6L1260.4 859.6M1267 850.4L1270.3 844.3L1278.5 842.4L1286.2 835M1289.1 827L1292 824.5M1300.3 818.4L1303.7 813.4L1313.4 805.2"/><path stroke="#ede7f1" d="M1313.4 805.2L1317 800.5L1322.5 798.5L1322.8 793.1L1338.5 781.1L1339.3 776.2L1349.9 768.6L1353.7 764.3L1354.7 760.9L1362.4 756.3L1378.7 740.7L1384.5 733.3L1399.3 719.4L1401 716.3L1404.3 714L1588.3 529.8"/><path stroke="#f0f0f0" d="M1588.3 529.8L1752.1 366"/><path stroke="#ede7f1" d="M1752.1 366L1758.8 359.3"/><path stroke="#f0f0f0" d="M1758.8 359.3L1829.1 289"/><path stroke="#ede7f1" d="M1829.1 289L1876.2 241.9"/><path stroke="#eadff2" d="M1876.2 241.9L1878.4 239.7"/><path stroke="#e7d6f2" d="M1878.4 239.7L1880.4 237.7"/><path stroke="#e4cef3" d="M1880.4 237.7L1882.6 235.4"/><path stroke="#e1c5f4" d="M1882.6 235.4L1885 233"/><path stroke="#debdf4" d="M1885 233L1887 231"/><path stroke="#dbb4f5" d="M1887 231L1889.3 228.8"/><path stroke="#d29af8" d="M1889.3 228.8L1891.5 226.5"/><path stroke="#cc89f9" d="M1891.5 226.5L1893.3 224.8"/><path stroke="#c678fa" d="M1893.3 224.8L1895.8 222.3"/>
<path stroke="#e4cef3" d="M1155.8 941h0"/><path stroke="#e7d6f2" d="M1155.8 941L1160.5 935.5"/><path stroke="#eadff2" d="M1175.2 915.4h0M1190 907.5h0"/><path stroke="#ede7f1" d="M1196 898.2h0M1210.8 888.8h0M1214.3 877.5h0M1223.6 867.9h0"/><path stroke="#eadff2" d="M1223.6 867.9L1230.3 867M1242.5 853.8h0"/><path stroke="#ede7f1" d="M1242.5 853.8L1246.7 849.7M1254.6 840.8h0M1264.2 833.1h0M1272.4 824.1h0M1280.3 816.9h0M1288 808.5L1293.4 803.2L1296.5 795.8M1308.1 786.7L1310.7 783.4"/><path stroke="#eadff2" d="M1310.7 783.4L1320.3 775.8M1325.3 768.2L1342 753.7L1351.4 740.9L1358.2 740.3L1361.2 733.9L1365.3 728.9L1370.3 725.6L1436.6 658.7"/><path stroke="#e7d6f2" d="M1436.6 658.7L1440 655.3"/><path stroke="#eadff2" d="M1440 655.3L1541.1 554.2"/><path stroke="#ede7f1" d="M1541.1 554.2L1637.1 458.2"/><path stroke="#f0f0f0" d="M1637.1 458.2L1714.5 380.8"/><path stroke="#ede7f1" d="M1714.5 380.8L1764.3 331"/><path stroke="#f0f0f0" d="M1764.3 331L1809.1 286.2"/><path stroke="#ede7f1" d="M1809.1 286.2L1848.8 246.5"/><path stroke="#eadff2" d="M1848.8 246.5L1850.7 244.6"/><path stroke="#e7d6f2" d="M1850.7 244.6L1855 240.3"/><path stroke="#e4cef3" d="M1855 240.3L1857.2 238.1"/><path stroke="#e1c5f4" d="M1857.2 238.1L1859.5 235.8"/><path stroke="#debdf4" d="M1859.5 235.8L1861.7 233.6"/><path stroke="#d5a3f7" d="M1861.7 233.6L1864 231.3"/><path stroke="#cc89f9" d="M1864 231.3L1866 229.4"/><path stroke="#c370fb" d="M1866 229.4L1868.1 227.2"/><path stroke="#bd5ffd" d="M1868.1 227.2L1869.9 225.4"/>
<path stroke="#cf92f8" d="M1040.1 1080.1h0"/><path stroke="#d29af8" d="M1047.4 1062h0M1071.2 1043.3h0M1090.8 1025.3h0M1102.2 1017.6h0M1117.7 993.6h0"/><path stroke="#d5a3f7" d="M1132.1 985.1h0M1145.9 970.2h0"/><path stroke="#d8acf6" d="M1165.1 955.3h0"/><path stroke="#dbb4f5" d="M1179.5 941.8h0"/><path stroke="#debdf4" d="M1179.5 941.8L1181.3 934.8M1200.8 919.5h0"/><path stroke="#e1c5f4" d="M1208.7 915h0"/><path stroke="#e4cef3" d="M1214.2 900.2h0"/><path stroke="#e7d6f2" d="M1234.5 890.9h0"/><path stroke="#eadff2" d="M1236.8 881.4h0"/><path stroke="#ede7f1" d="M1241 867.7h0"/><path stroke="#f0f0f0" d="M1252.3 867.5h0M1263.6 854.2h0M1272.3 848.6h0M1276.8 837.7h0M1287.5 835.1h0M1292.9 826.9h0M1298.7 818.7L1301.1 815.4M1308.1 806.8L1314.8 805.1M1321.7 794L1327.6 792.2L1330.4 785.4"/><path stroke="#ede7f1" d="M1330.4 785.4L1336.2 780.9M1344.6 776L1351.3 763L1357.1 761.3L1363 750.8L1369.4 748.5L1372.9 743.7L1378.1 740.4L1386.5 730.4L1395.8 722.3L1403.5 713.4L1556.9 560.3"/><path stroke="#f0f0f0" d="M1556.9 560.3L1863.5 253.7"/><path stroke="#ede7f1" d="M1863.5 253.7L1875.1 242.1"/><path stroke="#eadff2" d="M1875.1 242.1L1877.2 239.9"/><path stroke="#e7d6f2" d="M1877.2 239.9L1881.6 235.5"/><path stroke="#e4cef3" d="M1881.6 235.5L1883.5 233.6"/><path stroke="#e1c5f4" d="M1883.5 233.6L1885.5 231.7"/><path stroke="#dbb4f5" d="M1885.5 231.7L1887.3 229.8"/><path stroke="#d8acf6" d="M1887.3 229.8L1889.3 227.9"/><path stroke="#cf92f8" d="M1889.3 227.9L1891.4 225.7"/><path stroke="#c981fa" d="M1891.4 225.7L1893.6 223.5"/>
<path stroke="#e7d6f2" d="M1351.8 731.8L1356.4 725.6L1362.8 723.6L1370.3 713.5"/><path stroke="#eadff2" d="M1370.3 713.5L1384.1 699.7L1390.9 694.4L1397.2 686.8L1535.4 549.1"/><path stroke="#ede7f1" d="M1535.4 549.1L1611.7 472.8"/><path stroke="#f0f0f0" d="M1611.7 472.8L1817.2 267.3"/><path stroke="#ede7f1" d="M1817.2 267.3L1835.8 248.6"/><path stroke="#eadff2" d="M1835.8 248.6L1840.2 244.3"/><path stroke="#e7d6f2" d="M1840.2 244.3L1844.2 240.3"/><path stroke="#e4cef3" d="M1844.2 240.3L1846.4 238.1"/><path stroke="#e1c5f4" d="M1846.4 238.1L1848.6 235.8"/><path stroke="#dbb4f5" d="M1848.6 235.8L1851 233.5"/><path stroke="#d29af8" d="M1851 233.5L1853.4 231.1"/><path stroke="#cc89f9" d="M1853.4 231.1L1855.1 229.4"/><path stroke="#c370fb" d="M1855.1 229.4L1857 227.4"/><path stroke="#bd5ffd" d="M1857 227.4L1858.9 225.6"/>
<path stroke="#d29af8" d="M1074.6 1043.5h0M1086.9 1032.9h0M1096.8 1019.9h0M1114.7 1003.9h0"/><path stroke="#d5a3f7" d="M1129.8 993h0M1139.4 974.7h0M1153.2 963.9h0"/><path stroke="#d8acf6" d="M1160.8 956.9h0"/><path stroke="#dbb4f5" d="M1171.8 945.7h0M1186 935.6h0"/><path stroke="#debdf4" d="M1187.3 922.7h0"/><path stroke="#e1c5f4" d="M1202.8 914.4h0"/><path stroke="#e4cef3" d="M1207.5 907.2h0M1217.9 898.4h0"/><path stroke="#e7d6f2" d="M1230.3 889.9h0"/><path stroke="#eadff2" d="M1236 881.9L1237.7 877.1"/><path stroke="#ede7f1" d="M1249.2 866.7h0"/><path stroke="#f0f0f0" d="M1249.2 866.7L1253.3 864.5M1266 856.2h0M1266.1 846.5h0M1275.6 841.1L1285.3 832.4L1295.5 821.3L1301.2 816.9M1306 808.7h0M1314.4 803.2L1324.6 793.7L1344.6 770.4"/><path stroke="#ede7f1" d="M1344.6 770.4L1362.2 755.7L1399.1 718.5L1401.4 714.9L1409.4 708.2L1551.7 565.1"/><path stroke="#f0f0f0" d="M1551.7 565.1L1864.9 251.9"/><path stroke="#ede7f1" d="M1864.9 251.9L1875.5 241.3"/><path stroke="#eadff2" d="M1875.5 241.3L1877.2 239.6"/><path stroke="#e7d6f2" d="M1877.2 239.6L1879.5 237.3"/><path stroke="#e4cef3" d="M1879.5 237.3L1881.8 235"/><path stroke="#e1c5f4" d="M1881.8 235L1883.8 233"/><path stroke="#debdf4" d="M1883.8 233L1885.6 231.2"/><path stroke="#dbb4f5" d="M1885.6 231.2L1887.7 229.1"/><path stroke="#d5a3f7" d="M1887.7 229.1L1889.4 227.4"/><path stroke="#cc89f9" d="M1889.4 227.4L1891.9 224.9"/><path stroke="#c981fa" d="M1891.9 224.9L1893.9 222.9"/>
<path stroke="#ede7f1" d="M1202.7 894.2h0M1208.1 885.4h0M1218.2 878.1h0"/><path stroke="#f0f0f0" d="M1226.1 867.5h0M1237.7 859.2h0M1247.8 847.9h0M1256.3 846.9h0M1257.9 837.1h0M1270.4 828.9L1273.6 822.5L1278.4 818.6M1286.3 807h0"/><path stroke="#ede7f1" d="M1286.3 807L1293 802.4L1300 800.6M1305.6 793.4h0M1311.6 786.2L1331.2 767.4M1338.1 762.1L1340.7 754.7L1347.5 751.8L1355.4 740.6L1361.8 735.2L1367.9 732.4L1370.9 727.6L1375.3 724.1L1382 715.6L1406.2 692.2"/><path stroke="#eadff2" d="M1406.2 692.2L1472.4 625.8"/><path stroke="#ede7f1" d="M1472.4 625.8L1567.8 530.3"/><path stroke="#f0f0f0" d="M1567.8 530.3L1839.6 258.6"/><path stroke="#ede7f1" d="M1839.6 258.6L1853.4 244.7"/><path stroke="#eadff2" d="M1853.4 244.7L1855.2 243"/><path stroke="#e7d6f2" d="M1855.2 243L1859.9 238.3"/><path stroke="#e4cef3" d="M1859.9 238.3L1862 236.1"/><path stroke="#e1c5f4" d="M1862 236.1L1864.3 233.8"/><path stroke="#dbb4f5" d="M1864.3 233.8L1866.4 231.7"/><path stroke="#d29af8" d="M1866.4 231.7L1868.6 229.6"/><path stroke="#c981fa" d="M1868.6 229.6L1871 227.1"/><path stroke="#c067fc" d="M1871 227.1L1872.8 225.4"/><path stroke="#ba56fe" d="M1872.8 225.4L1874.5 223.7"/>
<path stroke="#dbb4f5" d="M1088.1 1037.6h0M1097.5 1017.1h0"/><path stroke="#debdf4" d="M1118.9 1002.9h0M1133.9 989.2h0M1143.5 974.4h0M1156.4 963.3h0"/><path stroke="#e1c5f4" d="M1171.8 953.6h0M1185.6 935.5h0"/><path stroke="#e4cef3" d="M1198.1 931h0"/><path stroke="#e7d6f2" d="M1205.1 914.3h0M1215.1 906h0"/><path stroke="#eadff2" d="M1224.7 894.9h0"/><path stroke="#ede7f1" d="M1236.5 884.1h0M1244.6 877.4h0"/><path stroke="#f0f0f0" d="M1251.8 869.8h0M1259.7 856h0M1270.8 854.4h0M1276.4 844.5h0M1284.2 837.4L1287.6 830.7M1296.1 822.9h0M1304.4 817L1307.9 811.5M1315.5 805.6h0M1322.2 796.3h0M1330.3 792.1h0M1335.1 784.2L1340.6 781.1M1345.1 772.7L1351.8 771.6L1353.9 766.1M1361.2 759.7L1375.2 747.1L1395.3 725L1409.2 712.4L1443.4 677.8"/><path stroke="#ede7f1" d="M1443.4 677.8L1460.7 660.6"/><path stroke="#f0f0f0" d="M1460.7 660.6L1878.4 242.9"/><path stroke="#ede7f1" d="M1878.4 242.9L1882.7 238.6"/><path stroke="#eadff2" d="M1882.7 238.6L1885.1 236.2"/><path stroke="#e7d6f2" d="M1885.1 236.2L1887.2 234"/><path stroke="#e4cef3" d="M1887.2 234L1889.7 231.6"/><path stroke="#e1c5f4" d="M1889.7 231.6L1891.6 229.7"/><path stroke="#debdf4" d="M1891.6 229.7L1893.7 227.6"/><path stroke="#d5a3f7" d="M1893.7 227.6L1896.2 225.1"/><path stroke="#cf92f8" d="M1896.2 225.1L1898.5 222.7"/>
<path stroke="#d8acf6" d="M1024.5 1082.9h0M1038.4 1068.6h0"/><path stroke="#dbb4f5" d="M1054.6 1048.9h0"/><path stroke="#debdf4" d="M1072.6 1030.9h0M1084.5 1019.1h0"/><path stroke="#d8acf6" d="M1102.8 1000.8h0"/><path stroke="#d5a3f7" d="M1113.1 993.1h0"/><path stroke="#cf92f8" d="M1129.4 979.4h0"/><path stroke="#cc89f9" d="M1145.9 955.3h0"/><path stroke="#d29af8" d="M1155.2 951.6h0"/><path stroke="#d5a3f7" d="M1163.7 941.8h0"/><path stroke="#dbb4f5" d="M1181.1 924h0"/><path stroke="#debdf4" d="M1190.9 916.1h0"/><path stroke="#e1c5f4" d="M1197.5 908.2h0"/><path stroke="#e7d6f2" d="M1208.5 895.6h0"/><path stroke="#eadff2" d="M1208 885.3h0M1223.6 881.8h0"/><path stroke="#ede7f1" d="M1231.5 871.2h0"/><path stroke="#f0f0f0" d="M1240.6 862.3L1243.9 858.2M1253.8 848.7h0M1259.8 839.2h0M1270.1 835.9L1275.7 830.6L1278.4 824.4M1284.6 817.1L1287.6 817.1M1297.4 804.7L1307.1 799.7L1311.3 792.3M1318.9 786.7L1318.3 782.1"/><path stroke="#ede7f1" d="M1326.2 778.6h0M1330.9 769.8L1337.5 767.3L1341.2 761.9L1347.4 758.7L1356.3 747.7L1359.3 742L1365.4 739.2L1368.2 735L1373.5 731.6L1379.4 723.7L1386.2 718.1L1411.6 692.4"/><path stroke="#eadff2" d="M1411.6 692.4L1546.4 557.4"/><path stroke="#ede7f1" d="M1546.4 557.4L1559.1 544.7"/><path stroke="#f0f0f0" d="M1559.1 544.7L1851.9 251.9"/><path stroke="#ede7f1" d="M1851.9 251.9L1860.6 243.3"/><path stroke="#eadff2" d="M1860.6 243.3L1862.7 241.2"/><path stroke="#e7d6f2" d="M1862.7 241.2L1866.3 237.6"/><path stroke="#e4cef3" d="M1866.3 237.6L1868.1 235.7"/><path stroke="#e1c5f4" d="M1868.1 235.7L1870 233.8"/><path stroke="#dbb4f5" d="M1870 233.8L1871.7 232.1"/><path stroke="#d5a3f7" d="M1871.7 232.1L1873.8 230"/><path stroke="#c981fa" d="M1873.8 230L1876.3 227.5"/><path stroke="#bd5ffd" d="M1876.3 227.5L1878.9 225"/>
<path stroke="#e1c5f4" d="M1203.7 902.8h0"/><path stroke="#e4cef3" d="M1216.4 893.2h0"/><path stroke="#e7d6f2" d="M1219.5 883.5h0"/><path stroke="#eadff2" d="M1219.5 883.5L1223.9 877.9"/><path stroke="#ede7f1" d="M1237.3 867.1L1241.3 863.8"/><path stroke="#f0f0f0" d="M1248.5 858.8h0M1254.9 850.1L1258.6 844.7L1264.6 843.3M1272.5 834.5L1275.8 830.1M1286.1 824.5L1287.6 818.9M1295.3 813.5h0M1299.3 805.6L1302.5 804.7L1306.4 799.4L1317.4 789.9L1321.2 783"/><path stroke="#ede7f1" d="M1321.2 783L1327.5 780.2L1335.3 772.5L1337.6 768.5L1341.7 765.5L1345 760.6L1350.7 756.6L1351.9 752.9L1357.5 750L1367.8 740.1L1375.8 732.3L1377.6 728.5L1413.8 692.7"/><path stroke="#eadff2" d="M1413.8 692.7L1546.8 559.8"/><path stroke="#ede7f1" d="M1546.8 559.8L1562.3 544.3"/><path stroke="#f0f0f0" d="M1562.3 544.3L1854.8 251.7"/><path stroke="#ede7f1" d="M1854.8 251.7L1863.6 243"/><path stroke="#eadff2" d="M1863.6 243L1865.7 240.9"/><path stroke="#e7d6f2" d="M1865.7 240.9L1869.2 237.4"/><path stroke="#e4cef3" d="M1869.2 237.4L1871.6 235"/><path stroke="#debdf4" d="M1871.6 235L1873.4 233.2"/><path stroke="#d8acf6" d="M1873.4 233.2L1875.9 230.6"/><path stroke="#cf92f8" d="M1875.9 230.6L1878 228.6"/><path stroke="#c678fa" d="M1878 228.6L1880.4 226.2"/><path stroke="#bd5ffd" d="M1880.4 226.2L1882.5 224"/>
<path stroke="#f0f0f0" d="M1262.3 854.9h0M1263.8 845.4h0M1270.6 839.3h0M1277.8 830.8h0M1288.4 827.2L1292.6 821.2M1298.3 811.6h0M1308.1 810.3h0M1311.8 801.8h0M1318.2 795.5L1336.8 775.4M1341.7 768.2L1345.4 766.6M1351.8 760.1L1362.1 751.2L1364.2 745.6L1371.4 741.9L1374 737.7L1393.5 720.1L1397.1 715"/><path stroke="#ede7f1" d="M1397.1 715L1549.2 563.4"/><path stroke="#f0f0f0" d="M1549.2 563.4L1868.4 244.2"/><path stroke="#ede7f1" d="M1868.4 244.2L1870.2 242.4"/><path stroke="#eadff2" d="M1870.2 242.4L1874.9 237.7"/><path stroke="#e7d6f2" d="M1874.9 237.7L1876.7 235.9"/><path stroke="#e4cef3" d="M1876.7 235.9L1878.7 233.9"/><path stroke="#debdf4" d="M1878.7 233.9L1881.2 231.4"/><path stroke="#d8acf6" d="M1881.2 231.4L1883.7 228.9"/><path stroke="#d29af8" d="M1883.7 228.9L1885.5 227.1"/><path stroke="#cc89f9" d="M1885.5 227.1L1887.6 225"/><path stroke="#c678fa" d="M1887.6 225L1889.4 223.2"/>
<path stroke="#cf92f8" d="M1066 1053.3h0M1078.6 1033.5h0M1094.4 1022.4h0M1109.5 1010.1h0M1127.8 988.1h0"/><path stroke="#d29af8" d="M1143.1 975.2h0M1149.5 957.6h0"/><path stroke="#d5a3f7" d="M1171.7 946.4h0"/><path stroke="#d8acf6" d="M1179.9 937.2h0"/><path stroke="#dbb4f5" d="M1192 926.9h0"/><path stroke="#debdf4" d="M1203.8 913.1h0"/><path stroke="#e1c5f4" d="M1210.6 906.2h0"/><path stroke="#e4cef3" d="M1224.1 892.7h0"/><path stroke="#e7d6f2" d="M1234.8 882.3h0"/><path stroke="#eadff2" d="M1242.2 869.5h0"/><path stroke="#ede7f1" d="M1251.2 864.1h0M1259.6 856.6h0M1268.9 846.4h0M1277.7 844.3L1281.9 837.6M1290.2 825.8L1296.3 823.6M1301.6 815.1L1310.7 808.4M1318.2 799.7L1322.2 794.6L1327.1 793.2M1332.6 785.3L1342.2 773.9L1351.3 765.5M1358.1 758.6L1362.8 753.9L1367.5 751.4L1376.5 740.4L1382 736.3L1394.6 723.3"/><path stroke="#eadff2" d="M1394.6 723.3L1401.3 715.5L1551.7 565.6"/><path stroke="#ede7f1" d="M1551.7 565.6L1871.5 245.8"/><path stroke="#eadff2" d="M1871.5 245.8L1877.7 239.6"/><path stroke="#e7d6f2" d="M1877.7 239.6L1879.5 237.8"/><path stroke="#e4cef3" d="M1879.5 237.8L1881.5 235.8"/><path stroke="#e1c5f4" d="M1881.5 235.8L1883.8 233.5"/><path stroke="#debdf4" d="M1883.8 233.5L1885.7 231.6"/><path stroke="#dbb4f5" d="M1885.7 231.6L1887.7 229.5"/><path stroke="#d29af8" d="M1887.7 229.5L1890 227.3"/><path stroke="#cc89f9" d="M1890 227.3L1891.9 225.4"/><path stroke="#c678fa" d="M1891.9 225.4L1894.2 223.1"/>
<circle r="8" cx="1623.5" cy="342.6" fill="#d8acf6"/><circle r="8" cx="1681.1" cy="311.7" fill="#ebe1f1"/><circle r="8" cx="1615" cy="341.4" fill="#d7a9f6"/><circle r="8" cx="1760.2" cy="259.4" fill="#e0c3f4"/><circle r="8" cx="1731" cy="286.2" fill="#ddb9f5"/><circle r="8" cx="1722.6" cy="279.5" fill="#d8acf6"/><circle r="8" cx="1614.4" cy="339.7" fill="#cf93f8"/><circle r="8" cx="1771.2" cy="261.1" fill="#dfc0f4"/><circle r="8" cx="1763.6" cy="279.9" fill="#e5d0f3"/><circle r="8" cx="1668.3" cy="294.5" fill="#dcb7f5"/><circle r="8" cx="1771.3" cy="279.8" fill="#e4ccf3"/><circle r="8" cx="1625.1" cy="319.7" fill="#eadef2"/><circle r="8" cx="1621.5" cy="361.9" fill="#eadff1"/><circle r="8" cx="1690.8" cy="301.2" fill="#dfbef4"/><circle r="8" cx="1707.2" cy="307.2" fill="#ece3f1"/><circle r="8" cx="1736.9" cy="269.7" fill="#d9aef6"/><circle r="8" cx="1710.4" cy="296.4" fill="#e0c3f4"/><circle r="8" cx="1692" cy="316.3" fill="#ebe3f1"/><circle r="8" cx="1687" cy="308.9" fill="#dab1f6"/><circle r="8" cx="1685.5" cy="305" fill="#d29bf7"/><circle r="8" cx="1609.1" cy="317" fill="#e4cff3"/><circle r="8" cx="1744.8" cy="264.4" fill="#dfbff4"/><circle r="8" cx="1707.9" cy="283.3" fill="#eae0f1"/><circle r="8" cx="1684.3" cy="296.7" fill="#e7d7f2"/><circle r="8" cx="1659.3" cy="292.4" fill="#e6d4f2"/><circle r="8" cx="1708.6" cy="305" fill="#e1c6f4"/><circle r="8" cx="1751.2" cy="251.4" fill="#cc89f9"/><circle r="8" cx="1673.8" cy="318.4" fill="#ebe1f1"/><circle r="8" cx="1669.7" cy="322.1" fill="#d9b0f6"/><circle r="8" cx="1711.9" cy="292" fill="#dab2f5"/><circle r="8" cx="1689.6" cy="323.6" fill="#ece3f1"/><circle r="8" cx="1742.6" cy="263.3" fill="#debcf5"/><circle r="8" cx="1617.8" cy="342.2" fill="#d196f8"/><circle r="8" cx="1659.4" cy="294.6" fill="#e6d5f2"/><circle r="8" cx="1679.3" cy="332.3" fill="#e9dcf2"/><circle r="8" cx="1717" cy="291.9" fill="#e0c4f4"/><circle r="8" cx="1621.2" cy="308.6" fill="#cc89f9"/><circle r="8" cx="1656.5" cy="291.6" fill="#d9aff6"/><circle r="8" cx="1623.3" cy="363.8" fill="#e7d6f2"/><circle r="8" cx="1601.1" cy="335.8" fill="#d9b0f6"/><circle r="8" cx="1728.3" cy="290" fill="#e2c8f4"/><circle r="8" cx="1626.6" cy="358" fill="#cf93f8"/><circle r="8" cx="1731" cy="284.5" fill="#d6a6f6"/><circle r="8" cx="1730.6" cy="258.4" fill="#e7d7f2"/><circle r="8" cx="1747.3" cy="296.4" fill="#ece6f1"/><circle r="8" cx="1613.5" cy="348.8" fill="#d095f8"/><circle r="8" cx="1754.6" cy="282.4" fill="#e3cbf3"/><circle r="8" cx="1655.8" cy="292.9" fill="#cc89f9"/><circle r="8" cx="1607.3" cy="360.4" fill="#d5a3f7"/><circle r="8" cx="1726.4" cy="272.8" fill="#d6a6f7"/><circle r="8" cx="1635.8" cy="329.8" fill="#eae0f1"/><circle r="8" cx="1671.1" cy="324.9" fill="#e0c1f4"/><circle r="8" cx="1709.9" cy="274.7" fill="#eadef2"/><circle r="8" cx="1669.3" cy="323.9" fill="#ebe2f1"/><circle r="8" cx="1732.8" cy="277.6" fill="#dfc1f4"/><circle r="8" cx="1656.5" cy="319.2" fill="#debcf5"/><circle r="8" cx="1698.3" cy="304.6" fill="#e0c1f4"/><circle r="8" cx="1675" cy="304.5" fill="#e7d8f2"/><circle r="8" cx="1688.2" cy="273.6" fill="#e7d5f2"/><circle r="8" cx="1698" cy="286" fill="#eae0f1"/><circle r="8" cx="1605.5" cy="348.2" fill="#d7a9f6"/><circle r="8" cx="1748.2" cy="255.5" fill="#e7d5f2"/><circle r="8" cx="1701.4" cy="301" fill="#d4a0f7"/><circle r="8" cx="1602.9" cy="339" fill="#eadef2"/><circle r="8" cx="1648.9" cy="312.6" fill="#ddb9f5"/><circle r="8" cx="1666" cy="321.9" fill="#ebe1f1"/><circle r="8" cx="1700.1" cy="271.1" fill="#e7d6f2"/><circle r="8" cx="1665.6" cy="314.6" fill="#d196f8"/><circle r="8" cx="1712.4" cy="279.2" fill="#ddb9f5"/><circle r="8" cx="1708.9" cy="303.9" fill="#e1c6f4"/>
<g stroke-width="6.5"><path stroke="#dbb4f5" d="M1643.1 294.7L1649.6 288.4L1652.7 287.3"/><path stroke="#d8acf6" d="M1652.7 287.3L1705.2 276.2L1719.7 265.2L1725.9 262.9"/><path stroke="#dbb4f5" d="M1725.9 262.9L1741.7 257.5L1767.4 253.5"/><path stroke="#debdf4" d="M1767.4 253.5L1801.3 249.2"/><path stroke="#e1c5f4" d="M1801.3 249.2L1871.3 242.8"/><path stroke="#e4cef3" d="M1871.3 242.8L1886.8 241.4"/><path stroke="#e7d6f2" d="M1886.8 241.4L1902.4 240"/><path stroke="#eadff2" d="M1902.4 240L1925.5 237.6"/><path stroke="#ede7f1" d="M1925.5 237.6L1949.5 231.9L1969.8 231L1993.3 233.3"/><path stroke="#d8acf6" d="M1643.1 290.7L1647.5 286.5"/><path stroke="#d5a3f7" d="M1647.5 286.5L1649.6 284.4L1652.7 283.3L1676.9 277.8"/><path stroke="#d29af8" d="M1676.9 277.8L1705.2 272.2L1719.7 261.2L1741.7 253.5L1748.9 252.2"/><path stroke="#d5a3f7" d="M1748.9 252.2L1774.9 248.4"/><path stroke="#d8acf6" d="M1774.9 248.4L1801.3 245.2"/><path stroke="#dbb4f5" d="M1801.3 245.2L1875.2 238.4"/><path stroke="#debdf4" d="M1875.2 238.4L1886.8 237.4"/><path stroke="#e1c5f4" d="M1886.8 237.4L1898.5 236.3"/><path stroke="#e4cef3" d="M1898.5 236.3L1914 234.9"/><path stroke="#e7d6f2" d="M1914 234.9L1925.5 233.6"/><path stroke="#eadff2" d="M1925.5 233.6L1938.9 230.1"/><path stroke="#ede7f1" d="M1938.9 230.1L1949.5 227.9L1969.8 227L1993.3 229.3"/><path stroke="#d5a3f7" d="M1643.1 286.7L1645.4 284.6"/><path stroke="#d29af8" d="M1645.4 284.6L1649.6 280.4"/><path stroke="#cf92f8" d="M1649.6 280.4L1666.3 275.9"/><path stroke="#cc89f9" d="M1666.3 275.9L1691.1 271"/><path stroke="#c981fa" d="M1691.1 271L1705.2 268.2L1710.2 264.7"/><path stroke="#c678fa" d="M1710.2 264.7L1719.7 257.2"/><path stroke="#c370fb" d="M1719.7 257.2L1729.1 253.8"/><path stroke="#c678fa" d="M1729.1 253.8L1745.2 248.7"/><path stroke="#c981fa" d="M1745.2 248.7L1767.4 245.5"/><path stroke="#cc89f9" d="M1767.4 245.5L1793.7 242.1"/><path stroke="#cf92f8" d="M1793.7 242.1L1875.2 234.4"/><path stroke="#d29af8" d="M1875.2 234.4L1882.9 233.7"/><path stroke="#d5a3f7" d="M1882.9 233.7L1890.7 233"/><path stroke="#d8acf6" d="M1890.7 233L1898.5 232.3"/><path stroke="#dbb4f5" d="M1898.5 232.3L1906.3 231.6"/><path stroke="#debdf4" d="M1906.3 231.6L1914 230.9"/><path stroke="#e1c5f4" d="M1914 230.9L1921.8 230.2"/><path stroke="#e4cef3" d="M1921.8 230.2L1928.8 228.7"/><path stroke="#e7d6f2" d="M1928.8 228.7L1938.9 226.1"/><path stroke="#eadff2" d="M1938.9 226.1L1945.7 224.3"/><path stroke="#ede7f1" d="M1945.7 224.3L1969.8 223L1993.3 225.3"/><path stroke="#d29af8" d="M1643.1 282.7h0"/><path stroke="#cf92f8" d="M1643.1 282.7L1647.5 278.5"/><path stroke="#cc89f9" d="M1647.5 278.5L1649.6 276.4L1652.7 275.3"/><path stroke="#c981fa" d="M1652.7 275.3L1659.5 273.6"/><path stroke="#c678fa" d="M1659.5 273.6L1669.9 271.2"/><path stroke="#c370fb" d="M1669.9 271.2L1676.9 269.8"/><path stroke="#c067fc" d="M1676.9 269.8L1687.5 267.7"/><path stroke="#bd5ffd" d="M1687.5 267.7L1698.2 265.6"/><path stroke="#ba56fe" d="M1698.2 265.6L1705.2 264.2"/><path stroke="#b74efe" d="M1705.2 264.2L1712.6 258.8"/><path stroke="#b445ff" d="M1712.6 258.8L1719.7 253.2"/><path stroke="#af43f6" d="M1719.7 253.2L1729.1 249.8"/><path stroke="#b445ff" d="M1729.1 249.8L1741.7 245.5"/><path stroke="#b74efe" d="M1741.7 245.5L1756.3 243.1"/><path stroke="#ba56fe" d="M1756.3 243.1L1767.4 241.5"/><path stroke="#bd5ffd" d="M1767.4 241.5L1782.3 239.4"/><path stroke="#c067fc" d="M1782.3 239.4L1843.8 233"/><path stroke="#c370fb" d="M1843.8 233L1875.2 230.4"/><path stroke="#c678fa" d="M1875.2 230.4L1882.9 229.7"/><path stroke="#c981fa" d="M1882.9 229.7L1886.8 229.4"/><path stroke="#cc89f9" d="M1886.8 229.4L1894.6 228.7"/><path stroke="#cf92f8" d="M1894.6 228.7L1898.5 228.3"/><path stroke="#d29af8" d="M1898.5 228.3L1902.4 228"/><path stroke="#d5a3f7" d="M1902.4 228L1910.2 227.3"/><path stroke="#d8acf6" d="M1910.2 227.3L1914 226.9"/><path stroke="#dbb4f5" d="M1914 226.9L1921.8 226.2"/><path stroke="#debdf4" d="M1921.8 226.2L1925.5 225.6"/><path stroke="#e1c5f4" d="M1925.5 225.6L1932.2 223.9"/><path stroke="#e4cef3" d="M1932.2 223.9L1938.9 222.1"/><path stroke="#e7d6f2" d="M1938.9 222.1L1942.3 221.2"/><path stroke="#eadff2" d="M1942.3 221.2L1949.5 219.9"/><path stroke="#ede7f1" d="M1949.5 219.9L1969.8 219L1993.3 221.3"/><path stroke="#c981fa" d="M1643.1 278.7L1645.4 276.6"/><path stroke="#c678fa" d="M1645.4 276.6L1649.6 272.4"/><path stroke="#c370fb" d="M1649.6 272.4L1652.7 271.3"/><path stroke="#c067fc" d="M1652.7 271.3L1659.5 269.6"/><path stroke="#bd5ffd" d="M1659.5 269.6L1666.3 267.9"/><path stroke="#ba56fe" d="M1666.3 267.9L1673.4 266.5"/><path stroke="#b74efe" d="M1673.4 266.5L1680.5 265.1"/><path stroke="#b445ff" d="M1680.5 265.1L1691.1 263"/><path stroke="#af43f6" d="M1691.1 263L1698.2 261.6"/><path stroke="#a940ee" d="M1698.2 261.6L1705.2 260.2"/><path stroke="#a43ee5" d="M1705.2 260.2L1710.2 256.7"/><path stroke="#9f3bdc" d="M1710.2 256.7L1717.4 251.1"/><path stroke="#9a39d4" d="M1717.4 251.1L1719.7 249.2L1735.4 243.6"/><path stroke="#9f3bdc" d="M1735.4 243.6L1745.2 240.7"/><path stroke="#a43ee5" d="M1745.2 240.7L1756.3 239.1"/><path stroke="#a940ee" d="M1756.3 239.1L1767.4 237.5"/><path stroke="#af43f6" d="M1767.4 237.5L1778.6 235.9"/><path stroke="#b445ff" d="M1778.6 235.9L1812.8 232"/><path stroke="#b74efe" d="M1812.8 232L1867.4 227.1"/><path stroke="#ba56fe" d="M1867.4 227.1L1879 226.1"/><path stroke="#bd5ffd" d="M1879 226.1L1882.9 225.7"/><path stroke="#c067fc" d="M1882.9 225.7L1886.8 225.4"/><path stroke="#c370fb" d="M1886.8 225.4L1890.7 225"/><path stroke="#c678fa" d="M1890.7 225L1894.6 224.7"/><path stroke="#c981fa" d="M1894.6 224.7L1898.5 224.3"/><path stroke="#cc89f9" d="M1898.5 224.3L1902.4 224"/><path stroke="#cf92f8" d="M1902.4 224L1910.2 223.3"/><path stroke="#d29af8" d="M1910.2 223.3L1914 222.9"/><path stroke="#d5a3f7" d="M1914 222.9L1917.9 222.6"/><path stroke="#d8acf6" d="M1917.9 222.6L1921.8 222.2"/><path stroke="#dbb4f5" d="M1921.8 222.2L1928.8 220.7"/><path stroke="#debdf4" d="M1928.8 220.7L1932.2 219.9"/><path stroke="#e1c5f4" d="M1932.2 219.9L1935.6 219"/><path stroke="#e4cef3" d="M1935.6 219L1942.3 217.2"/><path stroke="#e7d6f2" d="M1942.3 217.2L1945.7 216.3"/><path stroke="#eadff2" d="M1945.7 216.3L1961.7 215.4"/><path stroke="#ede7f1" d="M1961.7 215.4L1969.8 215L1993.3 217.3"/><path stroke="#c981fa" d="M1643.1 274.7L1645.4 272.6"/><path stroke="#c678fa" d="M1645.4 272.6L1649.6 268.4"/><path stroke="#c370fb" d="M1649.6 268.4L1652.7 267.3"/><path stroke="#c067fc" d="M1652.7 267.3L1659.5 265.6"/><path stroke="#bd5ffd" d="M1659.5 265.6L1666.3 263.9"/><path stroke="#ba56fe" d="M1666.3 263.9L1673.4 262.5"/><path stroke="#b74efe" d="M1673.4 262.5L1680.5 261.1"/><path stroke="#b445ff" d="M1680.5 261.1L1691.1 259"/><path stroke="#af43f6" d="M1691.1 259L1698.2 257.6"/><path stroke="#a940ee" d="M1698.2 257.6L1705.2 256.2"/><path stroke="#a43ee5" d="M1705.2 256.2L1710.2 252.7"/><path stroke="#9f3bdc" d="M1710.2 252.7L1717.4 247.1"/><path stroke="#9a39d4" d="M1717.4 247.1L1719.7 245.2L1735.4 239.6"/><path stroke="#9f3bdc" d="M1735.4 239.6L1745.2 236.7"/><path stroke="#a43ee5" d="M1745.2 236.7L1756.3 235.1"/><path stroke="#a940ee" d="M1756.3 235.1L1767.4 233.5"/><path stroke="#af43f6" d="M1767.4 233.5L1778.6 231.9"/><path stroke="#b445ff" d="M1778.6 231.9L1812.8 228"/><path stroke="#b74efe" d="M1812.8 228L1867.4 223.1"/><path stroke="#ba56fe" d="M1867.4 223.1L1879 222.1"/><path stroke="#bd5ffd" d="M1879 222.1L1882.9 221.7"/><path stroke="#c067fc" d="M1882.9 221.7L1886.8 221.4"/><path stroke="#c370fb" d="M1886.8 221.4L1890.7 221"/><path stroke="#c678fa" d="M1890.7 221L1894.6 220.7"/><path stroke="#c981fa" d="M1894.6 220.7L1898.5 220.3"/><path stroke="#cc89f9" d="M1898.5 220.3L1902.4 220"/><path stroke="#cf92f8" d="M1902.4 220L1910.2 219.3"/><path stroke="#d29af8" d="M1910.2 219.3L1914 218.9"/><path stroke="#d5a3f7" d="M1914 218.9L1917.9 218.6"/><path stroke="#d8acf6" d="M1917.9 218.6L1921.8 218.2"/><path stroke="#dbb4f5" d="M1921.8 218.2L1928.8 216.7"/><path stroke="#debdf4" d="M1928.8 216.7L1932.2 215.9"/><path stroke="#e1c5f4" d="M1932.2 215.9L1935.6 215"/><path stroke="#e4cef3" d="M1935.6 215L1942.3 213.2"/><path stroke="#e7d6f2" d="M1942.3 213.2L1945.7 212.3"/><path stroke="#eadff2" d="M1945.7 212.3L1961.7 211.4"/><path stroke="#ede7f1" d="M1961.7 211.4L1969.8 211L1993.3 213.3"/><path stroke="#c981fa" d="M1643.1 270.7L1645.4 268.6"/><path stroke="#c678fa" d="M1645.4 268.6L1649.6 264.4"/><path stroke="#c370fb" d="M1649.6 264.4L1652.7 263.3"/><path stroke="#c067fc" d="M1652.7 263.3L1659.5 261.6"/><path stroke="#bd5ffd" d="M1659.5 261.6L1666.3 259.9"/><path stroke="#ba56fe" d="M1666.3 259.9L1673.4 258.5"/><path stroke="#b74efe" d="M1673.4 258.5L1680.5 257.1"/><path stroke="#b445ff" d="M1680.5 257.1L1691.1 255"/><path stroke="#af43f6" d="M1691.1 255L1698.2 253.6"/><path stroke="#a940ee" d="M1698.2 253.6L1705.2 252.2"/><path stroke="#a43ee5" d="M1705.2 252.2L1710.2 248.7"/><path stroke="#9f3bdc" d="M1710.2 248.7L1717.4 243.1"/><path stroke="#9a39d4" d="M1717.4 243.1L1719.7 241.2L1735.4 235.6"/><path stroke="#9f3bdc" d="M1735.4 235.6L1745.2 232.7"/><path stroke="#a43ee5" d="M1745.2 232.7L1756.3 231.1"/><path stroke="#a940ee" d="M1756.3 231.1L1767.4 229.5"/><path stroke="#af43f6" d="M1767.4 229.5L1778.6 227.9"/><path stroke="#b445ff" d="M1778.6 227.9L1812.8 224"/><path stroke="#b74efe" d="M1812.8 224L1867.4 219.1"/><path stroke="#ba56fe" d="M1867.4 219.1L1879 218.1"/><path stroke="#bd5ffd" d="M1879 218.1L1882.9 217.7"/><path stroke="#c067fc" d="M1882.9 217.7L1886.8 217.4"/><path stroke="#c370fb" d="M1886.8 217.4L1890.7 217"/><path stroke="#c678fa" d="M1890.7 217L1894.6 216.7"/><path stroke="#c981fa" d="M1894.6 216.7L1898.5 216.3"/><path stroke="#cc89f9" d="M1898.5 216.3L1902.4 216"/><path stroke="#cf92f8" d="M1902.4 216L1910.2 215.3"/><path stroke="#d29af8" d="M1910.2 215.3L1914 214.9"/><path stroke="#d5a3f7" d="M1914 214.9L1917.9 214.6"/><path stroke="#d8acf6" d="M1917.9 214.6L1921.8 214.2"/><path stroke="#dbb4f5" d="M1921.8 214.2L1928.8 212.7"/><path stroke="#debdf4" d="M1928.8 212.7L1932.2 211.9"/><path stroke="#e1c5f4" d="M1932.2 211.9L1935.6 211"/><path stroke="#e4cef3" d="M1935.6 211L1942.3 209.2"/><path stroke="#e7d6f2" d="M1942.3 209.2L1945.7 208.3"/><path stroke="#eadff2" d="M1945.7 208.3L1961.7 207.4"/><path stroke="#ede7f1" d="M1961.7 207.4L1969.8 207L1993.3 209.3"/></g>
<circle r="8" cx="1021.6" cy="911" fill="#7d2ca5"/><circle r="8" cx="1377.3" cy="862.3" fill="#e8d8f2"/><circle r="8" cx="1002.1" cy="948.7" fill="#8e34c1"/><circle r="8" cx="834.8" cy="1162.2" fill="#a940ee"/><circle r="8" cx="796.9" cy="1441.2" fill="#c87ffa"/><circle r="8" cx="1642.3" cy="611.1" fill="#eee9f1"/><circle r="8" cx="1028" cy="875" fill="#4a1552"/><circle r="8" cx="1466.6" cy="776.9" fill="#e0c4f4"/><circle r="8" cx="588.5" cy="1479.2" fill="#8530b3"/><circle r="8" cx="867" cy="1104.5" fill="#8a32ba"/><circle r="8" cx="1011.9" cy="931.7" fill="#8a32ba"/><circle r="8" cx="952.2" cy="1075.3" fill="#be60fd"/><circle r="8" cx="1170.6" cy="1055.8" fill="#e2c7f4"/><circle r="8" cx="997.2" cy="1087.5" fill="#eadff2"/><circle r="8" cx="593.4" cy="1614.3" fill="#c067fc"/><circle r="8" cx="992.4" cy="993.8" fill="#9b39d5"/><circle r="8" cx="953.9" cy="1138.1" fill="#eee9f1"/><circle r="8" cx="974.1" cy="968.9" fill="#8530b3"/><circle r="8" cx="1575.3" cy="700" fill="#e9dbf2"/><circle r="8" cx="890.3" cy="1391.6" fill="#efedf0"/><circle r="8" cx="1003.1" cy="1173.8" fill="#e2c7f4"/><circle r="8" cx="706.3" cy="1380.8" fill="#a940ee"/><circle r="8" cx="1535.7" cy="709.7" fill="#ebe2f1"/><circle r="8" cx="1082.5" cy="1136.2" fill="#e6d5f2"/><circle r="8" cx="1070.2" cy="1200.9" fill="#e2c7f4"/><circle r="8" cx="999.1" cy="1218.2" fill="#cc89f9"/><circle r="8" cx="1201.3" cy="1005.8" fill="#e4cef3"/><circle r="8" cx="1898" cy="373.5" fill="#eee9f1"/><circle r="8" cx="572.6" cy="1499" fill="#d094f8"/><circle r="8" cx="859.2" cy="1252" fill="#debdf4"/><circle r="8" cx="449.5" cy="1814.3" fill="#c87ffa"/><circle r="8" cx="910.6" cy="1276.6" fill="#e2c7f4"/><circle r="8" cx="429.7" cy="1875" fill="#e2c7f4"/><circle r="8" cx="866.5" cy="1262.3" fill="#eadff2"/><circle r="8" cx="735.3" cy="1301" fill="#8530b3"/><circle r="8" cx="1088.6" cy="1121.6" fill="#e4cef3"/><circle r="8" cx="994.8" cy="935.3" fill="#742897"/><circle r="8" cx="985.1" cy="1043.7" fill="#be60fd"/><circle r="8" cx="997.7" cy="1194.6" fill="#eadff2"/><circle r="8" cx="805.1" cy="1457.1" fill="#debdf4"/><circle r="8" cx="1050.5" cy="1236" fill="#e8d8f2"/><circle r="8" cx="920.5" cy="1020.5" fill="#7d2ca5"/><circle r="8" cx="1687.8" cy="577.3" fill="#eee9f1"/><circle r="8" cx="968" cy="1016.9" fill="#9f3bdc"/><circle r="8" cx="902.2" cy="1257.4" fill="#ce90f8"/><circle r="8" cx="664.8" cy="1533.8" fill="#e6d5f2"/><circle r="8" cx="922.2" cy="1144" fill="#c575fb"/><circle r="8" cx="932.8" cy="1191.9" fill="#d6a5f7"/><circle r="8" cx="940" cy="970.6" fill="#4a1552"/><circle r="8" cx="993.1" cy="1162.2" fill="#d29af8"/><circle r="8" cx="1615.3" cy="640.9" fill="#ece6f1"/><circle r="8" cx="476.8" cy="1720.1" fill="#b84ffe"/><circle r="8" cx="921" cy="1040.7" fill="#8530b3"/><circle r="8" cx="960.7" cy="1192.5" fill="#d29af8"/><circle r="8" cx="936.9" cy="1244.7" fill="#e4cef3"/><circle r="8" cx="841.3" cy="1223.9" fill="#cc89f9"/><circle r="8" cx="473.9" cy="1631.8" fill="#7f2da8"/><circle r="8" cx="687.9" cy="1329.9" fill="#be60fd"/><circle r="8" cx="1284.1" cy="927.9" fill="#e8d8f2"/><circle r="8" cx="857.6" cy="1307.5" fill="#d6a5f7"/><circle r="8" cx="959.3" cy="1222.5" fill="#e6d5f2"/><circle r="8" cx="927.9" cy="1266.9" fill="#e8d8f2"/><circle r="8" cx="1599" cy="649" fill="#ece6f1"/><circle r="8" cx="975.3" cy="1126.5" fill="#ece6f1"/><circle r="8" cx="1152.6" cy="1139.1" fill="#e8d8f2"/><circle r="8" cx="1011.3" cy="1194.6" fill="#c678fa"/><circle r="8" cx="1564.9" cy="678.6" fill="#e6d5f2"/><circle r="8" cx="759.9" cy="1477.9" fill="#e9dbf2"/><circle r="8" cx="1005.8" cy="963.3" fill="#9b39d5"/><circle r="8" cx="685.9" cy="1549.4" fill="#c067fc"/><circle r="8" cx="905.2" cy="1231.2" fill="#cc89f9"/><circle r="8" cx="792.6" cy="1384.8" fill="#cc89f9"/><circle r="8" cx="927.4" cy="1256.1" fill="#c678fa"/><circle r="8" cx="1060" cy="840" fill="#551a63"/><circle r="8" cx="1134.8" cy="1069.7" fill="#e9dbf2"/><circle r="8" cx="1243.5" cy="971.8" fill="#e6d5f2"/><circle r="8" cx="840.1" cy="1435.1" fill="#e8d8f2"/><circle r="8" cx="1582.8" cy="660.1" fill="#e8d8f2"/><circle r="8" cx="843.3" cy="1135" fill="#8530b3"/><circle r="8" cx="1041.1" cy="912.2" fill="#9b39d5"/><circle r="8" cx="1225.6" cy="981.5" fill="#e8d8f2"/><circle r="8" cx="1008" cy="1160.8" fill="#d6a5f7"/><circle r="8" cx="815.1" cy="1180.3" fill="#a940ee"/><circle r="8" cx="801.8" cy="1494.5" fill="#f0f0f0"/><circle r="8" cx="953.1" cy="1179.2" fill="#c678fa"/><circle r="8" cx="936.9" cy="1231.2" fill="#d29af8"/><circle r="8" cx="925.4" cy="1081.4" fill="#b043f8"/><circle r="8" cx="871.8" cy="1131.3" fill="#b445ff"/><circle r="8" cx="943.7" cy="1021.8" fill="#812eac"/><circle r="8" cx="701.5" cy="1562.7" fill="#d29af8"/><circle r="8" cx="853" cy="1336.1" fill="#d29af8"/><circle r="8" cx="1485.4" cy="757.5" fill="#ebe2f1"/>
</g>
<path d="M1869.4 143.9V1993.4M277.6 265.5H2186.1" stroke="#000" stroke-width="2.9" fill="none"/>
<rect x="277.6" y="143.9" width="1908.5" height="1849.5" fill="none" stroke="#262626" stroke-width="2.8"/>
<path d="M594.4 1993.4v-19M594.4 143.9v19M913.7 1993.4v-19M913.7 143.9v19M1233.1 1993.4v-19M1233.1 143.9v19M1549.9 1993.4v-19M1549.9 143.9v19M1869.4 1993.4v-19M1869.4 143.9v19M277.6 265.5h19M2186.1 265.5h-19M277.6 513.9h19M2186.1 513.9h-19M277.6 759.6h19M2186.1 759.6h-19M277.6 1007.9h19M2186.1 1007.9h-19M277.6 1254.8h19M2186.1 1254.8h-19M277.6 1502h19M2186.1 1502h-19M277.6 1749h19M2186.1 1749h-19" stroke="#141414" stroke-width="2.8" fill="none"/>
<text x="228.7" y="2063.5" class="tk"><tspan font-size="38.2" dx="-1.5" dy="-4.7">−</tspan><tspan dx="1.5" dy="4.7">10</tspan></text>
<text x="562.4" y="2063.5" class="tk"><tspan font-size="38.2" dx="-1.5" dy="-4.7">−</tspan><tspan dx="1.5" dy="4.7">8</tspan></text>
<text x="881.7" y="2063.5" class="tk"><tspan font-size="38.2" dx="-1.5" dy="-4.7">−</tspan><tspan dx="1.5" dy="4.7">6</tspan></text>
<text x="1201.1" y="2063.5" class="tk"><tspan font-size="38.2" dx="-1.5" dy="-4.7">−</tspan><tspan dx="1.5" dy="4.7">4</tspan></text>
<text x="1517.9" y="2063.5" class="tk"><tspan font-size="38.2" dx="-1.5" dy="-4.7">−</tspan><tspan dx="1.5" dy="4.7">2</tspan></text>
<text x="1851.9" y="2063.5" class="tk">0</text>
<text x="2170" y="2063.5" class="tk">2</text>
<text x="226.8" y="285.8" class="tk">0</text>
<text x="144.3" y="534.2" class="tk"><tspan font-size="38.2" dx="-1.5" dy="-4.7">−</tspan><tspan dx="1.5" dy="4.7">0.5</tspan></text>
<text x="194.8" y="779.9" class="tk"><tspan font-size="38.2" dx="-1.5" dy="-4.7">−</tspan><tspan dx="1.5" dy="4.7">1</tspan></text>
<text x="144.3" y="1028.2" class="tk"><tspan font-size="38.2" dx="-1.5" dy="-4.7">−</tspan><tspan dx="1.5" dy="4.7">1.5</tspan></text>
<text x="194.8" y="1275.1" class="tk"><tspan font-size="38.2" dx="-1.5" dy="-4.7">−</tspan><tspan dx="1.5" dy="4.7">2</tspan></text>
<text x="144.3" y="1522.3" class="tk"><tspan font-size="38.2" dx="-1.5" dy="-4.7">−</tspan><tspan dx="1.5" dy="4.7">2.5</tspan></text>
<text x="194.8" y="1769.3" class="tk"><tspan font-size="38.2" dx="-1.5" dy="-4.7">−</tspan><tspan dx="1.5" dy="4.7">3</tspan></text>
<text x="144.3" y="2015.8" class="tk"><tspan font-size="38.2" dx="-1.5" dy="-4.7">−</tspan><tspan dx="1.5" dy="4.7">3.5</tspan></text>
<g shape-rendering="crispEdges"><rect x="2220.5" y="1966.92" width="41.9" height="29.58" fill="#f0f0f0"/><rect x="2220.5" y="1937.95" width="41.9" height="29.58" fill="#eeebf0"/><rect x="2220.5" y="1908.97" width="41.9" height="29.58" fill="#ece5f1"/><rect x="2220.5" y="1879.99" width="41.9" height="29.58" fill="#eae0f1"/><rect x="2220.5" y="1851.02" width="41.9" height="29.58" fill="#e8daf2"/><rect x="2220.5" y="1822.04" width="41.9" height="29.58" fill="#e6d5f2"/><rect x="2220.5" y="1793.06" width="41.9" height="29.58" fill="#e5cff3"/><rect x="2220.5" y="1764.09" width="41.9" height="29.58" fill="#e3caf3"/><rect x="2220.5" y="1735.11" width="41.9" height="29.58" fill="#e1c5f4"/><rect x="2220.5" y="1706.13" width="41.9" height="29.58" fill="#dfbff4"/><rect x="2220.5" y="1677.16" width="41.9" height="29.58" fill="#ddbaf5"/><rect x="2220.5" y="1648.18" width="41.9" height="29.58" fill="#dbb4f5"/><rect x="2220.5" y="1619.20" width="41.9" height="29.58" fill="#d9aff6"/><rect x="2220.5" y="1590.23" width="41.9" height="29.58" fill="#d7a9f6"/><rect x="2220.5" y="1561.25" width="41.9" height="29.58" fill="#d5a4f7"/><rect x="2220.5" y="1532.28" width="41.9" height="29.58" fill="#d39ff7"/><rect x="2220.5" y="1503.30" width="41.9" height="29.58" fill="#d299f8"/><rect x="2220.5" y="1474.32" width="41.9" height="29.58" fill="#d094f8"/><rect x="2220.5" y="1445.35" width="41.9" height="29.58" fill="#ce8ef9"/><rect x="2220.5" y="1416.37" width="41.9" height="29.58" fill="#cc89f9"/><rect x="2220.5" y="1387.39" width="41.9" height="29.58" fill="#ca83fa"/><rect x="2220.5" y="1358.42" width="41.9" height="29.58" fill="#c87efa"/><rect x="2220.5" y="1329.44" width="41.9" height="29.58" fill="#c679fa"/><rect x="2220.5" y="1300.46" width="41.9" height="29.58" fill="#c473fb"/><rect x="2220.5" y="1271.49" width="41.9" height="29.58" fill="#c26efb"/><rect x="2220.5" y="1242.51" width="41.9" height="29.58" fill="#c068fc"/><rect x="2220.5" y="1213.53" width="41.9" height="29.58" fill="#be63fc"/><rect x="2220.5" y="1184.56" width="41.9" height="29.58" fill="#bd5dfd"/><rect x="2220.5" y="1155.58" width="41.9" height="29.58" fill="#bb58fd"/><rect x="2220.5" y="1126.60" width="41.9" height="29.58" fill="#b953fe"/><rect x="2220.5" y="1097.63" width="41.9" height="29.58" fill="#b74dfe"/><rect x="2220.5" y="1068.65" width="41.9" height="29.58" fill="#b548ff"/><rect x="2220.5" y="1039.67" width="41.9" height="29.58" fill="#b244fc"/><rect x="2220.5" y="1010.70" width="41.9" height="29.58" fill="#af43f7"/><rect x="2220.5" y="981.72" width="41.9" height="29.58" fill="#ac41f1"/><rect x="2220.5" y="952.74" width="41.9" height="29.58" fill="#a840ec"/><rect x="2220.5" y="923.77" width="41.9" height="29.58" fill="#a53ee6"/><rect x="2220.5" y="894.79" width="41.9" height="29.58" fill="#a13de1"/><rect x="2220.5" y="865.81" width="41.9" height="29.58" fill="#9e3bdb"/><rect x="2220.5" y="836.84" width="41.9" height="29.58" fill="#9b3ad6"/><rect x="2220.5" y="807.86" width="41.9" height="29.58" fill="#9738d0"/><rect x="2220.5" y="778.88" width="41.9" height="29.58" fill="#9437cb"/><rect x="2220.5" y="749.91" width="41.9" height="29.58" fill="#9135c5"/><rect x="2220.5" y="720.93" width="41.9" height="29.58" fill="#8d33c0"/><rect x="2220.5" y="691.95" width="41.9" height="29.58" fill="#8a32ba"/><rect x="2220.5" y="662.98" width="41.9" height="29.58" fill="#8730b5"/><rect x="2220.5" y="634.00" width="41.9" height="29.58" fill="#832faf"/><rect x="2220.5" y="605.03" width="41.9" height="29.58" fill="#802daa"/><rect x="2220.5" y="576.05" width="41.9" height="29.58" fill="#7c2ca4"/><rect x="2220.5" y="547.07" width="41.9" height="29.58" fill="#792a9f"/><rect x="2220.5" y="518.10" width="41.9" height="29.58" fill="#762999"/><rect x="2220.5" y="489.12" width="41.9" height="29.58" fill="#722794"/><rect x="2220.5" y="460.14" width="41.9" height="29.58" fill="#6f268e"/><rect x="2220.5" y="431.17" width="41.9" height="29.58" fill="#6c2489"/><rect x="2220.5" y="402.19" width="41.9" height="29.58" fill="#682383"/><rect x="2220.5" y="373.21" width="41.9" height="29.58" fill="#65217e"/><rect x="2220.5" y="344.24" width="41.9" height="29.58" fill="#622078"/><rect x="2220.5" y="315.26" width="41.9" height="29.58" fill="#5e1e73"/><rect x="2220.5" y="286.28" width="41.9" height="29.58" fill="#5b1d6d"/><rect x="2220.5" y="257.31" width="41.9" height="29.58" fill="#571b68"/><rect x="2220.5" y="228.33" width="41.9" height="29.58" fill="#541a62"/><rect x="2220.5" y="199.35" width="41.9" height="29.58" fill="#51185d"/><rect x="2220.5" y="170.38" width="41.9" height="29.58" fill="#4d1757"/><rect x="2220.5" y="141.40" width="41.9" height="29.58" fill="#4a1552"/></g>
<rect x="2220.5" y="141.4" width="41.9" height="1854.5" fill="none" stroke="#262626" stroke-width="3"/>
<path d="M2262.4 1810.5h-18M2262.4 1625h-18M2262.4 1439.6h-18M2262.4 1254.1h-18M2262.4 1068.7h-18M2262.4 883.2h-18M2262.4 697.8h-18M2262.4 512.3h-18M2262.4 326.9h-18" stroke="#262626" stroke-width="3" fill="none"/>
<text x="2281.2" y="2015.9" class="ck">0</text>
<text x="2281.2" y="1830.1" class="ck">0.1</text>
<text x="2281.2" y="1644.3" class="ck">0.2</text>
<text x="2281.2" y="1458.5" class="ck">0.3</text>
<text x="2281.2" y="1272.7" class="ck">0.4</text>
<text x="2281.2" y="1087" class="ck">0.5</text>
<text x="2281.2" y="901.2" class="ck">0.6</text>
<text x="2281.2" y="715.4" class="ck">0.7</text>
<text x="2281.2" y="529.6" class="ck">0.8</text>
<text x="2281.2" y="343.8" class="ck">0.9</text>
<text x="2281.2" y="158" class="ck">1</text>
<text x="744.8" y="89" class="tt" textLength="341.5" lengthAdjust="spacingAndGlyphs">Normalized</text>
<text x="1106" y="89" class="tt" textLength="52" lengthAdjust="spacingAndGlyphs">M</text>
<text x="1160" y="118.5" class="tt" style="font-size:46px">6</text>
<text x="1210.5" y="89" class="tt" textLength="358" lengthAdjust="spacingAndGlyphs">Evaporation</text>
<text x="1590" y="89" class="tt" textLength="129" lengthAdjust="spacingAndGlyphs">Rate</text>
<g ><text transform="translate(945 2152.8) scale(1.2 1)" class="pd">∂</text><text transform="translate(996 2152.8) scale(0.9 1)" class="lb">Z</text><text transform="translate(1032 2180.8) scale(1.08 1)" class="sb">H</text><text x="1092" y="2152.8" class="lb">/</text><text transform="translate(1136 2152.8) scale(1.2 1)" class="pd">∂</text><text transform="translate(1186.5 2152.8) scale(1.1 1)" class="lb">z</text><text transform="translate(1237.1 2152.8) scale(0.94 1)" x="0 22.2 62.1" class="lb">(dB</text><text transform="translate(1346 2152.8) scale(1 1)" x="0 33" class="lb">km</text><text x="1434" y="2122.8" class="sb"><tspan font-size="33.8" dy="-4.1">−</tspan><tspan dy="4.1">1</tspan></text><text x="1489" y="2152.8" class="lb">)</text></g>
<g transform="translate(97.4 1366.7) rotate(-90)"><text transform="translate(-3 0) scale(1.2 1)" class="pd">∂</text><text transform="translate(48 0) scale(0.9 1)" class="lb">Z</text><text transform="translate(85.5 29) scale(0.95 1)" class="sb">DR</text><text x="176" y="0" class="lb">/</text><text transform="translate(219.5 0) scale(1.2 1)" class="pd">∂</text><text transform="translate(269 0) scale(1.1 1)" class="lb">z</text><text transform="translate(321.1 0) scale(0.94 1)" x="0 22.2 62.1" class="lb">(dB</text><text transform="translate(428 0) scale(1 1)" x="0 35" class="lb">km</text><text x="518" y="-30" class="sb"><tspan font-size="33.8" dy="-4.1">−</tspan><tspan dy="4.1">1</tspan></text><text x="573" y="0" class="lb">)</text></g>
</svg>
</body></html>
